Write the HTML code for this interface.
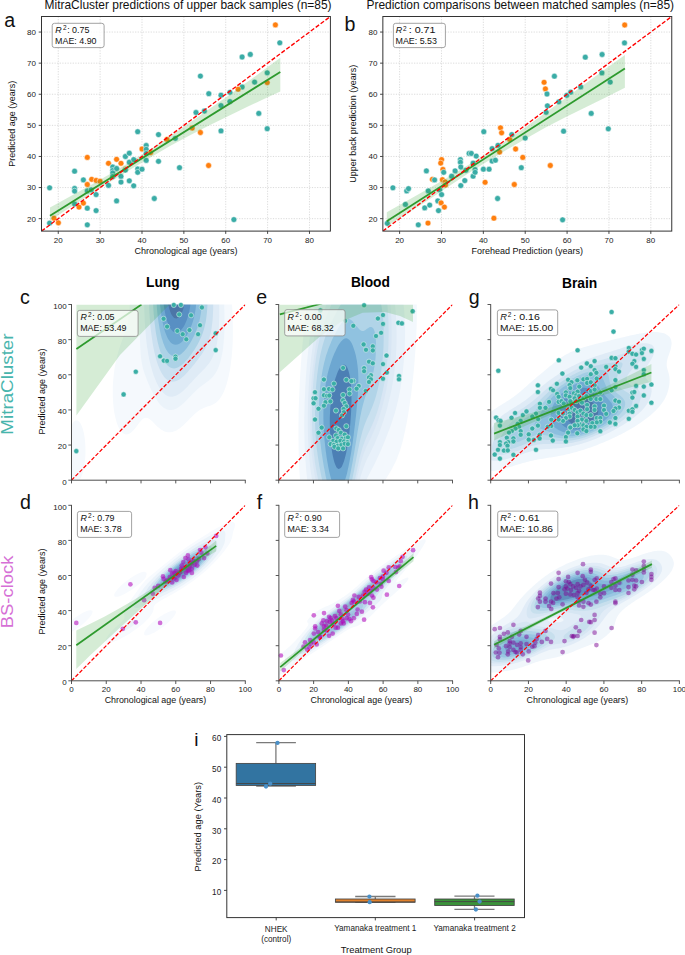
<!DOCTYPE html>
<html><head><meta charset="utf-8"><style>
html,body{margin:0;padding:0;background:#fff;}
body{width:685px;height:955px;overflow:hidden;}
svg{display:block;font-family:"Liberation Sans", sans-serif;}
.pt circle{r:2.55px;fill:#3aaea6;stroke:#fff;stroke-width:0.45px;}
.pp circle{r:2.35px;fill:#b000b8;fill-opacity:0.55;}
.ph circle{r:2.35px;fill:#7d0a95;fill-opacity:0.5;}
.pa circle{r:2.9px;stroke:#fff;stroke-width:0.5px;}
.pa .t{fill:#3aaca6;}.pa .o{fill:#ff7f0e;}
</style></head><body>
<svg width="685" height="955" viewBox="0 0 685 955">
<rect width="685" height="955" fill="#fff"/>
<clipPath id="clipa"><rect x="41.5" y="16.5" width="288.9" height="214.6"/></clipPath>
<line x1="58.25" y1="16.5" x2="58.25" y2="231.1" stroke="#cbcbcb" stroke-width="0.7" stroke-dasharray="1.2,1.4"/>
<line x1="41.5" y1="218.66" x2="330.4" y2="218.66" stroke="#cbcbcb" stroke-width="0.7" stroke-dasharray="1.2,1.4"/>
<line x1="100.12" y1="16.5" x2="100.12" y2="231.1" stroke="#cbcbcb" stroke-width="0.7" stroke-dasharray="1.2,1.4"/>
<line x1="41.5" y1="187.56" x2="330.4" y2="187.56" stroke="#cbcbcb" stroke-width="0.7" stroke-dasharray="1.2,1.4"/>
<line x1="141.99" y1="16.5" x2="141.99" y2="231.1" stroke="#cbcbcb" stroke-width="0.7" stroke-dasharray="1.2,1.4"/>
<line x1="41.5" y1="156.46" x2="330.4" y2="156.46" stroke="#cbcbcb" stroke-width="0.7" stroke-dasharray="1.2,1.4"/>
<line x1="183.86" y1="16.5" x2="183.86" y2="231.1" stroke="#cbcbcb" stroke-width="0.7" stroke-dasharray="1.2,1.4"/>
<line x1="41.5" y1="125.36" x2="330.4" y2="125.36" stroke="#cbcbcb" stroke-width="0.7" stroke-dasharray="1.2,1.4"/>
<line x1="225.73" y1="16.5" x2="225.73" y2="231.1" stroke="#cbcbcb" stroke-width="0.7" stroke-dasharray="1.2,1.4"/>
<line x1="41.5" y1="94.25" x2="330.4" y2="94.25" stroke="#cbcbcb" stroke-width="0.7" stroke-dasharray="1.2,1.4"/>
<line x1="267.6" y1="16.5" x2="267.6" y2="231.1" stroke="#cbcbcb" stroke-width="0.7" stroke-dasharray="1.2,1.4"/>
<line x1="41.5" y1="63.15" x2="330.4" y2="63.15" stroke="#cbcbcb" stroke-width="0.7" stroke-dasharray="1.2,1.4"/>
<line x1="309.47" y1="16.5" x2="309.47" y2="231.1" stroke="#cbcbcb" stroke-width="0.7" stroke-dasharray="1.2,1.4"/>
<line x1="41.5" y1="32.05" x2="330.4" y2="32.05" stroke="#cbcbcb" stroke-width="0.7" stroke-dasharray="1.2,1.4"/>
<g class="pa"><circle class="t" cx="49.6" cy="187.8" r="2.9"/><circle class="t" cx="49.6" cy="223.1" r="2.9"/><circle class="o" cx="54.0" cy="218.2" r="2.9"/><circle class="o" cx="58.4" cy="222.8" r="2.9"/><circle class="t" cx="74.6" cy="171.2" r="2.9"/><circle class="t" cx="74.6" cy="188.5" r="2.9"/><circle class="t" cx="74.6" cy="191.1" r="2.9"/><circle class="t" cx="74.6" cy="204.0" r="2.9"/><circle class="o" cx="79.0" cy="207.1" r="2.9"/><circle class="o" cx="83.4" cy="203.1" r="2.9"/><circle class="t" cx="83.4" cy="179.9" r="2.9"/><circle class="t" cx="87.3" cy="208.2" r="2.9"/><circle class="t" cx="87.3" cy="224.8" r="2.9"/><circle class="o" cx="87.3" cy="157.4" r="2.9"/><circle class="o" cx="87.3" cy="184.5" r="2.9"/><circle class="t" cx="87.3" cy="190.9" r="2.9"/><circle class="t" cx="91.2" cy="189.8" r="2.9"/><circle class="o" cx="91.7" cy="179.3" r="2.9"/><circle class="o" cx="96.1" cy="180.4" r="2.9"/><circle class="o" cx="100.0" cy="181.2" r="2.9"/><circle class="t" cx="96.1" cy="194.6" r="2.9"/><circle class="t" cx="96.1" cy="210.6" r="2.9"/><circle class="t" cx="108.5" cy="185.4" r="2.9"/><circle class="o" cx="108.5" cy="163.3" r="2.9"/><circle class="t" cx="112.7" cy="167.0" r="2.9"/><circle class="t" cx="112.7" cy="170.5" r="2.9"/><circle class="t" cx="112.7" cy="172.9" r="2.9"/><circle class="t" cx="112.7" cy="176.4" r="2.9"/><circle class="t" cx="116.6" cy="168.5" r="2.9"/><circle class="t" cx="116.6" cy="200.9" r="2.9"/><circle class="o" cx="116.6" cy="159.3" r="2.9"/><circle class="o" cx="121.0" cy="163.3" r="2.9"/><circle class="t" cx="121.0" cy="176.4" r="2.9"/><circle class="t" cx="121.0" cy="182.1" r="2.9"/><circle class="o" cx="125.4" cy="169.2" r="2.9"/><circle class="t" cx="125.4" cy="156.5" r="2.9"/><circle class="t" cx="125.4" cy="170.1" r="2.9"/><circle class="t" cx="129.3" cy="153.2" r="2.9"/><circle class="t" cx="129.3" cy="162.2" r="2.9"/><circle class="t" cx="129.3" cy="180.8" r="2.9"/><circle class="t" cx="133.7" cy="159.6" r="2.9"/><circle class="t" cx="133.7" cy="185.8" r="2.9"/><circle class="t" cx="137.7" cy="131.7" r="2.9"/><circle class="t" cx="137.7" cy="169.0" r="2.9"/><circle class="t" cx="137.7" cy="172.3" r="2.9"/><circle class="t" cx="142.0" cy="169.2" r="2.9"/><circle class="o" cx="142.0" cy="149.0" r="2.9"/><circle class="t" cx="146.2" cy="145.5" r="2.9"/><circle class="t" cx="146.2" cy="149.3" r="2.9"/><circle class="t" cx="146.2" cy="153.4" r="2.9"/><circle class="t" cx="146.2" cy="160.4" r="2.9"/><circle class="o" cx="150.6" cy="152.6" r="2.9"/><circle class="t" cx="154.3" cy="198.5" r="2.9"/><circle class="t" cx="158.5" cy="134.6" r="2.9"/><circle class="t" cx="158.5" cy="161.3" r="2.9"/><circle class="o" cx="167.0" cy="139.4" r="2.9"/><circle class="t" cx="175.3" cy="138.3" r="2.9"/><circle class="t" cx="179.5" cy="167.7" r="2.9"/><circle class="o" cx="275.4" cy="24.9" r="2.9"/><circle class="t" cx="279.8" cy="42.8" r="2.9"/><circle class="t" cx="242.1" cy="57.0" r="2.9"/><circle class="t" cx="250.3" cy="54.4" r="2.9"/><circle class="t" cx="200.4" cy="76.1" r="2.9"/><circle class="t" cx="267.2" cy="72.8" r="2.9"/><circle class="t" cx="254.6" cy="82.1" r="2.9"/><circle class="o" cx="267.2" cy="82.6" r="2.9"/><circle class="t" cx="242.1" cy="87.0" r="2.9"/><circle class="o" cx="238.1" cy="89.2" r="2.9"/><circle class="t" cx="208.8" cy="93.7" r="2.9"/><circle class="t" cx="221.0" cy="95.2" r="2.9"/><circle class="t" cx="229.9" cy="92.3" r="2.9"/><circle class="t" cx="221.0" cy="105.6" r="2.9"/><circle class="t" cx="229.9" cy="101.6" r="2.9"/><circle class="t" cx="196.0" cy="112.5" r="2.9"/><circle class="t" cx="204.4" cy="111.0" r="2.9"/><circle class="t" cx="258.8" cy="113.4" r="2.9"/><circle class="o" cx="192.2" cy="128.0" r="2.9"/><circle class="o" cx="200.4" cy="132.5" r="2.9"/><circle class="t" cx="221.0" cy="130.9" r="2.9"/><circle class="t" cx="267.2" cy="128.7" r="2.9"/><circle class="o" cx="208.6" cy="165.5" r="2.9"/><circle class="t" cx="233.9" cy="219.6" r="2.9"/></g>
<path d="M50 207.4 L70 196.61 L90 185.52 L110 174.04 L130 162.05 L150 149.46 L170 136.17 L190 122.58 L210 108.6 L230 94.51 L250 80.12 L265 69.05 L280.3 57.7 L280.3 91.4 L265 98.55 L250 105.62 L230 115.21 L210 125 L190 135.18 L170 146.07 L150 157.66 L130 169.65 L110 182.04 L90 194.72 L70 207.61 L50 220.4Z" fill="#2ca02c" fill-opacity="0.2" clip-path="url(#clipa)"/>
<line x1="50" y1="215.7" x2="280.3" y2="71.9" stroke="#2e9a2e" stroke-width="1.8"/>
<line x1="41.5" y1="231.1" x2="330.4" y2="16.5" stroke="#ff0000" stroke-width="1.35" stroke-dasharray="4.2,1.9" clip-path="url(#clipa)"/>
<rect x="41.5" y="16.5" width="288.9" height="214.6" fill="none" stroke="#333" stroke-width="1"/>
<line x1="58.25" y1="231.1" x2="58.25" y2="233.9" stroke="#333" stroke-width="0.9"/>
<text x="58.25" y="242.7" font-size="8" text-anchor="middle" font-weight="normal" fill="#222">20</text>
<line x1="38.7" y1="218.66" x2="41.5" y2="218.66" stroke="#333" stroke-width="0.9"/>
<text x="36" y="221.51" font-size="8" text-anchor="end" font-weight="normal" fill="#222">20</text>
<line x1="100.12" y1="231.1" x2="100.12" y2="233.9" stroke="#333" stroke-width="0.9"/>
<text x="100.12" y="242.7" font-size="8" text-anchor="middle" font-weight="normal" fill="#222">30</text>
<line x1="38.7" y1="187.56" x2="41.5" y2="187.56" stroke="#333" stroke-width="0.9"/>
<text x="36" y="190.41" font-size="8" text-anchor="end" font-weight="normal" fill="#222">30</text>
<line x1="141.99" y1="231.1" x2="141.99" y2="233.9" stroke="#333" stroke-width="0.9"/>
<text x="141.99" y="242.7" font-size="8" text-anchor="middle" font-weight="normal" fill="#222">40</text>
<line x1="38.7" y1="156.46" x2="41.5" y2="156.46" stroke="#333" stroke-width="0.9"/>
<text x="36" y="159.31" font-size="8" text-anchor="end" font-weight="normal" fill="#222">40</text>
<line x1="183.86" y1="231.1" x2="183.86" y2="233.9" stroke="#333" stroke-width="0.9"/>
<text x="183.86" y="242.7" font-size="8" text-anchor="middle" font-weight="normal" fill="#222">50</text>
<line x1="38.7" y1="125.36" x2="41.5" y2="125.36" stroke="#333" stroke-width="0.9"/>
<text x="36" y="128.21" font-size="8" text-anchor="end" font-weight="normal" fill="#222">50</text>
<line x1="225.73" y1="231.1" x2="225.73" y2="233.9" stroke="#333" stroke-width="0.9"/>
<text x="225.73" y="242.7" font-size="8" text-anchor="middle" font-weight="normal" fill="#222">60</text>
<line x1="38.7" y1="94.25" x2="41.5" y2="94.25" stroke="#333" stroke-width="0.9"/>
<text x="36" y="97.1" font-size="8" text-anchor="end" font-weight="normal" fill="#222">60</text>
<line x1="267.6" y1="231.1" x2="267.6" y2="233.9" stroke="#333" stroke-width="0.9"/>
<text x="267.6" y="242.7" font-size="8" text-anchor="middle" font-weight="normal" fill="#222">70</text>
<line x1="38.7" y1="63.15" x2="41.5" y2="63.15" stroke="#333" stroke-width="0.9"/>
<text x="36" y="66" font-size="8" text-anchor="end" font-weight="normal" fill="#222">70</text>
<line x1="309.47" y1="231.1" x2="309.47" y2="233.9" stroke="#333" stroke-width="0.9"/>
<text x="309.47" y="242.7" font-size="8" text-anchor="middle" font-weight="normal" fill="#222">80</text>
<line x1="38.7" y1="32.05" x2="41.5" y2="32.05" stroke="#333" stroke-width="0.9"/>
<text x="36" y="34.9" font-size="8" text-anchor="end" font-weight="normal" fill="#222">80</text>
<rect x="52.2" y="23.3" width="51.9" height="24.3" rx="2.3" fill="#fff" fill-opacity="0.8" stroke="#8c8c8c" stroke-width="0.8"/>
<text y="32.7" font-size="8.9" fill="#111"><tspan x="55.3" font-style="italic">R</tspan><tspan x="62.9" dy="-2.6" font-size="6.5">2</tspan><tspan x="67.2" dy="2.6">: 0.75</tspan></text>
<text x="55.1" y="43.6" font-size="8.9" text-anchor="start" font-weight="normal" fill="#111">MAE: 4.90</text>
<text x="44.6" y="8.9" font-size="11.95" text-anchor="start" font-weight="normal" fill="#111">MitraCluster predictions of upper back samples (n=85)</text>
<text x="185.95" y="254.1" font-size="9" text-anchor="middle" font-weight="normal" fill="#111">Chronological age (years)</text>
<text x="15.3" y="123.8" font-size="9" text-anchor="middle" font-weight="normal" fill="#111" transform="rotate(-90 15.3 123.8)">Predicted age (years)</text>
<text x="4.2" y="27.2" font-size="19.6" text-anchor="start" font-weight="normal" fill="#111">a</text>
<clipPath id="clipb"><rect x="382.85" y="16.5" width="288.9" height="214.6"/></clipPath>
<line x1="399.6" y1="16.5" x2="399.6" y2="231.1" stroke="#cbcbcb" stroke-width="0.7" stroke-dasharray="1.2,1.4"/>
<line x1="382.85" y1="218.66" x2="671.75" y2="218.66" stroke="#cbcbcb" stroke-width="0.7" stroke-dasharray="1.2,1.4"/>
<line x1="441.47" y1="16.5" x2="441.47" y2="231.1" stroke="#cbcbcb" stroke-width="0.7" stroke-dasharray="1.2,1.4"/>
<line x1="382.85" y1="187.56" x2="671.75" y2="187.56" stroke="#cbcbcb" stroke-width="0.7" stroke-dasharray="1.2,1.4"/>
<line x1="483.34" y1="16.5" x2="483.34" y2="231.1" stroke="#cbcbcb" stroke-width="0.7" stroke-dasharray="1.2,1.4"/>
<line x1="382.85" y1="156.46" x2="671.75" y2="156.46" stroke="#cbcbcb" stroke-width="0.7" stroke-dasharray="1.2,1.4"/>
<line x1="525.21" y1="16.5" x2="525.21" y2="231.1" stroke="#cbcbcb" stroke-width="0.7" stroke-dasharray="1.2,1.4"/>
<line x1="382.85" y1="125.36" x2="671.75" y2="125.36" stroke="#cbcbcb" stroke-width="0.7" stroke-dasharray="1.2,1.4"/>
<line x1="567.08" y1="16.5" x2="567.08" y2="231.1" stroke="#cbcbcb" stroke-width="0.7" stroke-dasharray="1.2,1.4"/>
<line x1="382.85" y1="94.25" x2="671.75" y2="94.25" stroke="#cbcbcb" stroke-width="0.7" stroke-dasharray="1.2,1.4"/>
<line x1="608.95" y1="16.5" x2="608.95" y2="231.1" stroke="#cbcbcb" stroke-width="0.7" stroke-dasharray="1.2,1.4"/>
<line x1="382.85" y1="63.15" x2="671.75" y2="63.15" stroke="#cbcbcb" stroke-width="0.7" stroke-dasharray="1.2,1.4"/>
<line x1="650.82" y1="16.5" x2="650.82" y2="231.1" stroke="#cbcbcb" stroke-width="0.7" stroke-dasharray="1.2,1.4"/>
<line x1="382.85" y1="32.05" x2="671.75" y2="32.05" stroke="#cbcbcb" stroke-width="0.7" stroke-dasharray="1.2,1.4"/>
<g class="pa"><circle class="t" cx="387.3" cy="223.3" r="2.9"/><circle class="t" cx="392.9" cy="187.8" r="2.9"/><circle class="t" cx="405.4" cy="204.4" r="2.9"/><circle class="t" cx="406.7" cy="190.9" r="2.9"/><circle class="t" cx="408.5" cy="188.7" r="2.9"/><circle class="t" cx="418.3" cy="224.8" r="2.9"/><circle class="t" cx="424.7" cy="207.9" r="2.9"/><circle class="t" cx="426.4" cy="170.9" r="2.9"/><circle class="t" cx="428.2" cy="190.9" r="2.9"/><circle class="t" cx="429.7" cy="205.1" r="2.9"/><circle class="o" cx="428.0" cy="223.1" r="2.9"/><circle class="o" cx="432.4" cy="179.3" r="2.9"/><circle class="t" cx="434.6" cy="179.9" r="2.9"/><circle class="t" cx="437.8" cy="200.9" r="2.9"/><circle class="t" cx="438.5" cy="210.6" r="2.9"/><circle class="t" cx="439.8" cy="189.8" r="2.9"/><circle class="t" cx="441.6" cy="194.6" r="2.9"/><circle class="o" cx="441.6" cy="159.6" r="2.9"/><circle class="o" cx="440.7" cy="163.1" r="2.9"/><circle class="o" cx="442.9" cy="169.4" r="2.9"/><circle class="t" cx="443.7" cy="172.3" r="2.9"/><circle class="o" cx="442.4" cy="179.7" r="2.9"/><circle class="o" cx="445.1" cy="181.9" r="2.9"/><circle class="o" cx="445.5" cy="185.0" r="2.9"/><circle class="o" cx="441.1" cy="202.9" r="2.9"/><circle class="o" cx="444.4" cy="207.1" r="2.9"/><circle class="t" cx="451.6" cy="176.2" r="2.9"/><circle class="t" cx="455.1" cy="170.9" r="2.9"/><circle class="t" cx="460.4" cy="159.6" r="2.9"/><circle class="t" cx="460.4" cy="162.2" r="2.9"/><circle class="t" cx="460.8" cy="167.0" r="2.9"/><circle class="t" cx="460.8" cy="185.6" r="2.9"/><circle class="t" cx="464.8" cy="180.6" r="2.9"/><circle class="t" cx="465.9" cy="170.3" r="2.9"/><circle class="t" cx="469.1" cy="153.4" r="2.9"/><circle class="t" cx="471.3" cy="153.4" r="2.9"/><circle class="t" cx="473.1" cy="163.1" r="2.9"/><circle class="t" cx="473.1" cy="176.2" r="2.9"/><circle class="t" cx="475.1" cy="169.6" r="2.9"/><circle class="t" cx="475.1" cy="172.3" r="2.9"/><circle class="t" cx="476.2" cy="156.1" r="2.9"/><circle class="o" cx="485.1" cy="182.3" r="2.9"/><circle class="t" cx="483.4" cy="169.2" r="2.9"/><circle class="t" cx="483.8" cy="131.7" r="2.9"/><circle class="t" cx="489.1" cy="169.2" r="2.9"/><circle class="t" cx="492.1" cy="148.6" r="2.9"/><circle class="t" cx="492.1" cy="161.1" r="2.9"/><circle class="t" cx="495.4" cy="160.2" r="2.9"/><circle class="t" cx="498.0" cy="145.3" r="2.9"/><circle class="o" cx="499.6" cy="152.1" r="2.9"/><circle class="t" cx="497.6" cy="198.5" r="2.9"/><circle class="o" cx="493.9" cy="218.2" r="2.9"/><circle class="o" cx="500.5" cy="127.8" r="2.9"/><circle class="o" cx="501.6" cy="132.8" r="2.9"/><circle class="t" cx="511.8" cy="134.6" r="2.9"/><circle class="o" cx="509.7" cy="139.4" r="2.9"/><circle class="o" cx="515.6" cy="149.0" r="2.9"/><circle class="t" cx="521.3" cy="167.7" r="2.9"/><circle class="o" cx="514.3" cy="184.5" r="2.9"/><circle class="o" cx="522.8" cy="157.4" r="2.9"/><circle class="t" cx="525.2" cy="138.1" r="2.9"/><circle class="o" cx="624.7" cy="25.0" r="2.9"/><circle class="t" cx="624.5" cy="42.9" r="2.9"/><circle class="t" cx="585.3" cy="57.2" r="2.9"/><circle class="t" cx="602.1" cy="54.5" r="2.9"/><circle class="t" cx="554.4" cy="76.2" r="2.9"/><circle class="o" cx="544.1" cy="82.3" r="2.9"/><circle class="o" cx="545.4" cy="88.9" r="2.9"/><circle class="t" cx="547.0" cy="94.0" r="2.9"/><circle class="t" cx="601.9" cy="72.9" r="2.9"/><circle class="t" cx="610.2" cy="82.1" r="2.9"/><circle class="t" cx="580.7" cy="86.9" r="2.9"/><circle class="t" cx="570.6" cy="92.2" r="2.9"/><circle class="t" cx="566.7" cy="95.3" r="2.9"/><circle class="t" cx="558.8" cy="101.8" r="2.9"/><circle class="t" cx="547.4" cy="105.8" r="2.9"/><circle class="t" cx="546.1" cy="112.3" r="2.9"/><circle class="t" cx="591.2" cy="113.4" r="2.9"/><circle class="t" cx="563.6" cy="131.2" r="2.9"/><circle class="t" cx="608.3" cy="128.8" r="2.9"/><circle class="o" cx="550.3" cy="165.5" r="2.9"/><circle class="t" cx="562.6" cy="219.8" r="2.9"/></g>
<path d="M386.8 212.2 L406.64 200.98 L426.48 189.77 L446.32 178.25 L466.17 166.33 L486.01 153.82 L505.85 140.7 L525.69 126.88 L545.53 112.67 L565.38 98.25 L585.22 83.73 L605.06 69.32 L624.9 55 L624.9 87.8 L605.06 97.82 L585.22 107.53 L565.38 117.25 L545.53 127.47 L525.69 138.68 L505.85 150.3 L486.01 162.22 L466.17 174.83 L446.32 188.05 L426.48 201.27 L406.64 213.98 L386.8 226.2Z" fill="#2ca02c" fill-opacity="0.2" clip-path="url(#clipb)"/>
<line x1="386.8" y1="221.2" x2="624.9" y2="68.6" stroke="#2e9a2e" stroke-width="1.8"/>
<line x1="382.85" y1="231.1" x2="671.75" y2="16.5" stroke="#ff0000" stroke-width="1.35" stroke-dasharray="4.2,1.9" clip-path="url(#clipb)"/>
<rect x="382.85" y="16.5" width="288.9" height="214.6" fill="none" stroke="#333" stroke-width="1"/>
<line x1="399.6" y1="231.1" x2="399.6" y2="233.9" stroke="#333" stroke-width="0.9"/>
<text x="399.6" y="242.7" font-size="8" text-anchor="middle" font-weight="normal" fill="#222">20</text>
<line x1="380.05" y1="218.66" x2="382.85" y2="218.66" stroke="#333" stroke-width="0.9"/>
<text x="377.35" y="221.51" font-size="8" text-anchor="end" font-weight="normal" fill="#222">20</text>
<line x1="441.47" y1="231.1" x2="441.47" y2="233.9" stroke="#333" stroke-width="0.9"/>
<text x="441.47" y="242.7" font-size="8" text-anchor="middle" font-weight="normal" fill="#222">30</text>
<line x1="380.05" y1="187.56" x2="382.85" y2="187.56" stroke="#333" stroke-width="0.9"/>
<text x="377.35" y="190.41" font-size="8" text-anchor="end" font-weight="normal" fill="#222">30</text>
<line x1="483.34" y1="231.1" x2="483.34" y2="233.9" stroke="#333" stroke-width="0.9"/>
<text x="483.34" y="242.7" font-size="8" text-anchor="middle" font-weight="normal" fill="#222">40</text>
<line x1="380.05" y1="156.46" x2="382.85" y2="156.46" stroke="#333" stroke-width="0.9"/>
<text x="377.35" y="159.31" font-size="8" text-anchor="end" font-weight="normal" fill="#222">40</text>
<line x1="525.21" y1="231.1" x2="525.21" y2="233.9" stroke="#333" stroke-width="0.9"/>
<text x="525.21" y="242.7" font-size="8" text-anchor="middle" font-weight="normal" fill="#222">50</text>
<line x1="380.05" y1="125.36" x2="382.85" y2="125.36" stroke="#333" stroke-width="0.9"/>
<text x="377.35" y="128.21" font-size="8" text-anchor="end" font-weight="normal" fill="#222">50</text>
<line x1="567.08" y1="231.1" x2="567.08" y2="233.9" stroke="#333" stroke-width="0.9"/>
<text x="567.08" y="242.7" font-size="8" text-anchor="middle" font-weight="normal" fill="#222">60</text>
<line x1="380.05" y1="94.25" x2="382.85" y2="94.25" stroke="#333" stroke-width="0.9"/>
<text x="377.35" y="97.1" font-size="8" text-anchor="end" font-weight="normal" fill="#222">60</text>
<line x1="608.95" y1="231.1" x2="608.95" y2="233.9" stroke="#333" stroke-width="0.9"/>
<text x="608.95" y="242.7" font-size="8" text-anchor="middle" font-weight="normal" fill="#222">70</text>
<line x1="380.05" y1="63.15" x2="382.85" y2="63.15" stroke="#333" stroke-width="0.9"/>
<text x="377.35" y="66" font-size="8" text-anchor="end" font-weight="normal" fill="#222">70</text>
<line x1="650.82" y1="231.1" x2="650.82" y2="233.9" stroke="#333" stroke-width="0.9"/>
<text x="650.82" y="242.7" font-size="8" text-anchor="middle" font-weight="normal" fill="#222">80</text>
<line x1="380.05" y1="32.05" x2="382.85" y2="32.05" stroke="#333" stroke-width="0.9"/>
<text x="377.35" y="34.9" font-size="8" text-anchor="end" font-weight="normal" fill="#222">80</text>
<rect x="393.4" y="23.3" width="52" height="24.3" rx="2.3" fill="#fff" fill-opacity="0.8" stroke="#8c8c8c" stroke-width="0.8"/>
<text y="32.7" font-size="8.9" fill="#111"><tspan x="395.7" font-style="italic">R</tspan><tspan x="403.1" dy="-2.1" font-size="6.5">2</tspan><tspan x="408.7" dy="2.1" textLength="26.8" lengthAdjust="spacingAndGlyphs">: 0.71</tspan></text>
<text x="395.5" y="43.6" font-size="8.9" text-anchor="start" font-weight="normal" fill="#111">MAE: 5.53</text>
<text x="366.5" y="8.9" font-size="11.95" text-anchor="start" font-weight="normal" fill="#111">Prediction comparisons between matched samples (n=85)</text>
<text x="527.3" y="254.1" font-size="9" text-anchor="middle" font-weight="normal" fill="#111">Forehead Prediction (years)</text>
<text x="356.3" y="123.8" font-size="9" text-anchor="middle" font-weight="normal" fill="#111" transform="rotate(-90 356.3 123.8)">Upper back prediction (years)</text>
<text x="344.6" y="30.6" font-size="19.6" text-anchor="start" font-weight="normal" fill="#111">b</text>
<clipPath id="clipc"><rect x="71.5" y="304.5" width="173.8" height="175.7"/></clipPath>
<clipPath id="clipe"><rect x="278.7" y="304.5" width="173.8" height="175.7"/></clipPath>
<clipPath id="clipg"><rect x="490.7" y="304.5" width="188.7" height="175.7"/></clipPath>
<clipPath id="clipd"><rect x="71.5" y="505.3" width="173.8" height="175.5"/></clipPath>
<clipPath id="clipf"><rect x="278.9" y="505.3" width="173.7" height="175.5"/></clipPath>
<clipPath id="cliph"><rect x="490.7" y="505.3" width="188.7" height="175.5"/></clipPath>
<g opacity="0.72" clip-path="url(#clipc)">
<path d="M73.5 480.4L74.5 481.3L76.6 481.9L78.6 480.8L79.4 479.9L80.7 477.9L81.3 476.7L82.5 473.6L83.3 470.4L83.8 468.5L84.0 467.2L84.5 464.1L84.8 462.0L85.2 457.8L85.4 454.6L85.4 451.4L85.4 448.3L85.3 445.1L85.1 442.0L84.8 439.3L84.3 435.6L83.8 432.9L82.9 429.3L81.8 426.2L80.7 423.8L79.6 422.2L78.6 421.2L77.6 420.5L75.5 420.5L73.5 422.0L72.8 423.0L71.4 425.5L70.4 428.1L70.0 429.3L69.4 431.8L68.6 435.6L68.5 437.1L68.5 438.8L68.5 442.0L68.5 445.1L68.5 448.3L68.5 451.4L68.5 454.0L68.5 457.8L68.5 460.9L68.5 464.1L68.5 465.9L68.5 467.2L69.2 470.4L70.1 473.6L71.2 476.7L72.4 479.1ZM122.9 433.1L123.9 433.8L125.9 434.4L128.0 434.2L130.1 433.2L131.1 432.5L132.1 431.6L133.2 430.6L134.2 429.4L135.2 428.2L136.2 426.9L137.3 425.5L138.3 424.1L139.1 423.0L140.4 421.4L141.4 420.3L142.4 419.3L143.4 418.5L145.5 417.8L147.6 418.0L149.6 419.1L150.6 419.9L151.7 420.8L152.7 421.8L153.7 422.8L154.8 423.9L155.8 425.0L156.8 425.9L157.8 426.9L158.9 427.8L159.9 428.6L160.9 429.4L162.0 430.1L164.0 431.2L166.1 431.9L168.1 432.2L170.2 432.3L172.3 432.0L174.3 431.3L176.4 430.4L178.1 429.3L179.5 428.4L180.5 427.7L181.5 426.8L182.5 425.9L183.6 425.0L184.6 424.1L185.6 423.0L186.7 422.0L187.7 421.0L188.7 419.9L189.7 418.8L190.8 417.8L191.8 416.7L192.8 415.7L193.9 414.7L194.9 413.7L195.9 412.9L197.0 412.0L198.0 411.2L199.0 410.5L200.0 409.8L202.1 408.7L204.2 407.7L205.5 407.2L207.2 406.6L209.3 406.0L211.4 405.2L213.4 404.3L215.5 403.0L216.5 402.2L217.5 401.3L218.6 400.2L219.6 398.9L220.4 397.7L221.6 395.9L222.4 394.6L223.7 391.9L224.7 389.4L225.2 388.2L225.8 386.6L226.3 385.1L226.8 383.4L227.2 381.9L227.8 379.7L228.8 375.6L229.4 372.4L229.9 370.0L230.5 366.1L230.9 363.3L231.3 359.8L231.7 356.6L231.9 353.7L232.2 350.3L232.4 347.2L232.6 344.0L232.7 340.8L232.8 337.7L232.8 334.5L232.8 331.4L232.8 328.2L232.8 325.0L232.7 321.9L232.6 318.7L232.5 315.6L232.4 312.4L232.3 309.2L232.1 306.1L231.9 303.1L231.8 301.5L230.5 301.5L229.1 301.5L227.8 301.5L226.5 301.5L224.9 301.5L223.7 301.5L222.4 301.5L220.8 301.5L219.0 301.5L217.5 301.5L216.0 301.5L214.4 301.5L212.4 301.5L211.1 301.5L209.7 301.5L208.3 301.5L206.8 301.5L205.3 301.5L204.0 301.5L202.1 301.5L200.6 301.5L199.3 301.5L198.0 301.5L196.4 301.5L194.9 301.5L193.0 301.5L191.1 301.5L189.7 301.5L187.7 301.5L185.6 301.5L184.4 301.5L182.5 301.5L180.5 301.5L178.4 301.5L176.4 301.5L174.3 301.5L172.3 301.5L170.2 301.5L168.8 301.5L167.1 301.5L165.6 301.5L164.0 301.5L162.1 301.5L160.9 301.5L158.9 301.5L156.8 301.5L154.8 301.5L152.7 301.5L150.6 301.5L149.2 301.5L147.6 301.5L146.3 301.5L144.8 301.5L143.4 301.5L142.2 301.5L140.8 301.5L139.6 301.5L138.3 301.5L136.9 301.5L135.5 301.5L134.2 301.5L132.7 301.5L131.4 301.5L130.1 301.5L129.9 302.9L129.8 306.1L129.6 309.2L129.3 312.4L129.0 314.9L128.5 318.7L128.0 321.5L127.2 325.0L126.4 328.2L125.9 329.7L125.4 331.4L124.9 332.9L124.3 334.5L123.9 335.8L123.2 337.7L122.0 340.8L120.9 344.0L119.8 347.2L118.8 350.3L117.9 353.5L117.0 356.6L116.7 358.0L116.3 359.8L115.7 362.7L115.0 366.1L114.6 368.4L114.0 372.4L113.7 375.6L113.4 378.8L113.1 381.9L112.9 385.1L112.8 388.2L112.8 391.4L112.8 394.6L112.9 397.7L113.1 400.9L113.3 404.0L113.6 406.9L114.0 410.4L114.5 413.5L115.2 416.7L115.7 418.7L116.7 422.4L117.7 425.2L118.7 427.6L119.7 429.3L120.8 431.0L121.8 432.2ZM112.6 301.5L114.6 301.5L116.7 301.5L118.3 301.5L119.8 301.5L121.4 301.5L122.9 301.5L124.3 301.5L122.9 301.5L120.8 301.5L119.0 301.5L117.7 301.5L115.7 301.5L113.6 301.5L111.5 301.5L109.7 301.5L108.5 301.5L107.2 301.5L105.9 301.5L107.2 301.5L108.5 301.5L109.9 301.5L111.5 301.5Z" fill="#f1f7fd" fill-rule="evenodd"/>
<path d="M164.0 407.9L165.1 408.6L167.1 409.5L169.2 409.9L171.2 410.0L173.3 409.7L175.3 409.0L177.4 407.9L178.4 407.3L179.5 406.6L180.5 405.8L181.5 405.0L182.5 404.1L183.6 403.2L184.6 402.2L185.6 401.2L186.7 400.2L187.7 399.1L188.7 398.0L189.7 397.0L190.8 395.9L191.8 394.8L192.8 393.8L193.9 392.7L194.9 391.7L195.9 390.7L197.0 389.8L198.0 388.8L199.0 387.9L200.0 387.1L201.1 386.2L202.1 385.4L203.1 384.7L204.2 383.9L205.2 383.2L206.2 382.4L207.2 381.7L208.3 380.9L209.3 380.1L210.3 379.3L211.4 378.3L212.4 377.3L213.4 376.1L214.4 374.8L215.5 373.3L216.5 371.6L217.5 369.5L218.6 367.1L219.6 364.3L220.0 363.0L220.6 360.8L221.6 356.6L222.2 353.5L222.7 350.9L223.2 347.2L223.5 344.0L223.7 342.3L223.8 340.8L224.1 337.7L224.2 334.5L224.4 331.4L224.5 328.2L224.5 325.0L224.5 321.9L224.5 318.7L224.5 315.6L224.4 312.4L224.3 309.2L224.2 306.1L224.1 302.9L224.0 301.5L222.7 301.5L221.4 301.5L220.0 301.5L218.6 301.5L217.4 301.5L215.9 301.5L214.4 301.5L212.4 301.5L211.1 301.5L209.8 301.5L208.5 301.5L207.2 301.5L205.3 301.5L203.5 301.5L202.1 301.5L200.0 301.5L198.0 301.5L195.9 301.5L193.9 301.5L191.8 301.5L190.2 301.5L188.7 301.5L187.4 301.5L185.8 301.5L184.6 301.5L183.3 301.5L181.9 301.5L180.5 301.5L178.9 301.5L177.4 301.5L175.3 301.5L173.3 301.5L171.2 301.5L169.2 301.5L167.1 301.5L165.1 301.5L163.0 301.5L160.9 301.5L158.9 301.5L156.8 301.5L154.8 301.5L153.5 301.5L152.3 301.5L151.0 301.5L149.6 301.5L148.2 301.5L146.7 301.5L145.5 301.5L144.1 301.5L142.8 301.5L141.4 301.5L140.1 301.5L139.3 302.9L139.3 306.1L139.4 309.2L139.4 312.4L139.5 315.6L139.5 318.7L139.6 321.9L139.6 325.0L139.7 328.2L139.7 331.4L139.8 334.5L139.9 337.7L140.0 340.8L140.1 344.0L140.2 347.2L140.4 349.7L140.6 353.5L140.9 356.6L141.3 359.8L141.8 363.0L142.4 365.9L143.2 369.3L144.2 372.4L145.3 375.6L146.5 378.8L147.6 381.4L148.6 383.9L149.1 385.1L149.6 386.2L150.5 388.2L151.7 390.7L152.7 392.8L153.7 394.6L154.8 396.6L155.4 397.7L156.8 400.0L157.8 401.5L158.9 402.9L159.8 404.0L160.9 405.3L162.0 406.3L163.0 407.2Z" fill="#e4eff9" fill-rule="evenodd"/>
<path d="M166.1 395.2L168.1 396.2L170.2 396.7L172.3 396.7L174.3 396.3L176.4 395.6L178.2 394.6L179.5 393.8L180.5 393.0L181.5 392.2L182.5 391.4L183.6 390.4L184.6 389.5L185.6 388.4L186.7 387.4L187.7 386.4L188.7 385.2L189.7 384.1L190.8 383.0L191.8 381.9L192.8 380.8L193.9 379.7L194.7 378.8L195.9 377.5L197.0 376.4L198.0 375.3L199.0 374.3L200.0 373.2L201.1 372.2L202.1 371.1L203.1 370.1L204.2 369.0L205.2 367.9L206.2 366.8L207.2 365.6L208.3 364.3L209.3 363.0L210.3 361.4L211.3 359.8L212.4 357.8L212.9 356.6L214.2 353.5L215.3 350.3L216.2 347.2L216.5 345.6L216.9 344.0L217.4 340.8L217.9 337.7L218.3 334.5L218.6 331.6L218.8 328.2L219.0 325.0L219.1 321.9L219.2 318.7L219.3 315.6L219.3 312.4L219.3 309.2L219.2 306.1L219.2 302.9L219.1 301.5L217.8 301.5L216.5 301.5L215.0 301.5L213.4 301.5L211.7 301.5L210.3 301.5L208.8 301.5L207.2 301.5L205.2 301.5L203.3 301.5L201.5 301.5L200.0 301.5L198.0 301.5L195.9 301.5L193.9 301.5L191.8 301.5L190.4 301.5L188.7 301.5L186.7 301.5L184.6 301.5L182.5 301.5L180.5 301.5L178.8 301.5L177.4 301.5L175.3 301.5L173.4 301.5L171.3 301.5L169.2 301.5L167.6 301.5L166.1 301.5L164.0 301.5L162.8 301.5L161.4 301.5L159.9 301.5L158.4 301.5L156.8 301.5L155.3 301.5L153.9 301.5L152.6 301.5L151.3 301.5L149.7 301.5L148.2 301.5L147.0 301.5L145.6 301.5L144.3 301.5L144.1 302.9L144.2 306.1L144.3 309.2L144.4 312.4L144.5 314.6L144.7 318.7L144.8 321.9L145.0 325.0L145.2 328.2L145.5 331.4L145.7 334.5L146.0 337.7L146.3 340.8L146.5 342.4L146.7 344.0L147.1 347.2L147.6 350.0L148.1 353.5L148.6 356.0L149.3 359.8L149.6 361.0L150.1 363.0L150.6 365.3L151.7 369.1L152.7 372.4L153.7 375.5L154.8 378.3L155.8 380.8L156.3 381.9L156.8 383.1L157.8 385.1L158.9 387.0L159.7 388.2L160.9 390.2L161.9 391.4L163.0 392.6L164.0 393.6L165.1 394.5Z" fill="#d3e4f3" fill-rule="evenodd"/>
<path d="M166.1 379.0L167.1 379.8L168.1 380.5L170.2 381.4L172.3 381.7L174.3 381.6L176.4 381.0L178.4 380.0L179.5 379.4L180.5 378.7L181.5 377.9L182.5 377.1L183.6 376.2L184.6 375.2L185.6 374.2L186.7 373.1L187.7 372.0L188.7 370.8L189.7 369.6L190.8 368.4L191.8 367.2L192.7 366.1L193.9 364.7L194.9 363.4L195.9 362.1L197.0 360.8L197.7 359.8L199.0 358.1L200.0 356.6L201.1 355.2L202.1 353.7L203.1 352.1L204.2 350.3L205.2 348.5L205.9 347.2L207.2 344.1L208.3 341.5L209.3 338.4L210.3 334.5L211.0 331.4L211.4 329.4L211.6 328.2L212.0 325.0L212.4 321.9L212.7 318.7L212.9 315.6L213.0 312.4L213.2 309.2L213.2 306.1L213.2 302.9L213.2 301.5L211.9 301.5L210.4 301.5L208.7 301.5L207.2 301.5L205.3 301.5L203.1 301.5L201.7 301.5L200.2 301.5L199.0 301.5L197.0 301.5L194.9 301.5L192.9 301.5L190.8 301.5L188.7 301.5L186.7 301.5L184.6 301.5L183.1 301.5L181.5 301.5L179.8 301.5L178.4 301.5L176.4 301.5L174.3 301.5L172.3 301.5L170.2 301.5L168.1 301.5L166.5 301.5L165.1 301.5L163.0 301.5L160.9 301.5L159.3 301.5L157.8 301.5L156.3 301.5L154.8 301.5L153.4 301.5L151.8 301.5L150.3 301.5L149.0 301.5L149.0 302.9L149.1 306.1L149.2 309.2L149.4 312.4L149.6 315.6L149.8 318.7L150.1 321.9L150.3 325.0L150.6 328.2L151.0 331.4L151.4 334.5L151.7 336.8L152.3 340.8L152.7 343.5L153.4 347.2L153.7 349.1L154.0 350.3L154.7 353.5L155.5 356.6L155.8 357.8L156.3 359.8L156.8 361.4L157.3 363.0L157.8 364.5L158.4 366.1L159.7 369.3L160.9 371.8L162.0 373.7L163.0 375.3L164.0 376.7L165.1 377.9Z" fill="#b8d5ea" fill-rule="evenodd"/>
<path d="M169.2 366.8L170.2 367.4L172.3 368.2L174.3 368.4L176.4 368.0L178.4 367.2L180.2 366.1L181.5 365.2L182.5 364.3L183.6 363.4L184.6 362.4L185.6 361.3L186.7 360.1L187.7 358.9L188.7 357.7L189.5 356.6L190.8 355.0L191.8 353.5L192.8 352.1L193.9 350.5L194.9 348.9L195.9 347.3L197.0 345.5L197.8 344.0L199.0 341.7L200.0 339.6L200.9 337.7L202.1 334.8L203.1 331.9L204.2 328.5L205.0 325.0L205.7 321.9L206.2 318.7L206.6 315.6L206.9 312.4L207.2 309.2L207.4 306.1L207.5 302.9L207.6 301.5L206.2 301.5L204.6 301.5L203.3 301.5L201.6 301.5L200.0 301.5L198.4 301.5L197.1 301.5L195.7 301.5L194.2 301.5L192.8 301.5L190.8 301.5L188.8 301.5L186.7 301.5L184.6 301.5L182.5 301.5L181.0 301.5L179.5 301.5L177.4 301.5L175.3 301.5L173.3 301.5L171.2 301.5L169.2 301.5L167.1 301.5L165.6 301.5L164.0 301.5L162.2 301.5L160.9 301.5L158.9 301.5L157.3 301.5L156.1 301.5L154.8 301.5L153.4 301.5L153.1 302.9L153.2 306.1L153.4 309.2L153.6 312.4L153.7 313.8L153.9 315.6L154.2 318.7L154.5 321.9L154.8 324.2L155.3 328.2L155.7 331.4L156.2 334.5L156.8 337.7L157.4 340.8L157.8 342.7L158.2 344.0L158.9 346.9L159.9 350.3L160.9 353.5L162.0 356.2L163.0 358.6L163.6 359.8L165.1 362.3L166.1 363.7L167.1 365.0L168.1 366.0Z" fill="#8dc1dd" fill-rule="evenodd"/>
<path d="M169.2 353.7L170.2 354.6L171.2 355.3L173.3 356.2L175.3 356.4L177.4 356.0L179.5 355.1L180.5 354.4L181.5 353.7L182.5 352.8L183.6 351.8L184.6 350.7L185.6 349.5L186.7 348.2L187.4 347.2L188.7 345.3L189.6 344.0L190.8 342.0L191.5 340.8L192.8 338.3L193.9 336.3L194.7 334.5L195.9 331.7L197.0 329.0L198.0 326.0L199.0 322.5L199.9 318.7L200.5 315.6L201.0 312.4L201.4 309.2L201.7 306.1L201.9 302.9L202.1 301.5L200.8 301.5L199.2 301.5L198.0 301.5L196.0 301.5L193.9 301.5L192.6 301.5L191.3 301.5L189.8 301.5L188.2 301.5L186.7 301.5L184.6 301.5L182.5 301.5L180.5 301.5L178.4 301.5L176.4 301.5L174.3 301.5L172.3 301.5L170.2 301.5L168.2 301.5L166.1 301.5L164.4 301.5L163.1 301.5L161.1 301.5L159.5 301.5L157.9 301.5L156.7 301.5L156.6 302.9L156.8 306.1L157.0 309.2L157.3 312.4L157.6 315.6L157.8 317.3L158.0 318.7L158.5 321.9L158.9 324.6L159.5 328.2L159.9 330.3L160.8 334.5L161.6 337.7L162.0 338.9L162.6 340.8L163.0 342.2L163.7 344.0L165.0 347.2L166.1 349.4L167.1 351.1L168.1 352.5L169.0 353.5Z" fill="#5fa6d1" fill-rule="evenodd"/>
<path d="M173.3 344.3L175.3 344.8L177.4 344.6L178.9 344.0L180.5 343.0L181.5 342.2L182.5 341.2L183.6 340.1L184.6 338.8L185.4 337.7L186.7 335.7L187.3 334.5L188.7 331.9L189.7 329.8L190.4 328.2L191.7 325.0L192.7 321.9L193.7 318.7L194.4 315.6L194.9 313.3L195.6 309.2L195.9 306.5L196.3 302.9L196.5 301.5L195.2 301.5L193.9 301.5L191.9 301.5L190.0 301.5L188.7 301.5L186.7 301.5L184.6 301.5L182.5 301.5L180.5 301.5L178.4 301.5L176.4 301.5L174.3 301.5L172.3 301.5L170.2 301.5L168.1 301.5L166.1 301.5L164.7 301.5L163.0 301.5L161.5 301.5L160.2 301.5L159.9 302.9L160.2 306.1L160.6 309.2L160.9 312.4L161.4 315.6L161.9 318.7L162.5 321.9L163.0 324.1L164.0 328.2L164.9 331.4L166.1 334.5L167.1 336.9L168.1 338.9L169.2 340.5L170.2 341.9L171.2 342.9L172.3 343.7Z" fill="#3787c0" fill-rule="evenodd"/>
<path d="M173.3 331.7L175.3 332.6L177.4 332.5L179.5 331.5L180.5 330.7L181.5 329.6L182.5 328.3L183.6 326.8L184.6 325.0L185.6 322.8L186.7 320.3L187.2 318.7L187.7 317.3L188.2 315.6L188.7 313.7L189.0 312.4L189.7 309.2L190.2 306.1L190.6 302.9L190.8 301.5L189.3 301.5L188.0 301.5L186.7 301.5L185.2 301.5L183.9 301.5L182.5 301.5L180.5 301.5L178.4 301.5L176.4 301.5L174.3 301.5L172.3 301.5L170.2 301.5L168.1 301.5L166.5 301.5L165.1 301.5L163.7 301.5L163.5 302.9L163.9 306.1L164.4 309.2L165.0 312.4L165.6 315.6L166.1 317.4L166.4 318.7L167.1 321.0L168.1 323.9L168.6 325.0L169.2 326.2L170.2 328.1L171.2 329.6L172.3 330.8Z" fill="#1865ac" fill-rule="evenodd"/>
<path d="M172.3 315.8L173.3 317.0L174.3 317.9L176.4 318.5L178.4 317.7L179.5 316.7L180.3 315.6L181.5 313.5L182.0 312.4L182.5 311.1L183.2 309.2L183.6 307.8L184.0 306.1L184.6 302.9L185.0 301.5L183.7 301.5L182.1 301.5L180.5 301.5L178.4 301.5L176.7 301.5L175.3 301.5L173.3 301.5L171.2 301.5L169.2 301.5L167.6 301.5L167.9 302.9L168.1 304.2L168.6 306.1L169.2 308.5L170.2 311.6L171.2 314.0L172.1 315.6Z" fill="#084285" fill-rule="evenodd"/>
</g>
<g class="pt"><circle cx="76.3" cy="451.1" r="2.55"/><circle cx="123.6" cy="394.4" r="2.55"/><circle cx="135.8" cy="371.7" r="2.55"/><circle cx="160.1" cy="356.3" r="2.55"/><circle cx="163.8" cy="360.6" r="2.55"/><circle cx="167.1" cy="360.9" r="2.55"/><circle cx="175.5" cy="356.6" r="2.55"/><circle cx="175.5" cy="358.7" r="2.55"/><circle cx="163.6" cy="318.8" r="2.55"/><circle cx="167.1" cy="326.6" r="2.55"/><circle cx="179.2" cy="314.4" r="2.55"/><circle cx="191.1" cy="315.3" r="2.55"/><circle cx="201.9" cy="307.4" r="2.55"/><circle cx="173.8" cy="305.0" r="2.55"/><circle cx="180.9" cy="305.0" r="2.55"/><circle cx="177.3" cy="330.9" r="2.55"/><circle cx="182.7" cy="334.2" r="2.55"/><circle cx="189.5" cy="330.1" r="2.55"/><circle cx="186.3" cy="339.3" r="2.55"/><circle cx="198.1" cy="334.2" r="2.55"/><circle cx="200.0" cy="325.2" r="2.55"/><circle cx="215.7" cy="333.3" r="2.55"/><circle cx="215.7" cy="350.1" r="2.55"/></g>
<path d="M76.4 304.5 L76.4 415.6 L120 355 L169.6 304.5Z" fill="#2ca02c" fill-opacity="0.2" clip-path="url(#clipc)"/>
<line x1="76.4" y1="349" x2="141.5" y2="304.5" stroke="#2e9a2e" stroke-width="1.75" clip-path="url(#clipc)"/>
<line x1="71.5" y1="480.2" x2="245.3" y2="304.5" stroke="#ff0000" stroke-width="1.25" stroke-dasharray="3.9,1.8" clip-path="url(#clipc)"/>
<line x1="71.5" y1="480.2" x2="71.5" y2="483.4" stroke="#444" stroke-width="0.9"/>
<line x1="68.3" y1="480.2" x2="71.5" y2="480.2" stroke="#444" stroke-width="0.9"/>
<text x="66.6" y="484.5" font-size="8" text-anchor="end" font-weight="normal" fill="#222">0</text>
<line x1="106.26" y1="480.2" x2="106.26" y2="483.4" stroke="#444" stroke-width="0.9"/>
<line x1="68.3" y1="445.06" x2="71.5" y2="445.06" stroke="#444" stroke-width="0.9"/>
<text x="66.6" y="449.36" font-size="8" text-anchor="end" font-weight="normal" fill="#222">20</text>
<line x1="141.02" y1="480.2" x2="141.02" y2="483.4" stroke="#444" stroke-width="0.9"/>
<line x1="68.3" y1="409.92" x2="71.5" y2="409.92" stroke="#444" stroke-width="0.9"/>
<text x="66.6" y="414.22" font-size="8" text-anchor="end" font-weight="normal" fill="#222">40</text>
<line x1="175.78" y1="480.2" x2="175.78" y2="483.4" stroke="#444" stroke-width="0.9"/>
<line x1="68.3" y1="374.78" x2="71.5" y2="374.78" stroke="#444" stroke-width="0.9"/>
<text x="66.6" y="379.08" font-size="8" text-anchor="end" font-weight="normal" fill="#222">60</text>
<line x1="210.54" y1="480.2" x2="210.54" y2="483.4" stroke="#444" stroke-width="0.9"/>
<line x1="68.3" y1="339.64" x2="71.5" y2="339.64" stroke="#444" stroke-width="0.9"/>
<text x="66.6" y="343.94" font-size="8" text-anchor="end" font-weight="normal" fill="#222">80</text>
<line x1="245.3" y1="480.2" x2="245.3" y2="483.4" stroke="#444" stroke-width="0.9"/>
<line x1="68.3" y1="304.5" x2="71.5" y2="304.5" stroke="#444" stroke-width="0.9"/>
<text x="66.6" y="308.8" font-size="8" text-anchor="end" font-weight="normal" fill="#222">100</text>
<line x1="71.5" y1="304.1" x2="71.5" y2="480.65" stroke="#444" stroke-width="0.95"/>
<line x1="71.05" y1="480.2" x2="245.7" y2="480.2" stroke="#444" stroke-width="0.95"/>
<rect x="77.4" y="310.4" width="60.7" height="26" rx="2.3" fill="#fff" fill-opacity="0.7" stroke="#8c8c8c" stroke-width="0.8"/>
<text y="320" font-size="8.9" fill="#111"><tspan x="80.4" font-style="italic">R</tspan><tspan x="88" dy="-2.6" font-size="6.5">2</tspan><tspan x="92.3" dy="2.6">: 0.05</tspan></text>
<text x="80.2" y="331.1" font-size="8.9" text-anchor="start" font-weight="normal" fill="#111">MAE: 53.49</text>
<g opacity="0.72" clip-path="url(#clipe)">
<path d="M331.3 483.2L332.9 483.2L334.5 483.2L336.1 483.2L337.6 483.2L339.2 483.2L340.8 483.2L342.3 483.2L343.9 483.2L345.5 483.2L347.1 483.2L348.6 483.2L350.2 483.2L351.8 483.2L353.3 483.2L354.8 483.2L356.5 483.2L358.1 483.2L359.6 483.2L360.9 483.2L362.4 483.2L363.6 483.2L365.1 483.2L366.7 483.2L368.3 483.2L369.9 483.2L371.4 483.2L372.6 483.2L374.6 483.2L376.1 483.2L377.7 483.2L379.3 483.2L380.9 483.2L382.4 483.2L384.0 482.3L384.8 480.9L385.5 479.7L386.4 478.3L387.1 477.0L387.9 475.7L388.7 474.4L389.5 473.1L390.3 471.7L391.1 470.4L391.9 469.0L392.6 467.6L393.2 466.5L394.2 464.6L395.0 463.0L395.8 461.3L396.6 459.5L397.4 457.6L398.1 455.6L398.9 453.5L399.7 451.2L400.5 448.8L401.3 446.2L401.8 444.3L402.9 440.4L403.6 437.2L404.0 435.5L404.4 433.8L405.0 431.1L405.9 426.6L406.8 422.2L407.6 417.8L408.3 413.4L409.0 408.9L409.7 404.5L409.9 402.9L410.3 400.1L410.7 397.2L410.9 395.7L411.5 391.2L412.0 386.8L412.3 384.6L412.5 382.4L413.0 378.0L413.5 373.5L413.9 369.6L414.3 364.7L414.6 360.7L415.0 355.8L415.3 351.4L415.6 347.0L415.9 342.6L416.1 338.1L416.2 336.6L416.3 333.7L416.5 329.3L416.7 324.9L416.8 320.4L416.8 316.0L416.9 311.6L416.9 307.2L416.8 302.7L416.7 301.5L415.4 301.5L413.9 301.5L412.3 301.5L411.0 301.5L409.1 301.5L407.6 301.5L406.3 301.5L404.4 301.5L402.9 301.5L401.6 301.5L400.2 301.5L399.0 301.5L397.7 301.5L395.8 301.5L394.5 301.5L392.9 301.5L391.2 301.5L389.7 301.5L387.9 301.5L386.4 301.5L385.1 301.5L383.9 301.5L382.5 301.5L381.1 301.5L379.9 301.5L378.5 301.5L377.1 301.5L375.5 301.5L373.8 301.5L372.2 301.5L370.7 301.5L369.1 301.5L367.5 301.5L365.9 301.5L364.4 301.5L362.8 301.5L361.2 301.5L359.6 301.5L358.1 301.5L356.5 301.5L354.9 301.5L353.3 301.5L351.8 301.5L350.2 301.5L348.6 301.5L347.1 301.5L345.5 301.5L343.9 301.5L342.3 301.5L341.1 301.5L339.5 301.5L338.1 301.5L336.8 301.5L335.6 301.5L333.7 301.5L332.3 301.5L330.6 301.5L329.0 301.5L327.7 301.5L326.1 301.5L324.6 301.5L323.1 301.5L321.9 301.5L320.6 301.5L319.1 301.5L317.7 301.5L316.4 301.5L317.9 301.5L319.1 301.5L320.3 301.5L321.8 301.5L320.5 301.5L319.1 301.5L317.3 301.5L316.0 301.5L314.6 301.5L313.3 301.5L311.7 301.5L310.1 301.5L308.8 301.5L307.5 302.7L307.0 306.1L306.3 311.6L305.7 316.0L305.4 318.1L305.1 320.4L304.6 324.7L304.1 329.3L303.8 331.7L303.6 333.7L303.2 338.1L303.1 339.3L302.7 342.6L302.3 347.0L301.9 351.4L301.6 355.8L301.2 360.3L300.9 364.7L300.7 367.5L300.6 369.1L300.3 373.5L300.0 378.0L299.9 380.1L299.8 382.4L299.6 386.8L299.4 391.2L299.2 395.7L299.1 397.0L299.0 400.1L298.9 404.5L298.7 408.9L298.6 413.4L298.6 417.8L298.5 422.2L298.5 426.6L298.5 431.1L298.5 435.5L298.5 439.9L298.6 444.3L298.6 448.8L298.7 453.2L298.9 457.6L299.0 462.0L299.1 464.1L299.2 466.5L299.4 470.9L299.7 475.3L299.9 478.6L300.3 483.2L301.5 483.2L303.1 483.2L304.6 483.2L306.2 483.2L307.8 483.2L309.3 483.2L310.9 483.2L312.5 483.2L314.1 483.2L315.6 483.2L317.2 483.2L318.8 483.2L320.3 483.2L321.9 483.2L323.5 483.2L325.1 483.2L326.6 483.2L328.2 483.2L329.8 483.2L331.2 483.2Z" fill="#eff6fc" fill-rule="evenodd"/>
<path d="M331.3 483.2L332.9 483.2L334.5 483.2L336.1 483.2L337.6 483.2L339.2 483.2L340.8 483.2L342.3 483.2L343.9 483.2L345.2 483.2L347.0 483.2L348.5 483.2L349.9 483.2L351.1 483.2L352.6 483.2L354.1 483.2L355.6 483.2L357.3 483.2L358.9 483.2L360.2 483.2L361.5 483.2L362.8 483.2L364.4 483.2L365.9 481.0L366.5 479.7L367.5 477.6L368.3 476.0L369.1 474.5L369.9 473.0L370.6 471.4L371.4 470.0L372.2 468.5L373.0 466.9L373.8 465.4L374.6 463.9L375.4 462.3L376.1 460.7L376.9 459.1L377.6 457.6L378.5 455.7L379.3 454.0L380.1 452.2L380.9 450.4L381.6 448.8L382.4 446.8L383.2 444.9L384.0 443.0L384.8 441.1L385.2 439.9L386.4 437.1L387.0 435.5L387.9 433.1L388.7 431.1L389.5 428.9L390.3 426.7L391.1 424.5L391.9 422.3L392.6 419.9L393.3 417.8L394.2 415.0L394.7 413.4L395.8 409.6L396.6 406.6L397.1 404.5L398.1 400.1L398.9 396.5L399.7 392.5L399.9 391.2L400.5 388.1L400.7 386.8L401.3 383.3L402.0 378.0L402.6 373.5L402.9 371.3L403.1 369.1L403.5 364.7L403.9 360.3L404.3 355.8L404.4 353.3L404.5 351.4L404.8 347.0L404.9 342.6L405.0 338.1L405.1 333.7L405.1 329.3L405.0 324.9L404.8 320.4L404.6 316.0L404.4 313.5L404.3 311.6L403.9 307.2L403.6 304.7L403.4 302.7L402.9 301.5L401.6 301.5L400.2 301.5L398.9 301.5L397.4 301.5L395.9 301.5L394.6 301.5L393.4 301.5L392.0 301.5L390.5 301.5L388.8 301.5L387.1 301.5L385.6 301.5L384.0 301.5L382.4 301.5L380.9 301.5L379.4 301.5L378.0 301.5L376.6 301.5L375.4 301.5L374.1 301.5L372.8 301.5L371.5 301.5L370.2 301.5L368.4 301.5L366.8 301.5L365.1 301.5L363.7 301.5L362.0 301.5L360.4 301.5L358.9 301.5L357.3 301.5L355.8 301.5L354.1 301.5L352.6 301.5L351.0 301.5L349.4 301.5L347.8 301.5L346.3 301.5L344.9 301.5L343.3 301.5L342.0 301.5L340.8 301.5L339.2 301.5L337.6 301.5L336.3 301.5L334.8 301.5L333.5 301.5L334.8 301.5L333.6 301.5L332.1 301.5L330.8 301.5L329.5 301.5L328.2 301.5L326.6 301.5L325.1 301.5L323.5 301.5L321.9 301.5L320.3 301.5L318.8 301.5L317.3 301.5L315.6 301.9L314.8 305.8L314.6 307.2L314.1 310.0L313.8 311.6L313.3 314.3L313.0 316.0L312.5 318.9L312.2 320.4L311.7 323.8L310.9 329.1L310.3 333.7L309.7 338.1L309.3 340.7L309.1 342.6L308.6 347.0L308.1 351.4L307.8 354.7L307.2 360.3L307.0 363.1L306.8 364.7L306.5 369.1L306.2 372.8L305.8 378.0L305.6 382.4L305.4 384.9L305.3 386.8L305.1 391.2L304.9 395.7L304.7 400.1L304.6 403.0L304.6 404.5L304.5 408.9L304.4 413.4L304.3 417.8L304.3 422.2L304.3 426.6L304.3 431.1L304.4 435.5L304.5 439.9L304.6 444.2L304.8 448.8L305.0 453.2L305.3 457.6L305.4 460.0L305.6 462.0L305.9 466.5L306.2 470.0L306.7 475.3L307.0 477.7L307.2 479.7L307.8 483.2L309.1 483.2L310.8 483.2L312.5 483.2L314.1 483.2L315.3 483.2L316.7 483.2L318.0 483.2L319.4 483.2L320.9 483.2L322.4 483.2L324.1 483.2L325.8 483.2L327.4 483.2L329.0 483.2L330.6 483.2Z" fill="#e0ecf8" fill-rule="evenodd"/>
<path d="M331.3 483.2L332.9 483.2L334.5 483.2L336.1 483.2L337.6 483.2L339.2 483.2L340.8 483.2L342.3 483.2L343.9 483.2L345.5 483.2L347.1 483.2L348.6 483.2L350.2 483.2L351.8 483.2L353.3 483.2L354.9 483.2L356.5 483.2L358.1 483.2L359.6 480.4L360.4 477.5L361.0 475.3L362.0 472.1L362.4 470.9L362.8 469.7L363.6 467.5L364.4 465.4L365.1 463.4L365.7 462.0L366.7 459.8L367.5 458.1L368.3 456.5L369.1 455.0L369.9 453.4L370.6 451.9L371.4 450.3L372.2 448.8L373.0 447.1L373.8 445.4L374.6 443.7L375.4 442.0L376.1 440.1L376.9 438.3L377.7 436.4L378.5 434.4L379.3 432.4L379.8 431.1L380.9 428.1L381.4 426.6L382.4 423.5L382.9 422.2L384.0 418.7L384.8 416.1L385.6 413.5L386.4 410.8L386.9 408.9L387.9 404.9L388.7 401.8L389.1 400.1L389.5 398.6L390.2 395.7L391.1 391.5L391.9 387.5L392.6 383.2L393.4 378.5L394.2 373.5L394.7 369.1L395.0 366.6L395.2 364.7L395.6 360.3L395.8 358.3L396.0 355.8L396.2 351.4L396.4 347.0L396.6 342.6L396.6 338.1L396.6 333.7L396.6 330.8L396.5 329.3L396.4 324.9L396.2 320.4L396.0 316.0L395.8 313.3L395.7 311.6L395.3 307.2L395.0 303.3L394.5 301.5L393.1 301.5L391.9 301.5L390.3 301.5L388.7 301.5L387.4 301.5L385.6 301.5L384.0 301.5L382.7 301.5L380.9 301.5L379.3 301.5L377.7 301.5L376.1 301.5L374.6 301.5L373.3 301.5L371.4 301.5L369.9 301.5L368.5 301.5L367.1 301.5L365.8 301.5L364.4 301.5L362.8 301.5L361.2 301.5L359.6 301.5L358.3 301.5L357.0 301.5L355.7 301.5L354.1 301.5L352.7 301.5L351.0 301.5L349.7 301.5L347.8 301.5L346.3 301.5L344.7 301.5L343.1 301.5L341.9 301.5L340.6 301.5L339.3 301.5L337.9 301.5L336.5 301.5L335.3 301.5L333.7 301.5L332.2 301.5L330.6 301.5L329.2 301.5L327.4 301.5L325.8 301.5L324.3 301.5L322.8 301.5L321.5 302.7L321.1 304.1L320.3 307.1L319.6 310.1L319.2 311.6L318.8 313.3L318.1 316.0L317.2 320.2L316.4 324.0L315.6 328.0L315.4 329.3L314.8 332.3L314.6 333.7L314.1 337.0L313.3 342.0L312.6 347.0L312.0 351.4L311.7 353.6L311.4 355.8L310.9 360.3L310.5 364.7L310.1 368.4L309.7 373.5L309.3 377.8L309.0 382.4L308.7 386.8L308.6 390.2L308.3 395.7L308.1 400.1L308.0 404.5L307.9 408.9L307.8 413.4L307.8 417.1L307.8 422.2L307.8 426.6L307.9 431.1L308.0 435.5L308.2 439.9L308.4 444.3L308.6 447.9L308.9 453.2L309.3 457.6L309.7 462.0L310.1 466.3L310.7 470.9L310.9 472.5L311.3 475.3L311.7 477.8L312.0 479.7L312.5 482.4L313.7 483.2L315.6 483.2L317.2 483.2L318.8 483.2L320.3 483.2L321.8 483.2L323.2 483.2L324.7 483.2L326.3 483.2L328.2 483.2L329.8 483.2Z" fill="#d3e3f3" fill-rule="evenodd"/>
<path d="M332.9 483.2L334.5 483.2L336.1 483.2L337.6 483.2L339.2 483.2L340.7 483.2L342.3 483.2L343.9 483.2L345.4 483.2L347.0 483.2L348.3 483.2L349.6 483.2L351.0 483.2L352.6 483.2L353.8 483.2L355.7 483.2L356.5 480.8L357.3 477.3L357.7 475.3L358.1 473.8L358.8 470.9L359.6 467.3L360.4 464.3L361.0 462.0L362.0 458.7L362.8 456.3L363.6 454.0L364.4 451.8L365.1 449.9L365.9 448.0L366.7 446.2L367.5 444.5L368.3 442.9L369.1 441.3L369.7 439.9L370.6 438.1L371.4 436.5L372.2 434.8L373.0 433.1L373.8 431.3L374.6 429.4L375.4 427.5L376.1 425.5L376.9 423.5L377.4 422.2L378.5 419.0L378.9 417.8L380.1 414.2L380.9 411.6L381.6 408.9L382.4 406.1L382.9 404.5L383.2 403.1L384.0 400.1L384.8 396.6L385.6 393.1L386.0 391.2L386.4 389.2L386.8 386.8L387.1 385.1L387.6 382.4L387.9 380.5L388.3 378.0L388.7 375.4L389.0 373.5L389.5 369.6L390.1 364.7L390.3 362.3L390.5 360.3L390.8 355.8L391.1 352.3L391.3 347.0L391.5 342.6L391.6 338.1L391.6 333.7L391.6 329.3L391.5 324.9L391.4 320.4L391.2 316.0L391.1 313.9L390.9 311.6L390.6 307.2L390.3 302.7L389.9 301.5L388.4 301.5L387.1 301.5L385.6 301.5L384.0 301.5L382.4 301.5L380.9 301.5L379.3 301.5L377.7 301.5L376.1 301.5L374.6 301.5L373.0 301.5L371.4 301.5L369.9 301.5L368.3 301.5L366.8 301.5L365.1 301.5L363.6 301.5L362.0 301.5L360.4 301.5L358.9 301.5L360.1 301.5L361.7 301.5L363.0 301.5L364.3 301.5L362.8 301.5L361.2 301.5L359.6 301.5L358.2 301.5L356.6 301.5L354.9 301.5L353.3 301.5L351.8 301.5L350.2 301.5L348.6 301.5L347.1 301.5L345.7 301.5L344.4 301.5L343.1 301.5L341.6 301.5L340.0 301.5L338.7 301.5L336.8 301.5L335.3 301.5L333.7 301.5L332.2 301.5L330.6 301.5L329.0 301.5L327.4 302.1L326.6 304.2L325.8 306.4L325.1 308.6L324.3 310.9L323.5 313.3L322.7 315.8L321.9 318.3L321.3 320.4L320.3 324.0L319.6 327.1L319.0 329.3L318.1 333.7L317.2 337.8L316.4 342.0L315.6 346.6L314.9 351.4L314.2 355.8L314.1 357.2L313.7 360.3L313.3 363.5L312.7 369.1L312.5 370.9L312.2 373.5L311.8 378.0L311.7 379.8L311.5 382.4L311.2 386.8L310.9 391.2L310.7 395.7L310.5 400.1L310.4 404.5L310.3 408.9L310.2 413.4L310.2 417.8L310.2 422.2L310.3 426.6L310.4 431.1L310.6 435.5L310.8 439.9L310.9 441.9L311.1 444.3L311.4 448.8L311.7 452.4L312.2 457.6L312.5 460.0L312.7 462.0L313.3 466.1L314.0 470.9L314.8 475.3L315.6 479.7L316.4 483.2L318.0 483.2L319.6 483.2L320.8 483.2L322.0 483.2L323.3 483.2L324.6 483.2L325.8 483.2L327.4 483.2L329.0 483.2L330.6 483.2L332.1 483.2Z" fill="#c9ddf0" fill-rule="evenodd"/>
<path d="M332.1 483.2L333.7 483.2L335.3 483.2L336.8 483.2L338.4 483.2L340.0 483.2L341.6 483.2L343.1 483.2L344.4 483.2L346.1 483.2L347.5 483.2L348.8 483.2L350.2 483.2L351.8 483.2L353.0 483.2L354.9 479.7L355.7 476.0L356.5 472.2L356.8 470.9L357.3 468.5L357.7 466.5L358.1 464.9L358.7 462.0L359.6 458.1L360.4 455.0L360.9 453.2L362.0 449.3L362.8 446.8L363.6 444.4L364.4 442.3L365.1 440.2L365.9 438.4L366.7 436.6L367.2 435.5L368.3 433.2L369.1 431.6L369.9 429.9L370.6 428.3L371.4 426.6L372.2 424.8L373.0 423.0L373.8 421.1L374.6 419.1L375.1 417.8L376.1 414.9L376.7 413.4L377.7 410.2L378.1 408.9L378.5 407.7L379.3 405.0L380.1 402.2L380.6 400.1L381.6 396.0L382.4 392.5L382.7 391.2L383.2 388.8L383.6 386.8L384.0 384.8L384.4 382.4L384.8 380.4L385.2 378.0L385.6 375.4L385.8 373.5L386.4 369.7L386.9 364.7L387.1 362.7L387.4 360.3L387.8 355.8L387.9 353.3L388.1 351.4L388.3 347.0L388.5 342.6L388.6 338.1L388.6 333.7L388.6 329.3L388.5 324.9L388.4 320.4L388.2 316.0L387.9 311.9L387.6 307.2L387.2 302.7L386.7 301.5L385.4 301.5L384.0 301.5L382.4 301.5L380.9 301.5L379.3 301.5L377.7 301.5L376.1 301.5L374.6 301.5L373.0 301.5L371.4 301.5L369.9 301.5L368.3 301.5L366.7 301.5L365.1 301.5L363.6 301.5L362.0 301.5L360.4 301.5L358.9 301.5L357.3 301.5L355.7 301.5L354.5 301.5L352.6 301.5L351.0 301.5L349.4 301.5L347.8 301.5L346.3 301.5L344.7 301.5L343.2 301.5L341.6 301.5L340.0 301.5L338.4 301.5L336.8 301.5L335.3 301.5L334.1 301.5L332.2 302.7L331.3 304.5L330.6 306.4L329.8 308.2L329.0 310.0L328.3 311.6L327.4 313.8L326.6 315.8L325.8 317.8L325.1 319.9L324.3 322.1L323.5 324.5L322.7 327.0L322.0 329.3L321.1 332.5L320.8 333.7L320.3 335.5L319.7 338.1L318.8 342.4L318.0 346.3L317.2 350.5L316.4 355.3L315.7 360.3L315.1 364.7L314.8 366.7L314.6 369.1L314.1 373.5L313.7 378.0L313.3 382.4L313.0 386.8L312.7 391.2L312.5 395.0L312.3 400.1L312.1 404.5L312.0 408.9L312.0 413.4L312.0 417.8L312.0 422.2L312.1 426.6L312.2 431.1L312.4 435.5L312.7 439.9L313.0 444.3L313.3 447.4L313.4 448.8L313.8 453.2L314.1 455.1L314.4 457.6L314.8 461.3L315.6 466.5L316.4 470.9L317.2 475.3L318.0 479.2L318.8 482.8L320.1 483.2L321.9 483.2L323.4 483.2L324.7 483.2L326.0 483.2L327.4 483.2L329.0 483.2L330.6 483.2ZM351.8 301.5L353.3 301.5L354.9 301.5L356.4 301.5L358.0 301.5L359.5 301.5L360.7 301.5L359.4 301.5L358.1 301.5L356.5 301.5L354.9 301.5L353.3 301.5L352.1 301.5L350.9 301.5L349.5 301.5L351.0 301.5Z" fill="#b5d4e9" fill-rule="evenodd"/>
<path d="M333.7 483.2L335.3 483.2L336.8 483.2L338.4 483.2L340.0 483.2L341.6 483.2L343.1 483.2L344.7 483.2L346.3 483.2L347.8 483.2L349.2 483.2L351.0 483.2L351.8 481.8L352.2 479.7L352.6 478.0L353.1 475.3L353.3 474.1L354.0 470.9L354.8 466.5L355.7 462.0L356.5 457.8L357.3 453.7L358.1 449.8L358.9 446.0L359.2 444.3L359.6 442.4L360.2 439.9L361.2 435.9L362.0 432.9L362.5 431.1L363.6 427.8L364.0 426.6L365.1 423.4L365.6 422.2L366.7 419.6L367.5 417.8L368.3 416.1L369.1 414.4L369.9 412.6L370.6 410.8L371.4 409.0L372.2 407.0L373.0 405.0L373.8 402.8L374.6 400.5L375.4 398.0L376.1 395.7L376.9 392.5L377.3 391.2L377.7 389.4L378.3 386.8L379.3 382.4L380.1 378.1L380.8 373.5L381.5 369.1L382.0 364.7L382.4 361.2L382.9 355.8L383.2 351.8L383.5 347.0L383.6 342.6L383.7 338.1L383.7 333.7L383.7 329.3L383.5 324.9L383.2 320.4L382.9 316.0L382.4 311.9L381.7 307.2L380.9 302.9L380.1 301.5L378.5 301.5L377.0 301.5L375.4 301.5L373.8 301.5L372.2 301.5L370.8 301.5L369.1 301.5L367.5 301.5L365.9 301.5L364.4 301.5L362.8 301.5L361.2 301.5L359.6 301.5L358.1 301.5L356.5 301.5L354.9 301.5L353.3 301.5L351.8 301.5L350.2 301.5L348.6 301.5L347.1 301.5L345.5 301.5L343.9 301.5L342.3 302.0L341.6 303.2L340.8 304.5L340.0 305.8L339.2 307.2L338.4 308.6L337.6 310.0L336.8 311.5L336.1 313.0L335.3 314.5L334.5 316.0L333.7 317.6L332.9 319.2L332.3 320.4L331.3 322.4L330.6 324.1L329.8 325.8L329.0 327.5L328.2 329.3L327.4 331.2L326.6 333.2L325.8 335.3L325.1 337.5L324.3 339.9L323.5 342.4L322.7 345.2L322.2 347.0L321.9 348.2L321.1 351.4L320.3 355.1L319.6 359.1L319.3 360.3L318.8 363.6L318.0 368.8L317.4 373.5L317.2 374.8L316.9 378.0L316.4 382.3L316.0 386.8L315.7 391.2L315.6 392.5L315.4 395.7L315.2 400.1L315.1 404.5L315.0 408.9L315.0 413.4L315.0 417.8L315.0 422.2L315.2 426.6L315.4 431.1L315.6 435.4L316.0 439.9L316.4 444.3L316.8 448.8L317.2 451.8L317.4 453.2L318.0 457.6L318.7 462.0L319.4 466.5L320.3 470.9L321.1 475.3L321.9 479.1L322.7 482.7L324.1 483.2L325.8 483.2L327.4 483.2L329.0 483.2L330.6 483.2L332.1 483.2L333.5 483.2Z" fill="#94c4df" fill-rule="evenodd"/>
<path d="M334.5 483.2L336.1 483.2L337.6 483.2L339.2 483.2L340.8 483.2L342.3 483.2L343.7 483.2L345.4 483.2L346.7 483.2L348.6 481.3L349.0 479.7L349.4 477.9L350.0 475.3L350.9 470.9L351.7 466.5L352.6 462.0L353.3 457.6L354.1 453.2L354.8 448.8L355.6 444.3L356.3 439.9L356.5 438.6L357.0 435.5L357.3 433.8L357.7 431.1L358.1 429.1L358.5 426.6L358.9 424.5L359.3 422.2L359.6 420.1L360.1 417.8L360.4 416.0L361.0 413.4L361.2 412.2L361.9 408.9L362.8 405.4L363.6 402.4L364.3 400.1L365.1 397.3L365.7 395.7L366.7 392.9L367.4 391.2L368.3 388.8L369.1 386.8L369.9 384.6L370.6 382.4L371.4 379.7L371.9 378.0L373.0 373.8L373.8 370.0L374.6 365.4L375.3 360.3L375.7 355.8L375.9 351.4L376.1 347.0L376.0 342.6L375.7 338.1L375.4 335.2L375.1 333.7L374.6 331.5L373.8 329.3L373.0 328.0L371.4 326.9L369.9 327.1L368.3 328.0L366.7 329.1L365.1 330.3L363.6 331.0L362.0 331.0L360.4 330.3L359.3 329.3L358.1 328.0L357.3 327.0L356.5 326.0L355.7 324.9L354.9 323.9L354.1 322.9L353.3 322.0L351.8 320.5L350.2 319.4L348.6 318.8L347.1 318.9L345.5 319.5L344.2 320.4L343.1 321.3L341.6 323.1L340.8 324.2L340.0 325.3L339.2 326.5L338.4 327.8L337.6 329.1L336.8 330.5L336.1 331.9L335.3 333.4L334.5 334.9L333.7 336.5L332.9 338.1L332.1 339.8L331.3 341.5L330.6 343.4L329.8 345.2L329.1 347.0L328.2 349.3L327.5 351.4L326.6 353.9L326.0 355.8L325.1 359.2L324.3 362.3L323.7 364.7L322.8 369.1L322.0 373.5L321.3 378.0L320.7 382.4L320.3 385.4L320.2 386.8L319.8 391.2L319.6 394.2L319.5 395.7L319.2 400.1L319.0 404.5L318.9 408.9L318.9 413.4L318.9 417.8L319.0 422.2L319.2 426.6L319.4 431.1L319.6 432.8L319.8 435.5L320.1 439.9L320.3 441.9L320.6 444.3L321.1 448.8L321.7 453.2L321.9 454.6L322.4 457.6L322.7 459.7L323.1 462.0L323.5 464.5L323.8 466.5L324.3 468.8L324.7 470.9L325.1 472.9L325.5 475.3L325.8 476.8L326.5 479.7L327.4 483.2L328.7 483.2L330.0 483.2L331.3 483.2L332.9 483.2Z" fill="#66abd4" fill-rule="evenodd"/>
<path d="M335.3 483.2L336.8 483.2L338.4 483.2L340.0 483.2L341.6 483.2L343.1 483.2L344.7 481.1L345.1 479.7L346.3 475.9L347.1 472.9L347.5 470.9L347.8 469.6L348.5 466.5L349.4 462.0L350.2 457.8L351.0 453.2L351.7 448.8L352.4 444.3L352.6 443.0L353.0 439.9L353.3 437.3L353.6 435.5L354.1 431.3L354.7 426.6L354.9 424.9L355.2 422.2L355.7 418.0L356.2 413.4L356.5 410.4L356.6 408.9L357.1 404.5L357.3 401.7L357.4 400.1L357.8 395.7L358.0 391.2L358.1 390.0L358.2 386.8L358.3 382.4L358.3 378.0L358.2 373.5L358.1 371.7L357.9 369.1L357.4 364.7L356.8 360.3L356.5 358.9L355.9 355.8L354.9 352.1L354.1 349.5L353.3 347.2L352.6 345.3L351.8 343.6L351.0 342.1L350.2 340.9L349.4 340.0L347.8 338.7L346.3 338.2L344.7 338.5L343.1 339.4L341.6 340.9L340.8 341.8L340.0 342.9L339.2 344.1L338.4 345.3L337.6 346.7L336.8 348.2L336.1 349.7L335.3 351.4L334.5 353.1L333.7 355.0L332.9 356.9L332.1 359.0L331.7 360.3L330.6 363.5L330.2 364.7L329.8 366.0L329.0 368.7L328.2 371.7L327.7 373.5L327.4 375.0L326.8 378.0L326.0 382.4L325.3 386.8L325.1 388.3L324.7 391.2L324.3 395.2L323.9 400.1L323.6 404.5L323.5 407.8L323.4 413.4L323.4 417.8L323.5 422.2L323.6 426.6L323.8 431.1L324.2 435.5L324.3 436.9L324.5 439.9L325.0 444.3L325.5 448.8L325.8 451.6L326.1 453.2L326.6 457.2L327.4 462.0L328.2 466.5L329.0 470.4L329.8 474.0L330.1 475.3L330.6 477.1L331.3 479.7L332.1 482.3L333.7 483.2L335.1 483.2Z" fill="#3585bf" fill-rule="evenodd"/>
<path d="M336.8 467.7L338.4 468.9L340.0 468.6L341.6 466.9L342.3 465.4L343.1 463.6L343.7 462.0L344.7 458.8L345.0 457.6L345.5 455.8L346.1 453.2L347.0 448.8L347.7 444.3L348.4 439.9L348.6 438.3L349.0 435.5L349.4 432.1L350.0 426.6L350.2 424.4L350.4 422.2L350.7 417.8L351.0 413.9L351.2 408.9L351.4 404.5L351.5 400.1L351.4 395.7L351.3 391.2L351.1 386.8L350.7 382.4L350.2 378.6L349.4 374.2L348.6 371.2L347.9 369.1L347.1 367.2L346.3 366.1L344.7 364.8L343.1 364.8L341.6 365.9L340.0 367.8L339.2 369.1L338.4 370.6L337.6 372.3L337.1 373.5L336.1 376.4L335.5 378.0L334.5 381.5L333.7 384.6L333.2 386.8L332.9 388.1L332.3 391.2L331.6 395.7L331.3 397.3L331.0 400.1L330.6 404.2L330.2 408.9L330.0 413.4L329.8 417.8L329.8 422.2L329.9 426.6L330.0 431.1L330.3 435.5L330.6 438.9L331.1 444.3L331.3 446.4L331.6 448.8L332.1 451.9L332.3 453.2L332.9 456.2L333.2 457.6L333.7 459.7L334.3 462.0L335.3 464.7L336.1 466.5Z" fill="#084e98" fill-rule="evenodd"/>
</g>
<g class="pt"><circle cx="320.4" cy="310.4" r="2.55"/><circle cx="345.2" cy="320.9" r="2.55"/><circle cx="353.3" cy="325.8" r="2.55"/><circle cx="364.1" cy="305.3" r="2.55"/><circle cx="383.0" cy="315.0" r="2.55"/><circle cx="377.9" cy="318.5" r="2.55"/><circle cx="383.0" cy="323.9" r="2.55"/><circle cx="381.1" cy="332.8" r="2.55"/><circle cx="376.0" cy="336.0" r="2.55"/><circle cx="398.4" cy="322.8" r="2.55"/><circle cx="401.9" cy="323.4" r="2.55"/><circle cx="412.7" cy="311.2" r="2.55"/><circle cx="363.6" cy="344.4" r="2.55"/><circle cx="366.0" cy="349.8" r="2.55"/><circle cx="372.8" cy="346.3" r="2.55"/><circle cx="372.8" cy="350.4" r="2.55"/><circle cx="386.5" cy="355.5" r="2.55"/><circle cx="383.0" cy="364.1" r="2.55"/><circle cx="369.0" cy="361.7" r="2.55"/><circle cx="372.8" cy="363.3" r="2.55"/><circle cx="364.1" cy="368.2" r="2.55"/><circle cx="364.1" cy="371.2" r="2.55"/><circle cx="386.8" cy="372.5" r="2.55"/><circle cx="383.0" cy="378.7" r="2.55"/><circle cx="370.9" cy="375.2" r="2.55"/><circle cx="369.0" cy="377.4" r="2.55"/><circle cx="370.9" cy="379.3" r="2.55"/><circle cx="369.0" cy="382.0" r="2.55"/><circle cx="399.0" cy="376.0" r="2.55"/><circle cx="399.0" cy="379.3" r="2.55"/><circle cx="358.7" cy="386.0" r="2.55"/><circle cx="356.6" cy="388.7" r="2.55"/><circle cx="365.7" cy="390.9" r="2.55"/><circle cx="343.1" cy="367.9" r="2.55"/><circle cx="323.9" cy="379.5" r="2.55"/><circle cx="333.9" cy="383.6" r="2.55"/><circle cx="346.3" cy="379.8" r="2.55"/><circle cx="353.3" cy="380.9" r="2.55"/><circle cx="351.4" cy="381.1" r="2.55"/><circle cx="315.0" cy="392.2" r="2.55"/><circle cx="323.9" cy="389.2" r="2.55"/><circle cx="329.0" cy="389.0" r="2.55"/><circle cx="332.5" cy="389.5" r="2.55"/><circle cx="313.6" cy="398.2" r="2.55"/><circle cx="315.5" cy="398.2" r="2.55"/><circle cx="313.6" cy="403.3" r="2.55"/><circle cx="323.9" cy="395.2" r="2.55"/><circle cx="327.1" cy="395.7" r="2.55"/><circle cx="329.3" cy="395.5" r="2.55"/><circle cx="325.5" cy="402.2" r="2.55"/><circle cx="330.4" cy="401.4" r="2.55"/><circle cx="323.9" cy="405.7" r="2.55"/><circle cx="318.5" cy="408.7" r="2.55"/><circle cx="315.0" cy="419.5" r="2.55"/><circle cx="343.1" cy="394.9" r="2.55"/><circle cx="349.5" cy="389.5" r="2.55"/><circle cx="349.5" cy="393.6" r="2.55"/><circle cx="343.1" cy="400.3" r="2.55"/><circle cx="344.7" cy="403.0" r="2.55"/><circle cx="346.3" cy="406.3" r="2.55"/><circle cx="343.6" cy="409.0" r="2.55"/><circle cx="336.0" cy="410.6" r="2.55"/><circle cx="343.9" cy="412.2" r="2.55"/><circle cx="342.0" cy="415.4" r="2.55"/><circle cx="346.3" cy="426.2" r="2.55"/><circle cx="336.3" cy="428.4" r="2.55"/><circle cx="338.7" cy="430.0" r="2.55"/><circle cx="321.7" cy="427.6" r="2.55"/><circle cx="318.5" cy="432.7" r="2.55"/><circle cx="329.3" cy="437.3" r="2.55"/><circle cx="336.0" cy="435.4" r="2.55"/><circle cx="340.9" cy="432.7" r="2.55"/><circle cx="344.7" cy="434.6" r="2.55"/><circle cx="337.7" cy="438.1" r="2.55"/><circle cx="342.0" cy="438.7" r="2.55"/><circle cx="345.8" cy="438.1" r="2.55"/><circle cx="347.9" cy="437.3" r="2.55"/><circle cx="333.3" cy="440.8" r="2.55"/><circle cx="336.6" cy="441.6" r="2.55"/><circle cx="340.4" cy="440.8" r="2.55"/><circle cx="344.1" cy="441.4" r="2.55"/><circle cx="347.4" cy="442.2" r="2.55"/><circle cx="330.6" cy="444.1" r="2.55"/><circle cx="333.9" cy="444.9" r="2.55"/><circle cx="337.7" cy="445.7" r="2.55"/><circle cx="341.4" cy="444.9" r="2.55"/><circle cx="344.7" cy="443.8" r="2.55"/><circle cx="347.9" cy="444.1" r="2.55"/><circle cx="334.4" cy="446.8" r="2.55"/><circle cx="338.2" cy="448.4" r="2.55"/><circle cx="343.1" cy="448.4" r="2.55"/></g>
<path d="M279.5 304.5 L279.5 372.4 L296.9 357.1 L318.8 337.4 L340.7 322.1 L362.6 312.8 L385 312 L400 316 L413 322 L413 304.5Z" fill="#2ca02c" fill-opacity="0.2" clip-path="url(#clipe)"/>
<line x1="279.8" y1="314.4" x2="322.1" y2="303.5" stroke="#2e9a2e" stroke-width="1.75" clip-path="url(#clipe)"/>
<line x1="278.7" y1="480.2" x2="452.5" y2="304.5" stroke="#ff0000" stroke-width="1.25" stroke-dasharray="3.9,1.8" clip-path="url(#clipe)"/>
<line x1="278.7" y1="480.2" x2="278.7" y2="483.4" stroke="#444" stroke-width="0.9"/>
<line x1="275.5" y1="480.2" x2="278.7" y2="480.2" stroke="#444" stroke-width="0.9"/>
<line x1="313.46" y1="480.2" x2="313.46" y2="483.4" stroke="#444" stroke-width="0.9"/>
<line x1="275.5" y1="445.06" x2="278.7" y2="445.06" stroke="#444" stroke-width="0.9"/>
<line x1="348.22" y1="480.2" x2="348.22" y2="483.4" stroke="#444" stroke-width="0.9"/>
<line x1="275.5" y1="409.92" x2="278.7" y2="409.92" stroke="#444" stroke-width="0.9"/>
<line x1="382.98" y1="480.2" x2="382.98" y2="483.4" stroke="#444" stroke-width="0.9"/>
<line x1="275.5" y1="374.78" x2="278.7" y2="374.78" stroke="#444" stroke-width="0.9"/>
<line x1="417.74" y1="480.2" x2="417.74" y2="483.4" stroke="#444" stroke-width="0.9"/>
<line x1="275.5" y1="339.64" x2="278.7" y2="339.64" stroke="#444" stroke-width="0.9"/>
<line x1="452.5" y1="480.2" x2="452.5" y2="483.4" stroke="#444" stroke-width="0.9"/>
<line x1="275.5" y1="304.5" x2="278.7" y2="304.5" stroke="#444" stroke-width="0.9"/>
<line x1="278.7" y1="304.1" x2="278.7" y2="480.65" stroke="#444" stroke-width="0.95"/>
<line x1="278.25" y1="480.2" x2="452.9" y2="480.2" stroke="#444" stroke-width="0.95"/>
<rect x="284.7" y="309.7" width="60.4" height="26.2" rx="2.3" fill="#fff" fill-opacity="0.7" stroke="#8c8c8c" stroke-width="0.8"/>
<text y="320" font-size="8.9" fill="#111"><tspan x="287.6" font-style="italic">R</tspan><tspan x="295.2" dy="-2.6" font-size="6.5">2</tspan><tspan x="299.5" dy="2.6">: 0.00</tspan></text>
<text x="287.4" y="330.6" font-size="8.9" text-anchor="start" font-weight="normal" fill="#111">MAE: 68.32</text>
<g opacity="0.72" clip-path="url(#clipg)">
<path d="M487.7 471.2L489.1 471.4L490.4 471.3L491.8 471.1L493.1 471.0L494.5 470.8L495.8 470.5L497.2 470.3L498.5 470.0L499.8 469.7L501.2 469.4L502.5 469.1L503.9 468.7L505.2 468.4L506.6 468.0L507.9 467.6L509.2 467.2L510.6 466.8L511.9 466.4L513.3 466.0L514.6 465.6L516.0 465.1L517.3 464.7L518.6 464.3L520.0 463.9L521.3 463.5L522.7 463.1L524.0 462.7L525.4 462.4L526.7 462.0L528.1 461.7L529.4 461.3L530.7 461.0L532.1 460.7L533.4 460.4L534.7 460.1L536.1 459.9L537.5 459.6L538.8 459.3L540.1 459.1L541.5 458.9L542.8 458.7L544.2 458.4L545.5 458.2L546.9 458.0L548.2 457.8L549.5 457.6L550.9 457.4L552.2 457.2L553.6 456.9L554.9 456.7L556.3 456.5L557.6 456.2L558.9 456.0L560.3 455.7L561.6 455.5L563.0 455.2L564.3 454.9L565.6 454.6L567.0 454.3L568.3 454.0L569.7 453.7L571.0 453.3L572.4 453.0L573.7 452.6L575.1 452.3L576.4 451.9L577.7 451.5L579.1 451.1L580.4 450.7L581.8 450.3L583.1 449.9L584.5 449.5L585.7 449.1L587.2 448.6L588.5 448.1L589.8 447.7L591.2 447.2L592.5 446.7L593.9 446.2L595.1 445.7L596.6 445.2L597.9 444.7L599.2 444.1L600.6 443.6L601.9 443.1L603.3 442.5L604.6 441.9L606.0 441.3L607.3 440.8L608.6 440.2L610.0 439.6L611.3 438.9L612.7 438.3L614.0 437.7L615.4 437.1L616.7 436.4L618.0 435.7L619.4 435.1L620.7 434.4L622.1 433.7L623.4 433.0L624.5 432.4L626.1 431.6L627.4 430.8L628.5 430.2L630.1 429.3L631.5 428.5L632.8 427.7L634.2 426.9L635.5 426.1L636.8 425.2L638.2 424.3L639.4 423.6L640.9 422.5L642.2 421.6L643.6 420.6L644.9 419.6L646.3 418.6L647.6 417.6L648.9 416.5L650.3 415.4L651.6 414.2L653.0 413.0L654.3 411.8L655.7 410.5L657.0 409.1L658.0 408.0L659.0 406.9L659.9 405.8L660.8 404.7L661.7 403.6L662.4 402.6L663.2 401.4L663.9 400.3L664.6 399.2L665.2 398.1L665.7 397.0L666.2 395.8L666.7 394.7L667.5 392.5L668.2 390.3L668.7 388.1L669.1 386.2L669.3 384.8L669.5 382.5L669.6 380.3L669.5 378.1L669.2 375.9L668.8 373.7L668.1 371.5L667.7 370.3L667.1 368.1L666.7 365.9L666.7 363.7L666.9 361.5L667.4 359.3L667.7 357.9L668.4 355.9L669.1 353.9L669.6 352.6L670.3 350.4L670.9 348.2L671.3 346.0L671.6 343.7L671.4 341.5L670.9 339.3L670.3 338.2L669.6 337.1L668.5 336.0L667.1 334.9L665.1 333.8L663.7 333.3L662.4 332.9L661.2 332.7L659.7 332.4L658.3 332.2L657.0 332.1L655.7 332.1L654.3 332.0L653.0 332.0L651.6 332.1L650.3 332.2L648.9 332.3L647.6 332.4L646.3 332.6L644.9 332.8L643.6 332.9L642.2 333.2L640.9 333.4L639.5 333.6L638.2 333.9L636.8 334.1L635.5 334.4L634.2 334.7L632.8 335.0L631.5 335.3L630.1 335.6L628.8 335.9L627.4 336.2L626.1 336.5L624.8 336.9L623.4 337.2L622.1 337.5L620.7 337.8L619.4 338.2L618.0 338.5L616.7 338.8L615.4 339.1L614.0 339.4L612.7 339.7L611.3 340.1L610.0 340.4L608.6 340.7L607.3 341.0L606.0 341.4L604.6 341.7L603.3 342.0L601.9 342.4L600.6 342.7L599.2 343.0L597.9 343.4L596.6 343.7L595.2 344.1L593.9 344.4L592.5 344.8L591.2 345.2L589.8 345.5L588.5 345.9L587.2 346.3L585.8 346.7L584.5 347.1L583.1 347.5L581.8 347.9L580.4 348.3L579.1 348.8L577.8 349.3L576.4 349.8L575.1 350.3L573.7 350.9L572.4 351.5L571.0 352.1L569.9 352.6L568.3 353.4L567.0 354.1L565.7 354.8L564.3 355.6L563.0 356.5L561.6 357.3L560.4 358.2L558.9 359.2L557.6 360.2L556.3 361.2L554.9 362.2L553.6 363.3L552.2 364.4L550.9 365.5L549.5 366.6L548.2 367.7L546.9 368.8L545.5 369.9L544.2 371.0L542.8 372.2L541.5 373.3L540.1 374.4L538.8 375.5L537.5 376.6L536.1 377.8L534.8 378.9L533.4 380.0L532.1 381.2L530.7 382.4L529.4 383.6L528.1 384.8L526.8 385.9L525.6 387.0L524.3 388.1L523.1 389.2L521.8 390.3L520.5 391.4L519.2 392.5L517.9 393.6L516.5 394.7L515.0 395.8L513.5 397.0L512.0 398.1L510.6 399.0L509.2 399.9L507.9 400.8L506.6 401.6L505.2 402.5L503.9 403.3L502.5 404.1L501.2 405.0L499.8 405.8L498.5 406.6L497.2 407.5L495.8 408.4L494.7 409.1L493.1 410.2L491.8 411.2L490.4 412.1L489.1 413.2L487.8 414.3L487.7 415.8L487.7 417.9L487.7 419.3L487.7 420.9L487.7 422.4L487.7 424.7L487.7 426.9L487.7 429.1L487.7 430.9L487.7 432.4L487.7 434.6L487.7 436.9L487.7 439.1L487.7 441.3L487.7 443.5L487.7 445.5L487.7 446.8L487.7 449.1L487.7 451.3L487.7 453.5L487.7 455.7L487.7 457.9L487.7 460.1L487.7 462.2L487.7 463.5L487.7 465.6L487.7 466.8L487.7 468.4L487.7 469.9L487.7 471.2Z" fill="#eaf3fb" fill-rule="evenodd"/>
<path d="M490.4 460.2L491.8 460.5L493.1 460.7L494.5 460.8L495.8 460.8L497.2 460.7L498.5 460.6L499.8 460.5L501.2 460.3L502.5 460.0L503.9 459.7L505.2 459.4L506.6 459.1L507.9 458.7L509.2 458.3L510.6 457.9L511.9 457.5L513.3 457.1L514.6 456.6L516.0 456.2L517.3 455.7L518.6 455.3L520.0 454.8L521.3 454.4L522.7 453.9L524.0 453.5L525.4 453.0L526.7 452.6L528.1 452.2L529.4 451.8L530.7 451.5L532.1 451.1L533.4 450.8L534.8 450.5L536.1 450.3L537.5 450.0L538.8 449.8L540.1 449.6L541.5 449.5L542.8 449.3L544.2 449.2L545.5 449.1L546.9 449.0L548.2 448.9L549.5 448.9L550.9 448.8L552.2 448.7L553.6 448.6L554.9 448.5L556.3 448.4L557.6 448.3L558.9 448.2L560.3 448.0L561.6 447.9L563.0 447.7L564.3 447.5L565.7 447.3L567.0 447.1L568.3 446.9L569.7 446.6L571.0 446.4L572.4 446.1L573.7 445.8L575.1 445.5L576.4 445.1L577.7 444.8L579.1 444.4L580.4 444.1L581.8 443.7L583.1 443.2L584.5 442.8L585.7 442.4L587.2 441.9L588.5 441.5L589.8 441.0L591.2 440.5L592.5 440.0L593.9 439.5L595.2 438.9L596.6 438.4L597.9 437.8L599.2 437.2L600.6 436.6L601.9 436.0L603.3 435.4L604.6 434.8L606.0 434.2L607.3 433.5L608.6 432.9L610.0 432.2L611.3 431.5L612.7 430.8L613.8 430.2L615.4 429.3L616.7 428.6L617.8 428.0L619.4 427.1L620.7 426.3L622.1 425.5L623.4 424.7L624.8 423.8L626.1 423.0L627.4 422.1L628.6 421.3L630.1 420.3L631.5 419.3L632.8 418.3L634.2 417.3L635.5 416.2L636.8 415.1L638.2 414.0L639.5 412.8L640.9 411.5L642.1 410.3L643.1 409.1L644.1 408.0L644.9 407.0L645.8 405.8L646.6 404.7L647.3 403.6L648.0 402.5L648.6 401.4L649.1 400.3L649.6 399.2L650.3 397.4L650.8 395.8L651.3 393.6L651.6 391.4L651.6 389.2L651.4 387.0L650.7 384.8L650.2 383.6L649.5 382.5L648.7 381.4L647.8 380.3L646.8 379.2L645.8 378.1L645.0 377.0L644.4 375.9L643.9 373.7L644.3 371.5L644.9 369.9L645.8 368.1L646.4 367.0L647.1 365.9L647.8 364.8L648.5 363.7L649.3 362.6L650.0 361.5L650.7 360.4L651.3 359.3L651.9 358.2L652.5 357.0L653.0 355.9L653.5 354.8L654.2 352.6L654.6 350.4L654.3 348.2L653.1 346.0L651.7 344.8L650.3 344.2L649.0 343.7L647.6 343.5L646.3 343.3L644.9 343.2L643.6 343.2L642.2 343.3L640.9 343.4L639.5 343.6L638.2 343.7L636.8 344.0L635.5 344.2L634.2 344.5L632.8 344.8L631.5 345.2L630.1 345.5L628.8 345.9L627.4 346.3L626.1 346.7L624.8 347.1L623.4 347.6L622.1 348.0L620.7 348.4L619.4 348.9L618.1 349.3L616.7 349.7L615.4 350.2L614.0 350.6L612.7 351.0L611.3 351.5L610.0 351.9L608.6 352.3L607.3 352.7L606.0 353.1L604.6 353.6L603.3 354.0L601.9 354.4L600.6 354.8L599.2 355.2L597.9 355.7L596.6 356.1L595.2 356.5L593.9 357.0L592.5 357.4L591.2 357.9L589.8 358.4L588.5 358.9L587.2 359.4L585.8 359.9L584.5 360.5L583.1 361.0L581.8 361.6L580.4 362.2L579.1 362.8L577.7 363.5L576.4 364.1L575.1 364.8L573.7 365.4L572.4 366.1L571.0 366.8L569.7 367.6L568.3 368.3L567.0 369.1L565.7 369.8L564.3 370.6L563.0 371.4L561.6 372.2L560.3 373.1L558.9 373.9L557.6 374.8L556.3 375.7L554.9 376.5L553.6 377.5L552.2 378.4L551.1 379.2L549.6 380.3L548.2 381.3L546.9 382.3L545.5 383.4L544.2 384.5L542.8 385.6L541.5 386.7L540.1 387.8L538.8 389.0L537.5 390.2L536.1 391.4L534.8 392.5L533.5 393.6L532.2 394.7L530.9 395.8L529.6 397.0L528.2 398.1L526.7 399.2L525.4 400.2L524.0 401.2L522.7 402.1L521.3 403.0L520.0 403.9L518.7 404.7L517.3 405.6L516.0 406.5L514.6 407.3L513.4 408.0L511.9 408.9L510.6 409.8L509.2 410.6L508.1 411.4L506.6 412.4L505.2 413.3L503.9 414.3L502.5 415.3L501.2 416.4L499.8 417.5L498.5 418.8L497.2 420.2L496.1 421.3L495.3 422.4L494.5 423.6L493.8 424.7L493.1 425.8L492.5 426.9L492.0 428.0L491.5 429.1L490.6 431.3L489.8 433.5L489.1 435.5L488.6 436.9L487.8 439.1L487.7 441.3L487.7 442.7L487.7 444.6L487.7 446.7L487.7 447.9L487.7 450.2L487.7 452.4L487.7 454.6L487.7 456.4L487.7 457.9L487.8 459.1L489.1 459.8Z" fill="#d3e4f3" fill-rule="evenodd"/>
<path d="M498.5 454.7L499.8 454.8L501.2 454.8L502.5 454.7L503.9 454.5L505.2 454.3L506.6 454.1L507.9 453.8L509.2 453.4L510.6 453.1L511.9 452.7L513.3 452.2L514.6 451.8L516.0 451.3L517.3 450.9L518.6 450.4L520.0 449.9L521.3 449.4L522.7 448.9L524.0 448.4L525.4 447.9L526.7 447.5L528.1 447.0L529.4 446.6L530.7 446.2L532.1 445.8L533.4 445.5L534.8 445.2L536.1 444.9L537.5 444.6L538.8 444.4L540.1 444.3L541.5 444.2L542.8 444.1L544.2 444.0L545.5 444.0L546.9 444.0L548.2 444.0L549.5 444.0L550.9 444.0L552.2 444.1L553.6 444.1L554.9 444.1L556.3 444.1L557.6 444.1L558.9 444.1L560.3 444.0L561.6 444.0L563.0 443.9L564.3 443.8L565.7 443.7L567.0 443.5L568.3 443.3L569.7 443.1L571.0 442.9L572.4 442.7L573.7 442.4L575.1 442.1L576.4 441.8L577.7 441.5L579.1 441.2L580.4 440.8L581.8 440.4L583.1 440.0L584.5 439.6L585.8 439.2L587.2 438.7L588.5 438.3L589.8 437.8L591.2 437.3L592.5 436.7L593.9 436.2L595.2 435.6L596.6 435.1L597.9 434.5L599.2 433.9L600.6 433.2L601.9 432.6L603.3 431.9L604.5 431.3L606.0 430.6L607.3 429.8L608.6 429.1L610.0 428.4L611.3 427.6L612.6 426.9L614.0 426.0L615.4 425.2L616.7 424.4L618.0 423.6L619.4 422.7L620.7 421.8L622.1 420.8L623.4 419.9L624.4 419.1L625.9 418.0L627.3 416.9L628.6 415.8L629.9 414.7L631.1 413.6L632.3 412.5L633.3 411.4L634.2 410.4L635.3 409.1L636.1 408.0L636.8 407.1L637.7 405.8L638.3 404.7L638.9 403.6L639.4 402.5L640.2 400.3L640.7 398.1L640.9 396.0L640.8 394.7L640.2 392.5L639.7 391.4L638.9 390.3L637.8 389.2L636.8 388.4L635.5 387.6L634.4 387.0L632.8 386.1L631.5 385.4L630.4 384.8L628.9 383.6L627.9 382.5L627.2 381.4L626.6 379.2L626.9 377.0L627.4 375.7L628.6 373.7L629.4 372.6L630.3 371.5L631.3 370.3L632.3 369.2L633.4 368.1L634.4 367.0L635.5 365.9L636.6 364.8L637.6 363.7L638.5 362.6L639.4 361.5L640.2 360.4L640.9 359.3L641.5 358.2L642.0 357.0L642.4 354.8L641.5 352.6L639.7 351.5L638.2 351.2L636.8 351.1L635.5 351.1L634.2 351.2L632.8 351.3L631.5 351.5L630.1 351.8L628.8 352.1L627.4 352.4L626.1 352.8L624.8 353.2L623.4 353.6L622.1 354.0L620.7 354.4L619.4 354.8L618.0 355.2L616.7 355.6L615.5 355.9L614.0 356.4L612.7 356.8L611.3 357.2L610.0 357.6L608.6 357.9L607.3 358.3L606.0 358.7L604.6 359.1L603.3 359.4L601.9 359.8L600.6 360.2L599.2 360.6L597.9 361.0L596.6 361.4L595.2 361.8L593.9 362.3L592.5 362.7L591.2 363.2L589.8 363.7L588.5 364.2L587.2 364.7L585.8 365.2L584.5 365.7L583.1 366.3L581.8 366.9L580.4 367.5L579.1 368.1L577.7 368.8L576.4 369.4L575.1 370.1L573.7 370.8L572.4 371.5L571.0 372.2L569.7 372.9L568.4 373.7L567.0 374.5L565.7 375.3L564.3 376.1L563.0 376.9L561.6 377.8L560.3 378.6L558.9 379.5L557.8 380.3L556.3 381.4L554.9 382.3L553.6 383.3L552.2 384.4L550.9 385.4L549.5 386.5L548.2 387.6L546.9 388.7L545.5 389.9L544.2 391.1L542.8 392.3L541.5 393.5L540.1 394.7L538.9 395.8L537.6 397.0L536.3 398.1L535.0 399.2L533.7 400.3L532.3 401.4L530.9 402.5L529.5 403.6L528.1 404.6L526.7 405.6L525.4 406.5L524.0 407.4L522.7 408.3L521.3 409.1L520.0 410.0L518.6 410.9L517.3 411.7L516.2 412.5L514.6 413.5L513.3 414.4L511.9 415.4L510.6 416.4L509.2 417.5L507.9 418.6L506.6 419.8L505.2 421.2L504.1 422.4L503.1 423.6L502.3 424.7L501.5 425.8L500.8 426.9L500.1 428.0L499.4 429.1L498.8 430.2L498.2 431.3L497.7 432.4L497.1 433.5L496.5 434.6L496.0 435.7L495.5 436.9L495.0 438.0L494.5 439.1L494.0 440.2L493.1 442.4L492.5 444.6L492.0 446.8L492.0 449.1L492.6 451.3L493.3 452.4L494.5 453.4L495.8 454.0L497.2 454.5Z" fill="#bdd7ec" fill-rule="evenodd"/>
<path d="M501.2 449.1L502.5 449.5L503.9 449.7L505.2 449.8L506.6 449.7L507.9 449.5L509.2 449.3L510.6 449.0L511.9 448.7L513.3 448.3L514.6 447.9L516.0 447.4L517.3 446.9L518.6 446.4L520.0 445.9L521.3 445.4L522.7 444.9L524.0 444.4L525.4 443.9L526.7 443.3L528.1 442.9L529.4 442.4L530.7 441.9L532.1 441.5L533.4 441.2L534.8 440.8L536.1 440.5L537.5 440.3L538.8 440.1L540.1 439.9L541.5 439.8L542.8 439.8L544.2 439.8L545.5 439.8L546.9 439.9L548.2 440.0L549.5 440.1L550.9 440.3L552.2 440.4L553.6 440.6L554.9 440.7L556.3 440.8L557.6 440.9L558.9 441.0L560.3 441.0L561.6 441.1L563.0 441.1L564.3 441.0L565.7 441.0L567.0 440.9L568.3 440.8L569.7 440.6L571.0 440.5L572.4 440.3L573.7 440.0L575.1 439.8L576.4 439.5L577.7 439.2L579.1 438.9L580.4 438.6L581.8 438.2L583.1 437.8L584.5 437.4L585.8 436.9L587.2 436.5L588.5 436.0L589.8 435.5L591.2 435.0L592.5 434.5L593.9 433.9L595.2 433.3L596.6 432.7L597.9 432.1L599.2 431.4L600.6 430.8L601.7 430.2L603.3 429.4L604.6 428.7L605.8 428.0L607.3 427.2L608.6 426.4L610.0 425.5L611.3 424.7L612.7 423.8L614.0 422.9L615.4 422.0L616.7 421.1L617.9 420.2L619.3 419.1L620.7 418.0L622.0 416.9L623.3 415.8L624.5 414.7L625.6 413.6L626.6 412.5L627.4 411.5L628.5 410.3L629.3 409.1L630.0 408.0L630.7 406.9L631.3 405.8L631.7 404.7L632.4 402.5L632.6 400.3L632.3 398.1L631.5 396.3L630.2 394.7L629.0 393.6L627.4 392.6L626.1 391.8L624.8 391.0L623.7 390.3L622.1 389.2L620.7 388.1L619.6 387.0L618.7 385.9L618.1 384.8L617.6 383.6L617.0 381.4L616.9 379.2L617.2 377.0L617.8 374.8L618.7 372.6L619.3 371.5L619.9 370.3L620.5 369.2L621.1 368.1L621.7 367.0L622.2 365.9L622.6 363.7L621.6 362.6L619.4 362.2L618.0 362.2L616.7 362.3L615.4 362.3L614.0 362.5L612.7 362.6L611.3 362.8L610.0 363.0L608.6 363.2L607.3 363.4L606.0 363.6L604.6 363.8L603.3 364.1L601.9 364.4L600.6 364.6L599.2 364.9L597.9 365.2L596.6 365.6L595.2 365.9L593.9 366.3L592.5 366.7L591.2 367.1L589.8 367.5L588.5 368.0L587.2 368.5L585.8 369.0L584.5 369.5L583.1 370.0L581.8 370.6L580.4 371.2L579.1 371.8L577.7 372.4L576.4 373.1L575.2 373.7L573.7 374.4L572.4 375.1L571.0 375.9L569.7 376.6L568.3 377.4L567.2 378.1L565.7 379.0L564.3 379.9L563.0 380.7L561.9 381.4L560.3 382.5L558.9 383.5L557.6 384.5L556.3 385.5L554.9 386.6L553.6 387.6L552.2 388.7L550.9 389.9L549.5 391.1L548.2 392.3L546.9 393.5L545.6 394.7L544.4 395.8L543.2 397.0L542.1 398.1L540.9 399.2L539.7 400.3L538.8 401.1L537.5 402.3L536.1 403.5L534.8 404.6L533.4 405.7L532.1 406.8L530.7 407.8L529.4 408.8L528.1 409.8L526.7 410.7L525.4 411.6L524.1 412.5L522.7 413.5L521.3 414.4L520.0 415.3L518.6 416.2L517.3 417.2L516.2 418.0L514.8 419.1L513.5 420.2L512.2 421.3L511.1 422.4L510.0 423.6L509.0 424.7L508.0 425.8L507.2 426.9L506.3 428.0L505.5 429.1L504.8 430.2L504.0 431.3L503.3 432.4L502.7 433.5L502.0 434.6L501.4 435.7L500.9 436.9L500.3 438.0L499.8 439.1L499.0 441.3L498.5 443.5L498.5 445.7L499.5 447.9L501.0 449.1Z" fill="#a1cbe2" fill-rule="evenodd"/>
<path d="M507.9 442.8L509.2 443.4L510.6 443.5L511.9 443.4L513.3 443.2L514.6 442.9L516.0 442.6L517.3 442.1L518.6 441.7L520.0 441.2L521.3 440.6L522.7 440.1L524.0 439.5L525.4 439.0L526.7 438.4L528.1 437.8L529.4 437.3L530.6 436.9L532.1 436.4L533.4 436.0L534.8 435.6L536.1 435.3L537.5 435.1L538.8 435.0L540.1 434.9L541.5 434.9L542.8 435.0L544.2 435.1L545.5 435.3L546.9 435.5L548.2 435.7L549.5 436.0L550.9 436.3L552.2 436.6L553.5 436.9L554.9 437.2L556.3 437.4L557.6 437.7L558.9 437.9L560.3 438.0L561.6 438.2L563.0 438.3L564.3 438.3L565.7 438.4L567.0 438.4L568.3 438.3L569.7 438.2L571.0 438.1L572.4 438.0L573.7 437.8L575.1 437.6L576.4 437.3L577.7 437.1L579.1 436.8L580.4 436.4L581.8 436.1L583.0 435.7L584.5 435.3L585.8 434.9L587.2 434.4L588.5 433.9L589.8 433.4L591.2 432.9L592.3 432.4L593.9 431.8L595.2 431.1L596.6 430.5L597.9 429.9L599.2 429.2L600.6 428.5L601.9 427.7L603.3 427.0L604.6 426.2L606.0 425.4L607.1 424.7L608.6 423.6L610.0 422.7L611.3 421.7L612.7 420.7L614.0 419.7L615.4 418.6L616.7 417.4L618.0 416.1L619.4 414.8L620.5 413.6L621.4 412.5L622.2 411.4L623.0 410.3L623.6 409.1L624.2 408.0L624.8 406.3L625.1 404.7L625.1 402.5L624.8 401.2L623.7 399.2L622.8 398.1L621.7 397.0L620.7 396.1L619.4 395.1L618.0 394.0L616.7 393.0L615.4 391.8L614.0 390.4L613.0 389.2L612.3 388.1L611.6 387.0L611.1 385.9L610.2 383.6L609.6 381.4L609.2 379.2L608.9 377.0L608.4 374.8L607.3 372.6L606.2 371.5L604.6 370.7L603.3 370.3L601.9 370.1L600.6 370.0L599.2 370.0L597.9 370.0L596.6 370.1L595.2 370.3L593.9 370.5L592.5 370.8L591.2 371.1L589.8 371.4L588.5 371.8L587.2 372.2L585.8 372.6L584.5 373.1L583.1 373.6L581.8 374.1L580.4 374.7L579.1 375.3L577.7 375.9L576.4 376.5L575.1 377.2L573.7 377.9L572.4 378.6L571.2 379.2L569.7 380.1L568.3 380.9L567.0 381.7L565.7 382.5L564.3 383.5L563.0 384.4L561.6 385.3L560.3 386.3L558.9 387.4L557.6 388.4L556.3 389.6L554.9 390.7L553.6 391.9L552.2 393.2L550.9 394.5L549.5 395.8L548.4 397.0L547.3 398.1L546.3 399.2L545.3 400.3L544.2 401.4L543.2 402.5L542.2 403.6L541.1 404.7L540.1 405.8L539.0 406.9L537.9 408.0L536.8 409.1L535.6 410.3L534.8 411.1L533.4 412.3L532.1 413.4L530.7 414.4L529.4 415.5L528.1 416.4L526.7 417.4L525.4 418.3L524.2 419.1L522.7 420.2L521.3 421.2L520.0 422.2L518.6 423.3L517.3 424.4L516.0 425.6L514.7 426.9L513.6 428.0L512.6 429.1L511.6 430.2L510.8 431.3L510.0 432.4L509.2 433.5L508.5 434.6L507.9 435.7L507.4 436.9L506.7 439.1L506.6 440.5L507.3 442.4Z" fill="#82bbdb" fill-rule="evenodd"/>
<path d="M561.6 435.8L563.0 436.0L564.3 436.1L565.7 436.2L567.0 436.3L568.3 436.3L569.7 436.3L571.0 436.3L572.4 436.2L573.7 436.0L575.1 435.8L576.4 435.6L577.7 435.4L579.1 435.1L580.4 434.8L581.8 434.5L583.1 434.1L584.5 433.7L585.8 433.3L587.2 432.8L588.5 432.3L589.8 431.8L591.0 431.3L592.5 430.7L593.9 430.1L595.2 429.4L596.6 428.8L597.9 428.1L599.2 427.4L600.6 426.6L601.9 425.8L603.3 425.0L604.6 424.1L606.0 423.2L607.1 422.4L608.6 421.3L610.0 420.2L611.3 419.1L612.5 418.0L613.7 416.9L614.8 415.8L615.8 414.7L616.7 413.6L617.5 412.5L618.2 411.4L618.8 410.3L619.3 409.1L619.9 406.9L619.9 404.7L619.4 402.6L618.8 401.4L618.0 400.4L617.0 399.2L615.9 398.1L614.7 397.0L613.5 395.8L612.3 394.7L611.3 393.7L610.2 392.5L609.3 391.4L608.5 390.3L607.7 389.2L607.1 388.1L606.5 387.0L606.0 385.9L605.5 384.8L605.0 383.6L604.1 381.4L603.6 380.3L603.1 379.2L602.4 378.1L601.5 377.0L600.6 376.2L599.2 375.4L597.9 374.9L596.6 374.6L595.2 374.4L593.9 374.4L592.5 374.4L591.2 374.6L589.8 374.8L588.5 375.0L587.2 375.3L585.8 375.7L584.5 376.1L583.1 376.5L581.8 377.0L580.4 377.5L579.1 378.1L577.7 378.6L576.5 379.2L575.1 379.9L573.7 380.6L572.4 381.3L571.0 382.1L569.7 382.8L568.4 383.6L567.0 384.5L565.7 385.4L564.3 386.4L563.0 387.3L562.0 388.1L560.6 389.2L559.3 390.3L558.0 391.4L556.8 392.5L555.6 393.6L554.5 394.7L553.6 395.7L552.4 397.0L551.4 398.1L550.4 399.2L549.5 400.2L548.6 401.4L547.7 402.5L546.9 403.6L546.1 404.7L545.3 405.8L544.6 406.9L543.8 408.0L543.1 409.1L542.4 410.3L541.7 411.4L541.1 412.5L540.4 413.6L539.8 414.7L539.1 415.8L538.5 416.9L537.8 418.0L537.2 419.1L536.5 420.2L535.9 421.3L535.2 422.4L534.7 423.6L534.5 425.8L535.9 426.9L537.5 427.5L538.8 428.0L540.1 428.4L541.5 429.0L542.8 429.5L544.2 430.0L545.5 430.5L546.9 431.0L548.2 431.5L549.5 432.1L550.9 432.6L552.2 433.1L553.5 433.5L554.9 434.0L556.3 434.4L557.6 434.8L558.9 435.2L560.3 435.5L561.6 435.7Z" fill="#60a7d2" fill-rule="evenodd"/>
<path d="M565.7 432.6L567.0 432.8L568.3 433.0L569.7 433.1L571.0 433.2L572.4 433.2L573.7 433.1L575.1 433.0L576.4 432.9L577.7 432.7L579.1 432.5L580.4 432.2L581.8 431.9L583.1 431.5L584.5 431.1L585.8 430.7L587.2 430.2L588.5 429.7L589.8 429.2L591.2 428.6L592.5 428.0L593.9 427.3L595.2 426.7L596.6 425.9L597.9 425.2L599.2 424.3L600.5 423.6L601.9 422.6L603.3 421.6L604.6 420.5L606.0 419.3L607.3 418.1L608.4 416.9L609.4 415.8L610.3 414.7L611.0 413.6L611.6 412.5L612.1 411.4L612.7 409.6L612.9 408.0L612.7 406.0L612.3 404.7L611.8 403.6L611.1 402.5L610.2 401.4L609.3 400.3L608.3 399.2L607.3 398.1L606.2 397.0L605.2 395.8L604.2 394.7L603.3 393.6L602.4 392.5L601.6 391.4L600.9 390.3L600.2 389.2L599.4 388.1L598.7 387.0L597.9 385.9L597.0 384.8L596.0 383.6L594.6 382.5L592.5 381.4L591.2 381.0L589.8 380.8L588.5 380.7L587.2 380.8L585.8 380.9L584.5 381.1L583.1 381.4L581.8 381.7L580.4 382.2L579.1 382.6L577.7 383.2L576.6 383.6L575.1 384.4L573.7 385.0L572.4 385.8L571.0 386.6L569.7 387.4L568.6 388.1L567.0 389.2L565.7 390.2L564.3 391.3L563.0 392.5L561.7 393.6L560.6 394.7L559.5 395.8L558.5 397.0L557.6 398.1L556.8 399.2L556.0 400.3L555.3 401.4L554.6 402.5L554.0 403.6L553.4 404.7L552.9 405.8L552.2 407.8L551.8 409.1L551.3 411.4L550.9 413.6L550.7 415.8L550.6 418.0L550.8 420.2L551.3 422.4L551.8 423.6L552.4 424.7L553.2 425.8L554.3 426.9L555.6 428.0L557.1 429.1L558.9 430.2L560.3 430.8L561.4 431.3L563.0 431.9L564.3 432.3Z" fill="#3a8ac2" fill-rule="evenodd"/>
<path d="M571.0 429.2L572.4 429.4L573.7 429.5L575.1 429.5L576.4 429.5L577.7 429.4L579.1 429.2L580.4 429.0L581.8 428.7L583.1 428.4L584.5 428.0L585.8 427.6L587.2 427.1L588.5 426.6L589.8 426.0L591.2 425.3L592.5 424.7L593.9 423.9L595.2 423.1L596.3 422.4L597.8 421.3L599.2 420.2L600.5 419.1L601.6 418.0L602.6 416.9L603.5 415.8L604.2 414.7L604.8 413.6L605.6 411.4L605.8 409.1L605.3 406.9L604.8 405.8L604.2 404.7L603.5 403.6L602.6 402.5L601.6 401.4L600.6 400.3L599.5 399.2L598.5 398.1L597.4 397.0L596.6 396.0L595.4 394.7L594.4 393.6L593.4 392.5L592.5 391.6L591.2 390.4L589.8 389.5L588.5 388.8L587.2 388.3L585.8 388.0L584.5 387.8L583.1 387.8L581.8 388.0L580.4 388.2L579.1 388.6L577.7 389.0L576.4 389.5L575.1 390.2L573.7 390.9L572.4 391.7L571.1 392.5L569.7 393.5L568.3 394.7L567.1 395.8L566.0 397.0L565.1 398.1L564.3 399.0L563.4 400.3L562.8 401.4L562.2 402.5L561.7 403.6L560.8 405.8L560.3 407.6L559.9 409.1L559.5 411.4L559.2 413.6L559.1 415.8L559.2 418.0L559.7 420.2L560.3 421.7L561.3 423.6L562.2 424.7L563.4 425.8L564.9 426.9L567.0 428.0L568.3 428.5L569.7 428.9Z" fill="#1967ad" fill-rule="evenodd"/>
<path d="M575.1 424.7L576.4 424.9L577.7 425.0L579.1 425.0L580.4 424.9L581.8 424.7L583.1 424.4L584.5 424.0L585.8 423.6L587.2 423.1L588.5 422.5L589.8 421.8L591.2 421.0L592.4 420.2L593.8 419.1L595.0 418.0L596.0 416.9L596.8 415.8L597.5 414.7L597.9 413.6L598.3 411.4L598.0 409.1L597.5 408.0L596.9 406.9L596.1 405.8L595.2 404.8L594.0 403.6L592.7 402.5L591.3 401.4L589.8 400.3L588.5 399.4L587.2 398.6L585.8 397.9L584.5 397.4L583.1 397.0L581.8 396.9L580.4 396.9L579.1 397.2L577.7 397.6L576.6 398.1L575.1 399.0L573.7 400.0L572.4 401.3L571.4 402.5L570.7 403.6L570.0 404.7L569.4 405.8L569.0 406.9L568.3 408.5L567.8 410.3L567.4 412.5L567.2 414.7L567.3 416.9L567.9 419.1L568.4 420.2L569.2 421.3L570.3 422.4L571.9 423.6L573.7 424.3Z" fill="#084387" fill-rule="evenodd"/>
</g>
<g class="pt"><circle cx="498.3" cy="370.7" r="2.55"/><circle cx="577.6" cy="350.3" r="2.55"/><circle cx="558.8" cy="360.3" r="2.55"/><circle cx="562.4" cy="373.6" r="2.55"/><circle cx="586.9" cy="363.4" r="2.55"/><circle cx="581.2" cy="367.6" r="2.55"/><circle cx="537.9" cy="385.3" r="2.55"/><circle cx="537.9" cy="392.0" r="2.55"/><circle cx="551.0" cy="388.8" r="2.55"/><circle cx="553.1" cy="390.3" r="2.55"/><circle cx="556.9" cy="383.8" r="2.55"/><circle cx="568.1" cy="379.7" r="2.55"/><circle cx="577.3" cy="380.3" r="2.55"/><circle cx="571.5" cy="382.2" r="2.55"/><circle cx="569.6" cy="385.1" r="2.55"/><circle cx="570.3" cy="388.1" r="2.55"/><circle cx="579.3" cy="386.6" r="2.55"/><circle cx="583.4" cy="379.3" r="2.55"/><circle cx="587.1" cy="378.9" r="2.55"/><circle cx="587.1" cy="383.0" r="2.55"/><circle cx="557.2" cy="393.9" r="2.55"/><circle cx="558.6" cy="396.8" r="2.55"/><circle cx="565.9" cy="392.4" r="2.55"/><circle cx="565.9" cy="395.4" r="2.55"/><circle cx="569.6" cy="396.8" r="2.55"/><circle cx="573.9" cy="393.2" r="2.55"/><circle cx="577.6" cy="391.7" r="2.55"/><circle cx="576.1" cy="395.4" r="2.55"/><circle cx="574.7" cy="398.3" r="2.55"/><circle cx="579.1" cy="396.1" r="2.55"/><circle cx="583.4" cy="398.3" r="2.55"/><circle cx="586.4" cy="396.1" r="2.55"/><circle cx="549.1" cy="401.9" r="2.55"/><circle cx="545.5" cy="407.8" r="2.55"/><circle cx="539.9" cy="403.7" r="2.55"/><circle cx="539.9" cy="407.8" r="2.55"/><circle cx="558.6" cy="401.9" r="2.55"/><circle cx="561.5" cy="401.2" r="2.55"/><circle cx="563.7" cy="403.4" r="2.55"/><circle cx="570.3" cy="401.2" r="2.55"/><circle cx="576.1" cy="401.2" r="2.55"/><circle cx="582.0" cy="402.7" r="2.55"/><circle cx="587.1" cy="404.9" r="2.55"/><circle cx="587.1" cy="409.2" r="2.55"/><circle cx="568.8" cy="409.2" r="2.55"/><circle cx="571.8" cy="407.8" r="2.55"/><circle cx="574.7" cy="410.0" r="2.55"/><circle cx="577.6" cy="412.2" r="2.55"/><circle cx="580.5" cy="410.7" r="2.55"/><circle cx="583.4" cy="413.6" r="2.55"/><circle cx="586.4" cy="415.1" r="2.55"/><circle cx="569.6" cy="413.6" r="2.55"/><circle cx="569.6" cy="416.5" r="2.55"/><circle cx="558.6" cy="412.9" r="2.55"/><circle cx="563.0" cy="413.6" r="2.55"/><circle cx="565.9" cy="418.0" r="2.55"/><circle cx="563.0" cy="420.9" r="2.55"/><circle cx="558.6" cy="419.5" r="2.55"/><circle cx="577.6" cy="416.5" r="2.55"/><circle cx="582.0" cy="419.5" r="2.55"/><circle cx="586.4" cy="420.9" r="2.55"/><circle cx="577.6" cy="420.9" r="2.55"/><circle cx="580.5" cy="424.6" r="2.55"/><circle cx="577.6" cy="425.3" r="2.55"/><circle cx="583.4" cy="425.3" r="2.55"/><circle cx="586.4" cy="426.8" r="2.55"/><circle cx="570.3" cy="426.8" r="2.55"/><circle cx="574.7" cy="425.3" r="2.55"/><circle cx="583.4" cy="429.4" r="2.55"/><circle cx="496.1" cy="417.6" r="2.55"/><circle cx="498.5" cy="420.2" r="2.55"/><circle cx="500.5" cy="420.9" r="2.55"/><circle cx="499.9" cy="425.6" r="2.55"/><circle cx="511.5" cy="417.7" r="2.55"/><circle cx="515.1" cy="413.0" r="2.55"/><circle cx="522.8" cy="415.1" r="2.55"/><circle cx="526.5" cy="411.4" r="2.55"/><circle cx="536.0" cy="413.6" r="2.55"/><circle cx="538.2" cy="419.2" r="2.55"/><circle cx="532.3" cy="416.5" r="2.55"/><circle cx="520.7" cy="420.9" r="2.55"/><circle cx="517.7" cy="423.8" r="2.55"/><circle cx="519.2" cy="426.8" r="2.55"/><circle cx="515.5" cy="428.5" r="2.55"/><circle cx="511.9" cy="431.1" r="2.55"/><circle cx="509.0" cy="432.6" r="2.55"/><circle cx="506.8" cy="437.7" r="2.55"/><circle cx="520.7" cy="431.1" r="2.55"/><circle cx="520.7" cy="434.8" r="2.55"/><circle cx="513.4" cy="438.4" r="2.55"/><circle cx="513.4" cy="441.4" r="2.55"/><circle cx="508.2" cy="442.1" r="2.55"/><circle cx="506.1" cy="443.5" r="2.55"/><circle cx="507.5" cy="445.7" r="2.55"/><circle cx="499.9" cy="442.1" r="2.55"/><circle cx="499.9" cy="445.0" r="2.55"/><circle cx="498.0" cy="449.8" r="2.55"/><circle cx="503.9" cy="450.5" r="2.55"/><circle cx="507.8" cy="450.4" r="2.55"/><circle cx="494.7" cy="454.5" r="2.55"/><circle cx="499.9" cy="458.6" r="2.55"/><circle cx="513.4" cy="454.8" r="2.55"/><circle cx="528.7" cy="434.3" r="2.55"/><circle cx="528.7" cy="439.6" r="2.55"/><circle cx="532.3" cy="428.5" r="2.55"/><circle cx="537.9" cy="425.6" r="2.55"/><circle cx="551.3" cy="419.7" r="2.55"/><circle cx="551.3" cy="426.0" r="2.55"/><circle cx="547.7" cy="426.8" r="2.55"/><circle cx="539.6" cy="434.8" r="2.55"/><circle cx="539.6" cy="438.4" r="2.55"/><circle cx="533.8" cy="439.9" r="2.55"/><circle cx="551.0" cy="435.5" r="2.55"/><circle cx="552.8" cy="440.6" r="2.55"/><circle cx="536.0" cy="449.8" r="2.55"/><circle cx="565.9" cy="437.0" r="2.55"/><circle cx="565.9" cy="441.4" r="2.55"/><circle cx="568.1" cy="432.6" r="2.55"/><circle cx="577.3" cy="433.3" r="2.55"/><circle cx="570.3" cy="427.5" r="2.55"/><circle cx="586.4" cy="431.1" r="2.55"/><circle cx="611.6" cy="312.0" r="2.55"/><circle cx="613.5" cy="331.6" r="2.55"/><circle cx="628.8" cy="348.0" r="2.55"/><circle cx="628.8" cy="351.6" r="2.55"/><circle cx="632.4" cy="353.8" r="2.55"/><circle cx="636.1" cy="354.5" r="2.55"/><circle cx="641.9" cy="350.1" r="2.55"/><circle cx="643.8" cy="348.7" r="2.55"/><circle cx="641.9" cy="353.1" r="2.55"/><circle cx="651.4" cy="350.9" r="2.55"/><circle cx="643.8" cy="358.9" r="2.55"/><circle cx="611.6" cy="357.9" r="2.55"/><circle cx="615.4" cy="358.2" r="2.55"/><circle cx="594.6" cy="361.1" r="2.55"/><circle cx="590.8" cy="366.2" r="2.55"/><circle cx="606.2" cy="366.9" r="2.55"/><circle cx="615.4" cy="366.2" r="2.55"/><circle cx="615.4" cy="369.1" r="2.55"/><circle cx="619.0" cy="371.6" r="2.55"/><circle cx="634.3" cy="361.1" r="2.55"/><circle cx="632.4" cy="363.7" r="2.55"/><circle cx="636.1" cy="366.9" r="2.55"/><circle cx="643.8" cy="370.1" r="2.55"/><circle cx="643.8" cy="374.2" r="2.55"/><circle cx="594.6" cy="370.1" r="2.55"/><circle cx="596.4" cy="372.8" r="2.55"/><circle cx="590.8" cy="374.2" r="2.55"/><circle cx="596.7" cy="378.6" r="2.55"/><circle cx="590.8" cy="382.3" r="2.55"/><circle cx="594.6" cy="385.2" r="2.55"/><circle cx="615.4" cy="380.1" r="2.55"/><circle cx="611.6" cy="390.3" r="2.55"/><circle cx="615.4" cy="387.1" r="2.55"/><circle cx="636.1" cy="385.9" r="2.55"/><circle cx="643.8" cy="386.6" r="2.55"/><circle cx="651.4" cy="384.5" r="2.55"/><circle cx="632.4" cy="392.5" r="2.55"/><circle cx="634.3" cy="392.0" r="2.55"/><circle cx="632.4" cy="397.6" r="2.55"/><circle cx="643.8" cy="395.4" r="2.55"/><circle cx="651.4" cy="402.7" r="2.55"/><circle cx="615.4" cy="400.5" r="2.55"/><circle cx="619.0" cy="401.7" r="2.55"/><circle cx="619.0" cy="407.5" r="2.55"/><circle cx="615.4" cy="408.5" r="2.55"/><circle cx="613.5" cy="411.0" r="2.55"/><circle cx="604.0" cy="405.6" r="2.55"/><circle cx="604.0" cy="410.0" r="2.55"/><circle cx="606.2" cy="413.9" r="2.55"/><circle cx="594.6" cy="406.4" r="2.55"/><circle cx="594.6" cy="410.0" r="2.55"/><circle cx="590.8" cy="415.1" r="2.55"/><circle cx="596.7" cy="418.0" r="2.55"/><circle cx="600.3" cy="418.0" r="2.55"/><circle cx="600.3" cy="421.7" r="2.55"/><circle cx="596.7" cy="422.4" r="2.55"/><circle cx="592.3" cy="423.1" r="2.55"/><circle cx="594.6" cy="426.8" r="2.55"/><circle cx="590.8" cy="426.8" r="2.55"/><circle cx="628.8" cy="410.7" r="2.55"/><circle cx="632.4" cy="409.3" r="2.55"/><circle cx="632.4" cy="411.8" r="2.55"/><circle cx="636.1" cy="405.9" r="2.55"/><circle cx="628.8" cy="418.8" r="2.55"/><circle cx="615.4" cy="418.0" r="2.55"/><circle cx="609.8" cy="422.4" r="2.55"/><circle cx="615.4" cy="423.9" r="2.55"/><circle cx="600.3" cy="431.2" r="2.55"/><circle cx="590.8" cy="399.1" r="2.55"/><circle cx="596.4" cy="399.1" r="2.55"/><circle cx="600.3" cy="399.1" r="2.55"/><circle cx="590.8" cy="391.0" r="2.55"/><circle cx="594.6" cy="389.6" r="2.55"/><circle cx="600.3" cy="392.5" r="2.55"/></g>
<path d="M494.1 423.1 L509.83 418.99 L525.56 414.78 L541.29 410.27 L557.02 405.46 L572.75 400.15 L588.48 394.14 L604.21 387.43 L619.94 380.12 L635.67 372.21 L651.4 364.1 L651.4 381.7 L635.67 385.91 L619.94 390.22 L604.21 394.83 L588.48 399.94 L572.75 405.65 L557.02 411.96 L541.29 418.67 L525.56 425.78 L509.83 433.09 L494.1 440.6Z" fill="#2ca02c" fill-opacity="0.2"/>
<line x1="494.1" y1="433.6" x2="651.4" y2="372.5" stroke="#2e9a2e" stroke-width="1.75"/>
<line x1="490.7" y1="480.2" x2="679.4" y2="304.5" stroke="#ff0000" stroke-width="1.25" stroke-dasharray="3.9,1.8" clip-path="url(#clipg)"/>
<line x1="490.7" y1="480.2" x2="490.7" y2="483.4" stroke="#444" stroke-width="0.9"/>
<line x1="487.5" y1="480.2" x2="490.7" y2="480.2" stroke="#444" stroke-width="0.9"/>
<line x1="528.44" y1="480.2" x2="528.44" y2="483.4" stroke="#444" stroke-width="0.9"/>
<line x1="487.5" y1="445.06" x2="490.7" y2="445.06" stroke="#444" stroke-width="0.9"/>
<line x1="566.18" y1="480.2" x2="566.18" y2="483.4" stroke="#444" stroke-width="0.9"/>
<line x1="487.5" y1="409.92" x2="490.7" y2="409.92" stroke="#444" stroke-width="0.9"/>
<line x1="603.92" y1="480.2" x2="603.92" y2="483.4" stroke="#444" stroke-width="0.9"/>
<line x1="487.5" y1="374.78" x2="490.7" y2="374.78" stroke="#444" stroke-width="0.9"/>
<line x1="641.66" y1="480.2" x2="641.66" y2="483.4" stroke="#444" stroke-width="0.9"/>
<line x1="487.5" y1="339.64" x2="490.7" y2="339.64" stroke="#444" stroke-width="0.9"/>
<line x1="679.4" y1="480.2" x2="679.4" y2="483.4" stroke="#444" stroke-width="0.9"/>
<line x1="487.5" y1="304.5" x2="490.7" y2="304.5" stroke="#444" stroke-width="0.9"/>
<line x1="490.7" y1="304.1" x2="490.7" y2="480.65" stroke="#444" stroke-width="0.95"/>
<line x1="490.25" y1="480.2" x2="679.8" y2="480.2" stroke="#444" stroke-width="0.95"/>
<rect x="497.4" y="309.9" width="60.3" height="25.7" rx="2.3" fill="#fff" fill-opacity="0.8" stroke="#8c8c8c" stroke-width="0.8"/>
<text y="319.9" font-size="9.3" fill="#111"><tspan x="500.3" font-style="italic">R</tspan><tspan x="507.7" dy="-3.0" font-size="6.5">2</tspan><tspan x="513.3" dy="3.0" textLength="26.5" lengthAdjust="spacingAndGlyphs">: 0.16</tspan></text>
<text x="500.1" y="330.6" font-size="9.3" text-anchor="start" font-weight="normal" fill="#111" textLength="53.0" lengthAdjust="spacingAndGlyphs">MAE: 15.00</text>
<g opacity="0.62" clip-path="url(#clipd)">
<path d="M107.5 642.9L109.2 642.9L110.8 642.6L112.5 642.1L114.1 641.6L116.3 640.7L118.3 639.8L119.5 639.2L120.6 638.7L121.7 638.1L122.8 637.5L123.9 636.9L125.0 636.3L126.1 635.7L127.2 635.0L128.2 634.4L129.4 633.7L130.5 633.0L131.6 632.3L132.6 631.6L133.7 630.8L134.8 630.1L135.9 629.3L137.0 628.5L138.1 627.7L139.2 626.8L140.3 626.0L141.3 625.1L142.2 624.4L143.6 623.2L144.6 622.2L145.6 621.3L146.8 620.1L147.9 619.0L149.0 617.7L149.8 616.7L151.0 615.1L152.0 613.6L152.8 612.0L153.3 610.5L153.6 609.0L153.6 607.4L154.1 605.9L155.5 604.3L156.4 603.6L157.4 602.8L158.5 602.0L159.7 601.2L161.0 600.5L162.1 599.8L163.2 599.2L164.3 598.6L165.4 598.0L166.5 597.4L167.6 596.8L168.7 596.2L169.8 595.6L170.8 595.0L171.9 594.4L173.0 593.8L174.1 593.2L175.2 592.5L176.3 591.9L177.4 591.3L178.5 590.6L179.6 590.0L180.7 589.3L181.8 588.6L182.8 587.9L183.9 587.2L185.0 586.5L186.1 585.8L187.2 585.1L188.3 584.3L189.4 583.6L190.5 582.8L191.6 582.0L192.7 581.2L193.8 580.4L194.8 579.7L195.8 578.9L196.8 578.1L197.8 577.4L198.8 576.6L199.8 575.8L200.7 575.0L202.5 573.5L203.4 572.7L204.7 571.7L205.8 570.7L206.9 569.7L207.8 568.9L209.0 567.7L210.1 566.7L211.0 565.8L212.3 564.5L213.4 563.5L214.5 562.3L215.6 561.2L216.7 560.0L217.7 558.9L218.9 557.6L219.8 556.5L221.1 555.1L222.1 553.8L223.0 552.7L224.2 551.2L225.4 549.6L226.5 548.1L227.6 546.5L228.6 545.0L229.5 543.4L230.3 541.9L230.9 540.6L231.6 538.8L232.0 537.5L232.4 535.7L232.7 534.2L233.0 532.7L233.4 531.1L233.9 529.6L234.4 528.0L234.8 526.5L235.0 524.9L234.8 523.4L233.1 522.1L230.9 522.1L228.7 522.6L226.5 523.3L224.4 524.2L223.2 524.7L222.1 525.2L221.1 525.8L220.0 526.4L218.9 527.0L217.8 527.6L216.7 528.2L215.6 528.8L214.5 529.5L213.4 530.1L212.3 530.8L211.2 531.4L210.1 532.1L209.0 532.8L208.0 533.5L206.9 534.2L205.8 534.8L204.7 535.5L203.6 536.2L202.5 536.9L201.4 537.6L200.3 538.3L199.2 538.9L198.1 539.6L197.0 540.3L195.9 541.0L194.9 541.7L193.8 542.4L192.7 543.1L191.6 543.9L190.5 544.6L189.4 545.3L188.3 546.1L187.2 546.8L186.1 547.6L185.0 548.3L183.9 549.1L182.8 549.9L181.8 550.7L180.7 551.5L179.6 552.3L178.5 553.1L177.4 554.0L176.3 554.8L175.2 555.7L174.1 556.5L173.1 557.3L172.2 558.1L171.2 558.9L170.2 559.6L169.3 560.4L168.3 561.2L167.4 561.9L166.5 562.7L165.5 563.5L164.6 564.3L163.6 565.0L162.7 565.8L161.8 566.6L159.9 568.1L159.0 568.9L158.0 569.6L157.1 570.4L156.1 571.2L155.2 572.0L153.4 573.5L152.4 574.3L151.5 575.0L150.5 575.8L149.6 576.6L147.9 578.1L147.0 578.9L145.7 580.1L144.7 581.2L143.6 582.4L142.7 583.5L141.5 585.1L140.4 586.6L139.3 588.1L138.1 589.7L137.0 591.2L135.9 592.8L134.8 594.3L133.7 595.8L132.6 597.3L131.6 598.8L130.5 600.4L129.4 602.0L128.3 603.6L127.4 605.1L126.5 606.6L125.6 608.2L125.0 609.6L124.4 611.3L124.0 612.8L124.1 614.4L124.5 615.9L124.7 617.4L124.1 619.0L122.9 620.5L121.7 621.7L120.6 622.8L119.8 623.6L118.5 624.8L117.4 625.8L116.4 626.7L115.2 627.8L114.1 628.9L113.2 629.8L111.9 631.1L111.0 632.1L109.7 633.5L108.6 634.8L107.8 635.9L106.7 637.5L105.9 639.0L105.5 640.6L105.8 642.1L107.3 642.9ZM68.5 635.3L68.5 634.1L69.3 633.1L70.4 632.6L71.5 632.0L72.6 631.3L73.7 630.7L74.8 630.0L75.9 629.2L77.0 628.5L78.1 627.7L79.2 626.9L80.3 626.1L81.3 625.2L82.4 624.4L83.5 623.4L84.6 622.4L85.7 621.4L86.6 620.5L87.9 619.2L88.8 618.2L90.1 616.7L91.2 615.2L92.1 613.6L92.6 612.0L92.3 610.7L90.1 610.2L88.8 610.5L86.8 611.1L84.6 612.0L83.5 612.5L82.4 613.1L81.3 613.7L80.3 614.3L79.2 615.0L78.1 615.7L77.0 616.4L75.9 617.1L74.8 617.9L73.7 618.7L72.6 619.5L71.5 620.4L70.4 621.3L69.3 622.2L68.5 623.2L68.5 625.1L68.5 626.4L68.5 627.6L68.5 628.9L68.5 630.5L68.5 632.1L68.5 633.6L68.5 635.2ZM145.7 635.4L147.8 635.2L149.0 634.8L150.2 634.4L152.0 633.6L153.4 633.0L154.5 632.4L155.6 631.8L156.7 631.1L157.7 630.5L158.8 629.8L159.9 629.0L161.0 628.3L162.1 627.5L163.2 626.7L164.2 625.9L165.1 625.1L166.1 624.4L167.6 623.1L168.7 622.1L169.8 621.1L170.8 620.0L171.8 619.0L173.0 617.5L174.1 616.1L174.8 615.1L175.6 613.6L176.1 612.0L175.2 610.5L173.0 610.4L170.8 611.0L168.7 611.9L167.6 612.4L166.5 612.9L165.4 613.5L164.3 614.1L163.2 614.7L162.1 615.4L161.0 616.1L159.9 616.8L158.8 617.5L157.7 618.3L156.7 619.1L155.6 619.9L154.5 620.8L153.4 621.7L152.3 622.6L151.2 623.6L150.1 624.7L149.0 625.8L148.2 626.7L146.9 628.2L145.7 629.8L144.8 631.3L144.2 632.8L144.1 634.4ZM115.2 596.8L117.4 596.8L119.5 596.2L121.7 595.3L122.8 594.8L123.9 594.3L125.0 593.7L126.1 593.1L127.2 592.5L128.3 591.8L129.4 591.1L130.4 590.5L131.6 589.7L132.6 589.0L133.7 588.2L134.8 587.4L135.9 586.6L137.0 585.8L138.0 585.1L139.0 584.3L140.0 583.5L141.0 582.8L142.5 581.3L143.6 580.1L144.5 578.9L145.5 577.4L146.2 575.8L146.6 574.3L146.5 572.7L144.6 571.7L142.7 572.0L141.4 572.3L140.2 572.7L138.4 573.5L137.0 574.2L135.9 574.8L134.8 575.4L133.7 576.0L132.6 576.7L131.6 577.4L130.5 578.1L129.4 578.9L128.3 579.7L127.2 580.4L126.2 581.2L125.3 582.0L124.3 582.8L122.8 584.1L121.7 585.1L120.6 586.1L119.5 587.2L118.6 588.1L117.4 589.6L116.3 590.9L115.5 592.0L114.6 593.5L114.1 595.0L114.7 596.6Z" fill="#f2f7fd" fill-rule="evenodd"/>
<path d="M121.7 631.5L123.1 631.3L125.0 630.7L126.1 630.1L127.2 629.6L128.3 629.0L129.4 628.3L130.5 627.6L131.6 626.8L132.6 626.0L133.7 625.1L134.8 624.1L135.9 623.0L136.7 622.1L137.6 620.5L137.0 619.5L134.9 619.7L133.7 620.2L132.6 620.7L131.6 621.3L130.5 621.9L129.4 622.6L128.3 623.3L127.2 624.1L126.1 624.9L125.0 625.8L124.0 626.7L122.8 627.9L121.9 629.0L121.1 630.5ZM134.8 607.8L137.0 607.9L139.2 607.4L141.4 606.6L143.2 605.9L144.6 605.2L145.7 604.7L146.8 604.1L147.9 603.6L149.0 603.0L150.1 602.5L151.2 601.9L152.3 601.3L153.4 600.7L154.5 600.2L155.6 599.6L156.7 599.0L157.7 598.5L158.8 598.0L159.9 597.4L161.0 596.9L162.1 596.3L163.2 595.8L164.3 595.3L165.4 594.8L166.5 594.2L167.6 593.7L168.7 593.1L169.8 592.6L170.8 592.0L171.9 591.4L173.0 590.9L174.1 590.3L175.2 589.7L176.3 589.1L177.4 588.5L178.5 587.8L179.6 587.2L180.7 586.5L181.8 585.8L182.8 585.2L183.9 584.5L185.0 583.8L186.1 583.1L187.2 582.3L188.3 581.6L189.4 580.8L190.5 580.1L191.6 579.3L192.7 578.5L193.8 577.6L194.9 576.8L195.9 576.0L197.0 575.1L198.0 574.3L199.0 573.5L199.9 572.7L201.4 571.5L202.5 570.5L203.4 569.6L204.7 568.5L205.8 567.5L206.8 566.6L208.0 565.4L209.0 564.3L210.1 563.2L211.2 562.1L212.1 561.2L213.4 559.7L214.5 558.5L215.5 557.3L216.7 555.9L217.8 554.5L218.6 553.5L219.7 551.9L220.8 550.4L221.8 548.8L222.7 547.3L223.2 546.1L223.8 545.0L224.3 543.4L224.7 541.9L225.0 540.4L225.1 538.8L225.2 537.3L225.3 535.7L225.4 534.2L225.3 532.7L224.5 531.1L223.2 530.6L221.1 530.8L218.9 531.5L216.7 532.4L215.6 532.9L214.5 533.4L213.4 533.9L212.3 534.5L211.2 535.1L210.1 535.7L209.0 536.3L208.0 536.9L206.9 537.5L205.8 538.2L204.7 538.8L203.6 539.5L202.5 540.1L201.4 540.7L200.3 541.4L199.2 542.1L198.1 542.7L197.0 543.4L195.9 544.1L194.9 544.8L193.8 545.4L192.7 546.1L191.6 546.8L190.5 547.6L189.4 548.3L188.3 549.0L187.2 549.8L186.1 550.5L185.0 551.3L183.9 552.1L182.8 552.9L181.8 553.6L180.7 554.5L179.6 555.3L178.5 556.1L177.4 556.9L176.3 557.8L175.2 558.7L174.1 559.5L173.0 560.4L172.1 561.2L171.1 561.9L170.2 562.7L169.2 563.5L168.3 564.3L166.5 565.8L165.6 566.6L164.3 567.7L163.2 568.6L162.1 569.6L161.1 570.4L159.9 571.5L158.8 572.5L157.7 573.5L156.7 574.5L155.6 575.5L154.5 576.6L153.4 577.6L152.3 578.7L151.3 579.7L150.1 581.0L149.2 582.0L147.9 583.3L147.1 584.3L145.7 585.8L144.6 587.1L143.8 588.1L142.6 589.7L141.4 591.2L140.3 592.7L139.2 594.3L138.1 595.9L137.1 597.4L136.1 598.9L135.3 600.5L134.5 602.0L133.9 603.6L133.5 605.1L133.5 606.6Z" fill="#dfecf7" fill-rule="evenodd"/>
<path d="M144.6 599.4L146.8 599.3L148.1 598.9L150.1 598.3L152.3 597.4L154.1 596.6L155.6 596.0L157.6 595.1L158.8 594.5L161.0 593.6L162.8 592.8L164.3 592.1L166.2 591.2L167.6 590.6L168.7 590.1L169.8 589.6L170.8 589.1L171.9 588.5L173.0 588.0L174.1 587.4L175.2 586.8L176.3 586.3L177.4 585.7L178.4 585.1L179.6 584.4L180.7 583.8L181.8 583.1L182.8 582.5L183.9 581.8L185.0 581.1L186.1 580.3L187.2 579.6L188.2 578.9L189.3 578.1L190.4 577.4L191.5 576.6L192.5 575.8L193.5 575.0L194.5 574.3L195.5 573.5L196.4 572.7L197.3 572.0L199.1 570.4L200.3 569.4L201.4 568.4L202.5 567.3L203.6 566.3L204.7 565.2L205.6 564.3L206.9 563.0L207.8 561.9L209.0 560.6L209.9 559.6L211.2 558.1L212.3 556.6L213.4 555.1L214.5 553.5L215.4 551.9L216.2 550.4L216.9 548.8L217.3 547.3L217.5 545.8L217.4 544.2L217.1 542.7L216.3 541.1L214.5 539.8L212.3 539.8L210.1 540.3L208.0 541.1L206.2 541.9L204.7 542.6L203.6 543.2L202.5 543.7L201.4 544.3L200.3 544.9L199.2 545.5L198.1 546.1L197.0 546.7L195.9 547.3L194.9 548.0L193.8 548.6L192.7 549.3L191.6 550.0L190.5 550.7L189.4 551.4L188.3 552.1L187.2 552.8L186.1 553.6L185.0 554.3L183.9 555.1L182.8 555.9L181.8 556.7L180.7 557.5L179.6 558.3L178.5 559.1L177.4 560.0L176.3 560.8L175.2 561.7L174.1 562.6L173.0 563.5L172.0 564.3L171.1 565.0L170.2 565.8L168.7 567.1L167.6 568.0L166.6 568.9L165.4 569.9L164.3 570.9L163.2 571.9L162.2 572.7L161.0 573.9L159.9 574.9L159.0 575.8L157.7 577.0L156.7 578.1L155.6 579.2L154.5 580.4L153.4 581.6L152.3 582.8L151.2 584.1L150.4 585.1L149.1 586.6L148.0 588.1L146.9 589.7L145.9 591.2L145.0 592.8L144.2 594.3L143.6 595.7L143.2 597.4L143.6 598.9Z" fill="#c7dcef" fill-rule="evenodd"/>
<path d="M151.2 593.9L153.4 593.7L155.6 593.2L156.8 592.8L158.8 592.0L160.8 591.2L162.1 590.7L164.3 589.8L166.5 588.9L167.6 588.4L169.8 587.5L171.7 586.6L173.0 586.0L174.1 585.4L175.2 584.9L176.3 584.3L177.4 583.7L178.5 583.1L179.6 582.5L180.7 581.9L181.8 581.2L182.8 580.6L183.9 579.9L185.0 579.2L186.1 578.5L187.2 577.8L188.3 577.0L189.4 576.2L190.5 575.4L191.6 574.6L192.7 573.8L193.8 572.9L194.9 572.0L195.8 571.2L197.0 570.2L198.1 569.2L199.2 568.2L200.2 567.3L201.4 566.1L202.5 565.1L203.6 563.9L204.7 562.7L205.8 561.5L206.7 560.4L208.0 558.9L209.0 557.4L210.1 555.8L211.0 554.2L211.7 552.7L212.2 551.2L212.4 549.6L212.2 548.1L211.3 546.5L210.2 545.8L209.0 545.4L206.9 545.4L205.3 545.8L203.6 546.3L201.4 547.1L199.4 548.1L198.1 548.7L197.0 549.2L195.9 549.8L194.9 550.4L193.8 551.0L192.7 551.6L191.6 552.3L190.5 553.0L189.4 553.6L188.3 554.3L187.3 555.0L186.1 555.8L185.0 556.5L183.9 557.3L182.8 558.0L181.8 558.8L180.7 559.6L179.6 560.4L178.6 561.2L177.6 561.9L176.6 562.7L175.6 563.5L174.6 564.3L173.7 565.0L172.7 565.8L171.8 566.6L170.9 567.3L169.8 568.3L168.7 569.2L167.6 570.2L166.5 571.2L165.6 572.0L164.3 573.1L163.2 574.2L162.3 575.0L161.0 576.3L159.9 577.4L158.8 578.5L157.8 579.7L156.7 580.9L155.7 582.0L154.5 583.5L153.4 584.9L152.3 586.5L151.2 588.1L150.4 589.7L149.8 591.2L149.8 592.8Z" fill="#a0cbe2" fill-rule="evenodd"/>
<path d="M155.6 589.7L157.7 589.8L159.9 589.3L161.4 588.9L163.2 588.3L165.4 587.5L167.6 586.7L169.6 585.8L170.8 585.3L173.0 584.3L174.1 583.8L175.2 583.3L176.3 582.8L177.4 582.2L178.5 581.6L179.6 581.0L180.7 580.4L181.8 579.8L182.8 579.1L183.9 578.4L185.0 577.7L186.1 577.0L187.2 576.3L188.3 575.5L189.4 574.7L190.5 573.9L191.6 573.1L192.7 572.2L193.8 571.4L194.9 570.4L195.8 569.6L197.0 568.5L198.1 567.5L199.1 566.6L200.3 565.4L201.4 564.3L202.5 563.0L203.4 561.9L204.7 560.4L205.8 558.9L206.8 557.3L207.6 555.8L208.2 554.2L208.4 552.7L208.1 551.2L206.9 549.9L204.7 549.4L202.5 549.6L200.3 550.2L198.1 551.0L196.0 551.9L194.9 552.5L193.8 553.0L192.7 553.6L191.6 554.2L190.5 554.9L189.4 555.5L188.3 556.2L187.2 556.9L186.1 557.6L185.0 558.3L183.9 559.0L182.8 559.8L181.8 560.5L180.7 561.3L179.6 562.1L178.5 562.9L177.4 563.8L176.3 564.6L175.2 565.5L174.1 566.4L173.0 567.3L172.0 568.1L170.8 569.1L169.8 570.0L168.7 571.0L167.6 572.0L166.5 573.0L165.4 574.0L164.3 575.0L163.2 576.1L162.1 577.2L161.3 578.1L159.9 579.6L158.8 580.9L158.0 582.0L156.9 583.5L155.9 585.1L155.1 586.6L154.7 588.1L155.4 589.7Z" fill="#6fb0d7" fill-rule="evenodd"/>
<path d="M161.0 586.6L163.2 586.3L165.0 585.8L166.5 585.4L168.7 584.6L170.8 583.8L173.0 582.9L175.1 582.0L176.3 581.4L177.4 580.9L178.5 580.3L179.6 579.7L180.7 579.1L181.8 578.5L182.8 577.8L183.9 577.2L185.0 576.5L186.0 575.8L187.2 575.0L188.3 574.3L189.3 573.5L190.4 572.7L191.4 572.0L192.3 571.2L193.2 570.4L194.9 569.0L195.9 568.1L197.0 567.0L198.1 565.9L199.0 565.0L200.3 563.6L201.4 562.3L202.3 561.2L203.3 559.6L204.2 558.1L204.7 556.9L205.0 555.0L204.3 553.5L202.5 552.7L200.8 552.7L199.2 552.9L197.4 553.5L195.9 554.0L193.8 554.9L192.7 555.4L191.6 556.0L190.5 556.5L189.4 557.2L188.3 557.8L187.2 558.5L186.1 559.1L185.0 559.8L183.9 560.5L182.8 561.3L181.8 562.0L180.7 562.8L179.6 563.6L178.5 564.4L177.4 565.2L176.3 566.1L175.2 567.0L174.1 567.8L173.0 568.7L171.9 569.6L170.8 570.6L169.8 571.6L168.7 572.6L167.7 573.5L166.5 574.6L165.4 575.7L164.3 576.9L163.2 578.1L162.1 579.4L161.3 580.4L160.2 582.0L159.4 583.5L158.9 585.1L159.9 586.5Z" fill="#4896c8" fill-rule="evenodd"/>
<path d="M164.3 583.4L166.5 583.3L168.7 582.8L170.8 582.2L173.0 581.4L175.2 580.5L177.0 579.7L178.5 578.9L179.6 578.4L180.7 577.8L181.8 577.2L182.8 576.5L183.9 575.9L185.0 575.2L186.1 574.5L187.2 573.7L188.3 572.9L189.4 572.1L190.5 571.3L191.6 570.4L192.7 569.5L193.8 568.5L194.9 567.5L195.8 566.6L197.0 565.3L198.0 564.3L199.2 562.7L200.2 561.2L201.0 559.6L201.5 558.1L201.0 556.5L199.2 555.8L197.0 555.9L194.9 556.5L192.8 557.3L191.6 557.8L190.5 558.4L189.4 558.9L188.3 559.5L187.2 560.1L186.1 560.7L185.0 561.4L183.9 562.1L182.8 562.8L181.8 563.6L180.8 564.3L179.7 565.0L178.6 565.8L177.6 566.6L176.6 567.3L175.7 568.1L174.7 568.9L173.8 569.6L172.0 571.2L170.8 572.2L169.8 573.3L168.7 574.3L167.6 575.5L166.5 576.6L165.4 578.0L164.3 579.5L163.4 581.2L163.2 582.4Z" fill="#2777b8" fill-rule="evenodd"/>
<path d="M168.7 580.3L170.8 580.2L172.9 579.7L174.1 579.3L176.3 578.4L178.5 577.5L179.6 577.0L180.7 576.4L181.8 575.8L182.8 575.2L183.9 574.5L185.0 573.8L186.1 573.1L187.2 572.4L188.3 571.6L189.4 570.7L190.5 569.8L191.6 568.9L192.7 567.9L193.8 566.8L194.7 565.8L195.9 564.3L197.0 562.7L197.7 561.2L197.6 559.6L196.0 558.9L193.8 559.1L192.1 559.6L190.5 560.2L188.5 561.2L187.2 561.8L186.1 562.4L185.0 563.1L183.9 563.7L182.8 564.4L181.8 565.1L180.7 565.9L179.6 566.7L178.5 567.5L177.4 568.3L176.3 569.2L175.2 570.1L174.1 571.0L173.1 572.0L171.9 573.1L170.8 574.2L169.8 575.4L168.8 576.6L167.9 578.1L167.6 579.7Z" fill="#0f5aa3" fill-rule="evenodd"/>
<path d="M174.1 576.7L176.3 576.3L177.9 575.8L179.6 575.2L180.7 574.6L181.8 574.1L182.8 573.5L183.9 572.8L185.0 572.1L186.1 571.4L187.2 570.6L188.3 569.8L189.3 568.9L190.5 567.8L191.6 566.6L192.7 565.1L193.2 563.5L191.6 562.5L190.4 562.7L188.3 563.4L186.5 564.3L185.0 565.0L183.9 565.7L182.8 566.3L181.8 567.1L180.7 567.8L179.6 568.6L178.5 569.5L177.4 570.4L176.5 571.2L175.2 572.4L174.2 573.5L173.2 575.0L173.6 576.6Z" fill="#083d7f" fill-rule="evenodd"/>
</g>
<g class="pp"><circle cx="76.3" cy="622.9" r="2.35"/><circle cx="130.4" cy="584.3" r="2.35"/><circle cx="122.8" cy="628.8" r="2.35"/><circle cx="135.8" cy="622.3" r="2.35"/><circle cx="160.1" cy="622.9" r="2.35"/><circle cx="144.1" cy="600.2" r="2.35"/><circle cx="152.8" cy="593.7" r="2.35"/><circle cx="154.7" cy="587.8" r="2.35"/><circle cx="158.2" cy="585.9" r="2.35"/><circle cx="163.0" cy="576.4" r="2.35"/><circle cx="163.6" cy="578.9" r="2.35"/><circle cx="165.7" cy="581.6" r="2.35"/><circle cx="167.6" cy="580.2" r="2.35"/><circle cx="169.8" cy="577.0" r="2.35"/><circle cx="172.2" cy="573.7" r="2.35"/><circle cx="172.2" cy="582.4" r="2.35"/><circle cx="175.7" cy="571.0" r="2.35"/><circle cx="174.4" cy="578.3" r="2.35"/><circle cx="176.5" cy="579.9" r="2.35"/><circle cx="178.4" cy="575.6" r="2.35"/><circle cx="179.8" cy="572.4" r="2.35"/><circle cx="181.1" cy="568.9" r="2.35"/><circle cx="181.7" cy="565.6" r="2.35"/><circle cx="183.3" cy="562.1" r="2.35"/><circle cx="185.4" cy="558.1" r="2.35"/><circle cx="187.9" cy="555.4" r="2.35"/><circle cx="188.7" cy="559.4" r="2.35"/><circle cx="189.8" cy="566.2" r="2.35"/><circle cx="191.4" cy="562.9" r="2.35"/><circle cx="193.3" cy="560.8" r="2.35"/><circle cx="183.8" cy="577.0" r="2.35"/><circle cx="186.0" cy="572.9" r="2.35"/><circle cx="189.2" cy="570.2" r="2.35"/><circle cx="191.9" cy="568.9" r="2.35"/><circle cx="194.6" cy="564.8" r="2.35"/><circle cx="196.8" cy="561.6" r="2.35"/><circle cx="198.7" cy="558.9" r="2.35"/><circle cx="200.0" cy="550.0" r="2.35"/><circle cx="201.4" cy="552.7" r="2.35"/><circle cx="205.4" cy="547.3" r="2.35"/><circle cx="204.1" cy="558.1" r="2.35"/><circle cx="207.3" cy="553.5" r="2.35"/><circle cx="216.2" cy="535.9" r="2.35"/><circle cx="197.3" cy="565.6" r="2.35"/><circle cx="191.9" cy="572.9" r="2.35"/><circle cx="187.9" cy="570.8" r="2.35"/><circle cx="185.2" cy="567.5" r="2.35"/><circle cx="174.4" cy="572.9" r="2.35"/><circle cx="170.3" cy="570.2" r="2.35"/></g>
<path d="M76.3 630.4 L90.29 623.86 L104.28 616.82 L118.27 609.08 L132.26 600.94 L146.25 592.3 L160.24 583.26 L174.23 573.52 L188.22 563.18 L202.21 552.04 L216.2 540.5 L216.2 551.3 L202.21 559.64 L188.22 568.58 L174.23 579.32 L160.24 591.26 L146.25 603.8 L132.26 616.44 L118.27 629.28 L104.28 642.22 L90.29 655.36 L76.3 669Z" fill="#2ca02c" fill-opacity="0.2"/>
<line x1="76.3" y1="645.3" x2="216.2" y2="545.9" stroke="#2e9a2e" stroke-width="1.75"/>
<line x1="71.5" y1="680.8" x2="245.3" y2="505.3" stroke="#ff0000" stroke-width="1.25" stroke-dasharray="3.9,1.8" clip-path="url(#clipd)"/>
<line x1="71.5" y1="680.8" x2="71.5" y2="684" stroke="#444" stroke-width="0.9"/>
<line x1="68.3" y1="680.8" x2="71.5" y2="680.8" stroke="#444" stroke-width="0.9"/>
<text x="66.6" y="685.1" font-size="8" text-anchor="end" font-weight="normal" fill="#222">0</text>
<text x="71.5" y="692.1" font-size="8" text-anchor="middle" font-weight="normal" fill="#222">0</text>
<line x1="106.26" y1="680.8" x2="106.26" y2="684" stroke="#444" stroke-width="0.9"/>
<line x1="68.3" y1="645.7" x2="71.5" y2="645.7" stroke="#444" stroke-width="0.9"/>
<text x="66.6" y="650" font-size="8" text-anchor="end" font-weight="normal" fill="#222">20</text>
<text x="106.26" y="692.1" font-size="8" text-anchor="middle" font-weight="normal" fill="#222">20</text>
<line x1="141.02" y1="680.8" x2="141.02" y2="684" stroke="#444" stroke-width="0.9"/>
<line x1="68.3" y1="610.6" x2="71.5" y2="610.6" stroke="#444" stroke-width="0.9"/>
<text x="66.6" y="614.9" font-size="8" text-anchor="end" font-weight="normal" fill="#222">40</text>
<text x="141.02" y="692.1" font-size="8" text-anchor="middle" font-weight="normal" fill="#222">40</text>
<line x1="175.78" y1="680.8" x2="175.78" y2="684" stroke="#444" stroke-width="0.9"/>
<line x1="68.3" y1="575.5" x2="71.5" y2="575.5" stroke="#444" stroke-width="0.9"/>
<text x="66.6" y="579.8" font-size="8" text-anchor="end" font-weight="normal" fill="#222">60</text>
<text x="175.78" y="692.1" font-size="8" text-anchor="middle" font-weight="normal" fill="#222">60</text>
<line x1="210.54" y1="680.8" x2="210.54" y2="684" stroke="#444" stroke-width="0.9"/>
<line x1="68.3" y1="540.4" x2="71.5" y2="540.4" stroke="#444" stroke-width="0.9"/>
<text x="66.6" y="544.7" font-size="8" text-anchor="end" font-weight="normal" fill="#222">80</text>
<text x="210.54" y="692.1" font-size="8" text-anchor="middle" font-weight="normal" fill="#222">80</text>
<line x1="245.3" y1="680.8" x2="245.3" y2="684" stroke="#444" stroke-width="0.9"/>
<line x1="68.3" y1="505.3" x2="71.5" y2="505.3" stroke="#444" stroke-width="0.9"/>
<text x="66.6" y="509.6" font-size="8" text-anchor="end" font-weight="normal" fill="#222">100</text>
<text x="245.3" y="692.1" font-size="8" text-anchor="middle" font-weight="normal" fill="#222">100</text>
<line x1="71.5" y1="504.9" x2="71.5" y2="681.25" stroke="#444" stroke-width="0.95"/>
<line x1="71.05" y1="680.8" x2="245.7" y2="680.8" stroke="#444" stroke-width="0.95"/>
<text x="155.45" y="702.7" font-size="8.9" text-anchor="middle" font-weight="normal" fill="#111">Chronological age (years)</text>
<rect x="77.4" y="511.4" width="54.2" height="26" rx="2.3" fill="#fff" fill-opacity="0.8" stroke="#8c8c8c" stroke-width="0.8"/>
<text y="521" font-size="8.9" fill="#111"><tspan x="80.4" font-style="italic">R</tspan><tspan x="88" dy="-2.6" font-size="6.5">2</tspan><tspan x="92.3" dy="2.6">: 0.79</tspan></text>
<text x="80.2" y="531.9" font-size="8.9" text-anchor="start" font-weight="normal" fill="#111">MAE: 3.78</text>
<g opacity="0.45" clip-path="url(#clipf)">
<path d="M277.2 675.8L279.2 675.2L281.3 674.1L282.3 673.5L283.4 672.8L284.4 672.2L285.5 671.5L286.5 670.7L287.5 670.0L288.5 669.3L289.6 668.6L290.6 667.8L291.7 667.1L292.7 666.4L293.7 665.6L294.8 664.9L295.8 664.2L296.8 663.5L297.9 662.8L298.9 662.1L299.9 661.4L301.0 660.7L302.0 660.0L303.0 659.3L304.1 658.7L305.1 658.0L306.1 657.3L307.2 656.6L308.2 656.0L309.2 655.3L310.3 654.6L311.3 653.9L312.3 653.3L313.4 652.6L314.4 651.9L315.4 651.3L316.5 650.6L317.5 649.9L318.5 649.2L319.6 648.6L320.6 647.9L321.7 647.2L322.7 646.5L323.7 645.8L324.8 645.1L325.8 644.4L326.8 643.7L327.9 643.0L328.9 642.3L329.9 641.6L331.0 640.9L332.0 640.2L333.0 639.5L334.1 638.8L335.1 638.1L336.1 637.4L337.2 636.7L338.2 636.0L339.2 635.3L340.3 634.6L341.3 633.9L342.3 633.2L343.4 632.5L344.4 631.8L345.4 631.2L346.5 630.6L347.5 629.9L349.2 628.9L350.6 628.2L352.7 627.4L353.9 627.1L355.8 626.6L357.0 626.2L358.8 625.3L359.9 624.6L361.0 623.9L362.0 623.2L363.0 622.5L364.1 621.7L365.1 620.9L366.1 620.0L367.2 619.2L368.2 618.3L369.2 617.3L370.3 616.4L371.3 615.4L372.3 614.4L373.4 613.4L374.3 612.4L375.2 611.5L376.2 610.6L377.1 609.7L378.0 608.8L378.9 607.9L379.8 606.9L380.8 606.0L381.7 605.1L382.7 604.2L383.7 603.3L384.7 602.3L385.7 601.4L386.7 600.5L387.7 599.6L388.8 598.7L389.8 597.8L390.8 596.8L391.9 595.9L392.9 595.0L394.0 594.1L395.0 593.2L396.0 592.3L397.1 591.3L398.1 590.4L399.1 589.5L400.1 588.6L401.0 587.7L402.0 586.8L402.9 585.8L403.8 584.9L404.6 584.0L405.5 583.1L406.3 582.2L407.5 580.6L408.2 579.4L408.5 577.7L407.2 577.6L405.4 578.2L403.4 579.1L401.3 580.2L399.3 581.3L397.2 582.2L396.0 582.2L396.7 580.3L398.0 578.5L399.2 577.0L400.2 575.7L401.1 574.8L401.9 573.9L402.7 573.0L404.2 571.2L405.0 570.2L405.8 569.3L406.6 568.4L407.4 567.5L408.2 566.6L409.0 565.7L410.5 563.8L411.6 562.4L412.7 561.1L413.5 560.2L414.7 558.5L415.6 557.4L416.8 555.7L417.6 554.7L418.8 552.8L419.9 551.2L420.7 550.1L421.8 548.2L423.0 546.4L424.0 544.6L425.1 542.7L425.8 540.9L425.1 539.3L423.0 539.5L421.8 540.0L419.9 540.8L418.0 541.8L416.8 542.4L414.7 543.6L413.7 544.3L412.7 544.9L411.6 545.6L410.6 546.2L409.6 546.9L408.5 547.5L407.5 548.2L406.5 548.9L405.4 549.6L404.4 550.3L403.4 551.0L402.3 551.7L401.3 552.3L400.3 553.0L399.3 553.7L398.2 554.4L397.2 555.1L396.1 555.8L395.1 556.5L394.1 557.2L393.0 557.9L392.0 558.6L391.0 559.3L389.9 560.0L388.9 560.6L387.8 561.4L386.8 562.1L385.8 562.8L384.7 563.5L383.7 564.2L382.7 564.9L381.7 565.7L380.6 566.4L379.6 567.1L378.5 567.9L377.5 568.7L376.5 569.5L375.5 570.2L374.4 571.1L373.4 571.9L372.3 572.7L371.3 573.5L370.3 574.4L369.2 575.3L368.2 576.1L367.2 577.0L366.1 577.9L365.1 578.8L364.1 579.8L363.0 580.7L362.0 581.6L361.0 582.6L359.9 583.5L358.9 584.5L357.9 585.4L356.8 586.4L355.8 587.3L354.7 588.2L353.7 589.1L352.7 590.0L351.6 590.8L350.6 591.7L349.6 592.5L348.5 593.3L347.5 594.1L346.5 594.8L345.4 595.6L344.4 596.3L343.4 597.0L342.3 597.6L341.3 598.3L340.3 598.9L339.2 599.6L337.7 600.5L336.1 601.4L334.5 602.3L333.0 603.2L331.1 604.2L329.9 604.8L327.9 605.7L325.8 606.6L323.7 607.4L321.7 608.4L319.6 609.5L318.5 610.2L317.5 610.9L316.5 611.6L315.4 612.4L314.4 613.2L313.4 614.0L312.3 614.9L311.3 615.9L310.3 616.9L309.2 617.9L308.5 618.9L307.2 620.7L307.2 622.4L308.2 623.1L308.4 624.4L307.5 626.2L306.3 628.0L305.1 629.5L304.1 630.8L303.3 631.7L302.5 632.6L301.8 633.5L301.0 634.5L300.2 635.4L299.3 636.3L298.5 637.2L297.7 638.1L296.9 639.0L296.0 640.0L295.2 640.9L294.3 641.8L293.4 642.7L292.5 643.6L291.6 644.5L290.6 645.4L289.6 646.4L288.6 647.3L287.5 648.2L286.5 649.1L285.5 649.9L284.4 650.8L283.4 651.7L282.3 652.6L281.3 653.5L280.3 654.4L279.2 655.4L278.2 656.4L277.4 657.4L276.1 659.1L278.2 659.3L280.3 658.3L282.2 657.4L283.4 657.0L284.8 657.4L285.0 659.2L284.8 661.1L284.4 662.6L284.0 663.8L283.4 665.0L282.5 666.6L281.3 668.3L280.3 669.8L279.3 671.1L278.2 672.7L277.5 673.9L277.1 675.7Z" fill="#e9f2fa" fill-rule="evenodd"/>
<path d="M293.7 660.8L295.8 660.3L297.9 659.3L299.8 658.3L301.0 657.6L302.9 656.5L304.1 655.8L305.1 655.1L306.1 654.5L307.2 653.8L308.2 653.2L309.2 652.5L310.3 651.9L311.3 651.2L312.3 650.6L313.4 649.9L314.4 649.2L315.4 648.6L316.5 647.9L317.5 647.3L318.5 646.6L319.6 646.0L320.6 645.3L321.7 644.7L322.7 644.0L323.7 643.3L324.8 642.7L325.8 642.0L326.8 641.3L327.9 640.6L328.9 639.9L329.9 639.2L331.0 638.6L332.0 637.9L333.0 637.1L334.1 636.4L335.1 635.7L336.1 635.0L337.2 634.3L338.2 633.6L339.2 632.9L340.3 632.1L341.3 631.4L342.3 630.7L343.4 629.9L344.4 629.2L345.4 628.5L346.5 627.8L347.5 627.0L348.5 626.3L349.6 625.5L350.6 624.8L351.6 624.0L352.7 623.3L353.7 622.5L354.7 621.7L355.8 621.0L356.8 620.2L357.9 619.4L358.9 618.7L359.9 617.9L361.0 617.1L362.0 616.3L363.0 615.5L364.1 614.7L365.1 613.9L366.1 613.0L367.2 612.2L368.2 611.3L369.2 610.5L370.2 609.7L371.3 608.8L372.3 607.9L373.4 606.9L374.4 606.0L375.4 605.1L376.4 604.2L377.4 603.3L378.4 602.3L379.3 601.4L380.2 600.5L380.9 599.6L382.0 597.8L381.9 595.9L382.3 594.1L383.3 592.3L384.5 590.4L385.8 588.6L386.5 587.7L387.8 586.1L388.8 584.9L389.6 584.0L390.4 583.1L391.2 582.2L392.0 581.3L392.9 580.3L393.7 579.4L394.5 578.5L395.3 577.6L396.1 576.7L396.9 575.7L397.7 574.8L398.5 573.9L399.3 573.0L400.1 572.1L400.9 571.2L401.7 570.2L403.2 568.4L404.4 567.0L405.4 565.7L406.2 564.7L407.5 563.1L408.3 562.0L409.6 560.3L410.3 559.2L411.5 557.4L412.7 555.6L413.7 553.8L414.7 551.9L415.4 550.1L414.8 548.2L412.7 548.7L411.6 549.1L409.7 550.1L408.5 550.7L406.5 551.9L405.4 552.5L404.4 553.2L403.4 553.8L402.3 554.5L401.3 555.1L400.3 555.8L399.2 556.5L398.2 557.2L397.2 557.8L396.1 558.5L395.1 559.2L394.1 559.9L393.0 560.6L392.0 561.3L391.0 562.0L389.9 562.7L388.9 563.4L387.8 564.1L386.8 564.8L385.8 565.5L384.7 566.2L383.7 567.0L382.7 567.7L381.6 568.5L380.6 569.2L379.6 570.0L378.5 570.7L377.5 571.5L376.5 572.3L375.4 573.1L374.5 573.9L373.4 574.8L372.3 575.7L371.3 576.5L370.3 577.4L369.2 578.3L368.2 579.2L367.2 580.2L366.1 581.1L365.1 582.0L364.1 583.0L363.0 584.0L362.0 584.9L361.0 585.8L360.0 586.8L359.0 587.7L358.0 588.6L357.0 589.5L356.0 590.4L355.0 591.3L353.9 592.3L352.8 593.2L351.7 594.1L350.6 595.0L349.6 595.8L348.5 596.7L347.5 597.5L346.5 598.2L345.4 599.0L344.4 599.8L343.4 600.5L342.3 601.3L341.3 602.0L340.3 602.7L339.2 603.4L338.2 604.2L337.2 604.9L336.1 605.6L335.1 606.3L334.1 607.0L333.0 607.8L332.0 608.5L331.0 609.3L329.9 610.0L328.9 610.8L327.9 611.6L326.8 612.4L325.8 613.2L324.8 614.1L323.7 614.9L322.7 615.8L321.7 616.7L320.6 617.7L319.6 618.6L318.5 619.6L317.5 620.6L316.5 621.6L315.5 622.5L314.6 623.4L313.7 624.4L312.8 625.3L312.0 626.2L311.1 627.1L310.3 628.0L309.4 628.9L308.6 629.9L307.8 630.8L307.0 631.7L306.1 632.7L305.1 634.0L304.1 635.3L303.3 636.3L302.0 638.1L301.0 639.7L300.2 640.9L299.0 642.7L297.9 644.5L296.9 646.4L295.8 648.2L294.9 650.0L294.1 651.9L293.7 653.1L293.3 654.6L293.0 656.5L292.8 658.3L292.8 660.1Z" fill="#cbdef1" fill-rule="evenodd"/>
<path d="M299.9 653.8L302.0 653.9L304.1 653.1L306.1 652.1L308.1 651.0L309.2 650.3L310.3 649.7L311.3 649.0L312.3 648.4L313.4 647.7L314.4 647.1L315.4 646.4L316.5 645.8L317.5 645.1L318.5 644.5L319.6 643.8L320.6 643.2L321.7 642.6L322.7 641.9L323.7 641.3L324.8 640.7L325.8 640.0L326.8 639.4L327.9 638.7L328.9 638.1L329.9 637.4L331.0 636.8L332.0 636.1L333.0 635.4L334.1 634.7L335.1 634.0L336.1 633.3L337.2 632.6L338.2 631.9L339.2 631.1L340.3 630.4L341.3 629.7L342.3 628.9L343.4 628.2L344.4 627.5L345.4 626.7L346.5 626.0L347.5 625.2L348.5 624.4L349.6 623.7L350.6 622.9L351.6 622.1L352.7 621.3L353.7 620.5L354.7 619.6L355.7 618.9L356.8 618.0L357.9 617.1L358.9 616.2L359.9 615.3L361.0 614.4L362.0 613.5L363.0 612.6L364.1 611.6L365.1 610.6L366.0 609.7L366.9 608.8L367.8 607.9L368.6 606.9L369.4 606.0L370.3 604.9L371.3 603.6L372.2 602.3L373.4 600.6L374.1 599.6L375.3 597.8L376.5 596.2L377.4 595.0L378.5 593.5L379.6 592.3L380.4 591.3L381.2 590.4L382.0 589.5L382.8 588.6L383.6 587.7L384.5 586.8L385.3 585.8L386.1 584.9L387.0 584.0L387.8 583.1L388.6 582.2L389.5 581.3L390.3 580.3L391.1 579.4L391.9 578.5L392.7 577.6L393.5 576.7L394.3 575.7L395.1 574.8L395.9 573.9L396.6 573.0L398.2 571.2L399.2 569.9L400.3 568.6L401.1 567.5L402.3 565.9L403.2 564.7L404.4 563.0L405.4 561.4L406.1 560.2L407.0 558.3L407.5 556.7L406.6 555.6L405.4 555.8L403.7 556.5L402.3 557.1L400.3 558.3L399.2 558.9L398.2 559.5L397.2 560.1L396.1 560.8L395.1 561.4L394.1 562.1L393.0 562.8L392.0 563.5L391.0 564.1L389.9 564.8L388.9 565.5L387.8 566.2L386.8 566.9L385.8 567.7L384.7 568.4L383.7 569.1L382.7 569.9L381.6 570.6L380.6 571.4L379.6 572.2L378.5 573.0L377.5 573.8L376.5 574.6L375.4 575.4L374.4 576.3L373.4 577.1L372.3 578.0L371.3 578.9L370.3 579.8L369.2 580.7L368.2 581.6L367.2 582.6L366.1 583.5L365.1 584.5L364.1 585.4L363.0 586.4L362.0 587.3L361.0 588.3L359.9 589.2L358.9 590.1L357.9 591.0L356.8 591.9L355.8 592.8L354.7 593.7L353.7 594.6L352.7 595.5L351.6 596.3L350.6 597.2L349.6 598.0L348.5 598.9L347.6 599.6L346.5 600.5L345.4 601.3L344.4 602.0L343.4 602.8L342.3 603.6L341.3 604.3L340.3 605.1L339.2 605.8L338.2 606.5L337.2 607.3L336.1 608.0L335.1 608.8L334.1 609.5L333.0 610.3L332.0 611.0L331.0 611.8L329.9 612.6L328.9 613.4L327.9 614.2L326.8 615.0L325.8 615.8L324.8 616.7L323.7 617.5L322.7 618.4L321.7 619.3L320.6 620.2L319.6 621.2L318.5 622.1L317.5 623.1L316.5 624.2L315.4 625.2L314.5 626.2L313.6 627.1L312.8 628.0L312.0 628.9L311.2 629.9L310.3 631.0L309.2 632.3L308.3 633.5L307.2 635.3L306.5 636.3L305.4 638.1L304.3 640.0L303.2 641.8L302.1 643.6L301.2 645.5L300.4 647.3L299.9 648.7L299.6 650.0L299.4 651.9L299.8 653.7Z" fill="#9dcae1" fill-rule="evenodd"/>
<path d="M305.1 649.4L307.2 649.2L309.2 648.3L311.1 647.3L312.3 646.6L313.4 645.9L314.4 645.3L315.4 644.7L316.5 644.0L317.5 643.4L318.5 642.7L319.6 642.1L320.6 641.5L321.7 640.8L322.7 640.2L323.7 639.6L325.8 638.4L327.9 637.2L328.9 636.6L329.9 636.0L331.0 635.3L332.0 634.7L333.0 634.0L334.1 633.3L335.1 632.7L336.1 632.0L337.2 631.3L338.2 630.6L339.2 629.9L340.3 629.1L341.3 628.4L342.3 627.7L343.4 626.9L344.4 626.2L345.4 625.4L346.5 624.6L347.5 623.9L348.5 623.1L349.6 622.3L350.6 621.5L351.6 620.7L352.7 619.8L353.7 619.0L354.7 618.1L355.8 617.2L356.8 616.3L357.9 615.4L358.9 614.4L359.9 613.4L360.9 612.4L361.8 611.5L362.7 610.6L363.5 609.7L364.3 608.8L365.1 607.8L366.1 606.4L367.1 605.1L368.2 603.4L368.9 602.3L370.1 600.5L371.3 598.9L372.2 597.8L373.4 596.3L374.4 595.2L375.4 594.1L376.2 593.2L377.1 592.3L377.9 591.3L378.8 590.4L379.7 589.5L380.6 588.6L381.4 587.7L382.3 586.8L383.2 585.8L384.0 584.9L384.9 584.0L385.7 583.1L386.5 582.2L387.3 581.3L388.1 580.3L388.9 579.4L389.7 578.5L390.5 577.6L391.3 576.7L392.1 575.7L393.0 574.6L394.1 573.4L395.1 572.1L396.1 570.8L397.2 569.4L397.9 568.4L399.2 566.6L400.3 564.8L401.1 562.9L400.3 561.3L398.2 561.9L396.1 562.8L394.4 563.8L393.0 564.6L392.0 565.3L391.0 565.9L389.9 566.6L388.9 567.2L387.8 567.9L386.8 568.6L385.8 569.3L384.7 570.0L383.7 570.8L382.7 571.5L381.6 572.3L380.7 573.0L379.6 573.8L378.5 574.6L377.5 575.4L376.5 576.3L375.4 577.1L374.4 578.0L373.4 578.8L372.3 579.7L371.3 580.6L370.3 581.5L369.2 582.4L368.2 583.3L367.2 584.2L366.1 585.2L365.1 586.1L364.1 587.0L363.0 587.9L362.0 588.9L361.0 589.8L359.9 590.7L358.9 591.6L357.9 592.5L356.8 593.4L355.8 594.3L354.7 595.2L353.7 596.0L352.8 596.8L351.7 597.8L350.6 598.6L349.6 599.4L348.5 600.3L347.5 601.1L346.5 601.9L345.4 602.7L344.4 603.5L343.4 604.3L342.3 605.0L341.3 605.8L340.3 606.5L339.2 607.3L338.2 608.1L337.2 608.8L336.1 609.5L335.1 610.3L334.1 611.0L333.0 611.8L332.0 612.6L331.0 613.3L329.9 614.1L328.9 614.9L327.9 615.7L326.8 616.5L325.8 617.4L324.8 618.2L323.7 619.1L322.7 620.0L321.7 620.9L320.6 621.9L319.6 622.9L318.5 623.9L317.5 624.9L316.5 626.0L315.5 627.1L314.7 628.0L313.4 629.6L312.5 630.8L311.3 632.4L310.6 633.5L309.4 635.4L308.3 637.2L307.3 639.0L306.3 640.9L305.5 642.7L304.9 644.5L304.5 646.4L304.4 648.2Z" fill="#66abd4" fill-rule="evenodd"/>
<path d="M309.2 645.1L311.3 645.0L312.5 644.5L314.3 643.6L315.4 642.9L316.5 642.3L317.5 641.7L318.5 641.1L319.6 640.4L320.6 639.8L321.7 639.1L322.7 638.5L324.8 637.3L326.7 636.3L327.9 635.6L329.9 634.5L331.7 633.5L333.0 632.7L334.1 632.1L335.1 631.5L336.1 630.8L337.2 630.1L338.2 629.4L339.2 628.7L340.3 628.0L341.3 627.3L342.3 626.6L343.4 625.8L344.4 625.0L345.4 624.3L346.5 623.5L347.5 622.7L348.5 621.9L349.6 621.0L350.6 620.2L351.6 619.3L352.7 618.5L353.7 617.5L354.7 616.6L355.8 615.6L356.8 614.6L357.9 613.6L358.9 612.5L359.7 611.5L361.0 609.9L361.7 608.8L362.7 606.9L363.2 605.1L363.5 603.3L364.1 602.2L365.1 600.9L366.1 599.9L367.2 599.0L368.2 598.0L369.2 597.1L370.3 596.2L371.3 595.3L372.3 594.4L373.4 593.4L374.4 592.5L375.4 591.5L376.5 590.5L377.5 589.5L378.4 588.6L379.3 587.7L380.2 586.8L381.1 585.8L382.0 584.9L382.9 584.0L383.7 583.1L384.5 582.2L385.3 581.3L386.1 580.3L386.9 579.4L387.7 578.5L388.9 577.1L389.9 575.9L390.7 574.8L392.0 573.2L392.9 572.1L394.1 570.4L394.7 569.3L395.6 567.5L395.1 566.2L393.3 566.6L392.0 567.2L389.9 568.2L388.9 568.8L387.8 569.5L386.8 570.1L385.8 570.8L384.7 571.5L383.7 572.2L382.7 572.9L381.6 573.7L380.6 574.4L379.6 575.2L378.5 576.0L377.5 576.8L376.5 577.6L375.4 578.4L374.4 579.3L373.4 580.2L372.3 581.0L371.3 581.9L370.3 582.8L369.2 583.7L368.2 584.6L367.2 585.5L366.1 586.4L365.1 587.3L364.1 588.2L363.0 589.1L362.0 590.0L361.0 590.9L359.9 591.8L358.9 592.7L357.9 593.6L356.8 594.5L355.8 595.4L354.7 596.3L353.7 597.2L352.7 598.0L351.6 598.9L350.6 599.7L349.6 600.5L348.5 601.4L347.5 602.2L346.5 603.0L345.4 603.8L344.4 604.6L343.4 605.4L342.3 606.2L341.3 606.9L340.3 607.7L339.2 608.4L338.2 609.2L337.2 609.9L336.1 610.7L335.1 611.4L334.1 612.2L333.0 613.0L332.0 613.7L331.0 614.5L329.9 615.3L328.9 616.1L327.9 616.9L326.8 617.8L325.8 618.6L324.8 619.5L323.7 620.4L322.7 621.3L321.7 622.3L320.6 623.3L319.6 624.3L318.7 625.3L317.8 626.2L317.0 627.1L315.5 628.9L314.4 630.5L313.6 631.7L312.4 633.5L311.4 635.4L310.5 637.2L309.7 639.0L309.2 640.5L309.0 641.8L308.8 643.6Z" fill="#4594c7" fill-rule="evenodd"/>
<path d="M313.4 641.9L315.4 641.3L317.5 640.2L318.5 639.6L320.6 638.3L321.7 637.7L322.7 637.1L323.7 636.4L325.7 635.4L326.8 634.7L328.9 633.7L331.0 632.7L333.0 631.7L334.1 631.1L336.1 629.9L337.2 629.2L338.2 628.6L339.2 627.9L340.3 627.2L341.3 626.5L342.3 625.7L343.4 625.0L344.4 624.2L345.4 623.4L346.5 622.6L347.5 621.8L348.5 621.0L349.6 620.1L350.6 619.2L351.6 618.3L352.7 617.3L353.7 616.3L354.7 615.3L355.7 614.3L356.8 612.8L357.7 611.5L358.0 609.7L356.8 609.4L354.7 610.1L353.6 610.6L351.7 611.5L350.6 612.0L348.5 612.9L348.5 611.5L349.4 610.6L350.3 609.7L351.2 608.8L352.2 607.9L353.3 606.9L354.4 606.0L355.5 605.1L356.7 604.2L357.9 603.3L358.9 602.6L359.9 601.8L361.0 601.1L362.0 600.3L363.0 599.6L364.1 598.9L365.1 598.2L366.1 597.4L367.2 596.7L368.2 595.9L369.2 595.1L370.3 594.3L371.3 593.5L372.3 592.6L373.4 591.7L374.4 590.8L375.4 589.9L376.5 588.9L377.5 588.0L378.5 586.9L379.6 585.9L380.5 584.9L381.4 584.0L382.2 583.1L383.1 582.2L383.9 581.3L384.7 580.3L385.4 579.4L386.8 577.8L387.7 576.7L388.9 575.1L389.8 573.9L391.0 572.1L391.6 570.2L389.9 569.9L387.8 570.8L385.8 572.0L384.7 572.6L383.7 573.3L382.7 573.9L381.6 574.7L380.6 575.4L379.6 576.2L378.5 576.9L377.5 577.7L376.5 578.5L375.4 579.4L374.4 580.2L373.4 581.0L372.3 581.9L371.3 582.8L370.3 583.6L369.2 584.5L368.2 585.4L367.2 586.3L366.1 587.2L365.1 588.1L364.1 589.0L363.0 589.9L362.0 590.8L361.0 591.7L359.9 592.6L358.9 593.5L357.9 594.4L356.8 595.3L355.8 596.1L354.7 597.0L353.7 597.9L352.8 598.7L351.7 599.6L350.6 600.5L349.6 601.3L348.5 602.1L347.5 602.9L346.5 603.8L345.4 604.6L344.4 605.3L343.4 606.1L342.3 606.9L341.3 607.7L340.3 608.4L339.2 609.2L338.2 609.9L337.2 610.7L336.1 611.4L335.1 612.2L334.1 612.9L333.0 613.7L332.0 614.5L331.0 615.3L329.9 616.1L328.9 616.9L327.9 617.7L326.8 618.6L325.8 619.4L324.8 620.3L323.7 621.3L322.7 622.2L321.7 623.2L320.6 624.3L319.7 625.3L318.9 626.2L317.5 627.9L316.7 628.9L315.4 630.7L314.4 632.5L313.8 633.5L313.0 635.4L312.3 637.2L312.1 639.0L312.2 640.9Z" fill="#2f7fbc" fill-rule="evenodd"/>
<path d="M316.5 637.7L318.5 637.4L320.6 636.4L321.7 635.8L322.7 635.1L323.7 634.5L324.8 633.8L325.8 633.2L327.9 632.0L329.9 631.1L331.2 630.8L333.0 630.2L335.1 629.3L337.2 628.2L338.2 627.6L339.2 626.9L340.3 626.3L341.3 625.6L342.3 624.8L343.4 624.1L344.4 623.3L345.4 622.5L346.5 621.7L347.5 620.8L348.5 619.9L349.6 619.0L350.6 618.0L351.6 617.0L352.7 615.6L353.5 614.3L352.7 613.4L350.6 614.1L348.5 615.2L346.9 616.1L345.4 617.0L343.8 617.9L342.4 618.9L340.6 619.8L340.3 618.4L341.3 617.0L342.1 616.1L342.9 615.2L343.8 614.3L344.7 613.4L345.6 612.4L346.5 611.5L347.5 610.6L348.5 609.7L349.5 608.8L350.5 607.9L351.6 606.9L352.7 606.0L353.7 605.2L354.7 604.4L355.8 603.6L356.8 602.8L357.9 602.0L358.9 601.3L359.9 600.5L361.0 599.8L362.0 599.0L363.0 598.3L364.1 597.6L365.0 596.8L366.1 596.1L367.2 595.3L368.2 594.5L369.2 593.7L370.3 592.9L371.3 592.1L372.3 591.2L373.3 590.4L374.3 589.5L375.3 588.6L376.3 587.7L377.3 586.8L378.2 585.8L379.1 584.9L380.0 584.0L380.8 583.1L381.6 582.2L382.4 581.3L383.2 580.3L384.7 578.5L385.8 577.1L386.7 575.7L387.5 573.9L385.8 573.5L383.7 574.5L381.6 575.7L380.6 576.4L379.6 577.1L378.5 577.9L377.5 578.6L376.5 579.4L375.4 580.2L374.4 581.0L373.4 581.9L372.3 582.7L371.3 583.6L370.3 584.4L369.2 585.3L368.2 586.2L367.2 587.1L366.1 587.9L365.1 588.8L364.1 589.7L363.0 590.6L362.0 591.5L361.0 592.4L359.9 593.3L359.0 594.1L357.9 595.0L356.9 595.9L355.8 596.8L354.7 597.7L353.7 598.6L352.7 599.5L351.6 600.3L350.6 601.2L349.6 602.0L348.5 602.9L347.5 603.7L346.5 604.5L345.4 605.3L344.4 606.0L343.4 606.8L342.3 607.6L341.3 608.4L340.3 609.1L339.2 609.9L338.2 610.6L337.2 611.4L336.1 612.1L335.1 612.9L334.1 613.6L333.0 614.4L332.0 615.2L331.0 616.0L329.9 616.8L328.9 617.6L327.9 618.5L326.8 619.3L325.8 620.2L324.8 621.2L323.7 622.1L322.7 623.1L321.7 624.2L320.7 625.3L319.9 626.2L318.5 627.9L317.8 628.9L316.6 630.8L315.7 632.6L315.1 634.5L315.2 636.3Z" fill="#1e6db2" fill-rule="evenodd"/>
<path d="M318.5 634.1L320.6 633.7L322.7 632.7L323.7 632.0L324.8 631.3L325.8 630.5L326.8 629.7L327.8 628.9L328.8 628.0L329.8 627.1L330.8 626.2L331.8 625.3L332.7 624.4L333.7 623.4L334.6 622.5L335.5 621.6L336.3 620.7L337.2 619.8L338.1 618.9L339.0 617.9L339.9 617.0L340.8 616.1L341.7 615.2L342.6 614.3L343.5 613.4L344.4 612.5L345.4 611.5L346.3 610.6L347.3 609.7L348.3 608.8L349.4 607.9L350.4 606.9L351.5 606.0L352.7 605.1L353.7 604.3L354.7 603.5L355.8 602.7L356.8 601.9L357.9 601.1L358.9 600.4L359.9 599.6L361.0 598.9L362.0 598.1L363.0 597.4L364.1 596.6L365.1 595.9L366.1 595.1L367.2 594.3L368.2 593.5L369.2 592.7L370.3 591.9L371.3 591.1L372.3 590.2L373.4 589.3L374.4 588.3L375.4 587.4L376.5 586.4L377.5 585.3L378.5 584.2L379.6 583.1L380.4 582.2L381.6 580.6L382.6 579.4L383.7 577.7L383.7 576.3L382.1 576.7L380.6 577.4L379.6 578.1L378.5 578.8L377.5 579.5L376.5 580.2L375.4 581.0L374.4 581.8L373.4 582.6L372.3 583.4L371.3 584.3L370.3 585.1L369.2 586.0L368.3 586.8L367.2 587.7L366.1 588.6L365.1 589.5L364.1 590.3L363.0 591.2L362.0 592.1L361.0 593.0L359.9 593.9L358.9 594.8L357.9 595.7L356.8 596.6L355.8 597.5L354.7 598.4L353.7 599.3L352.7 600.2L351.6 601.0L350.6 601.9L349.6 602.7L348.5 603.5L347.5 604.3L346.5 605.1L345.4 605.9L344.4 606.7L343.4 607.5L342.3 608.2L341.3 609.0L340.3 609.7L339.2 610.5L338.2 611.2L337.2 612.0L336.1 612.7L335.1 613.5L334.1 614.2L333.0 615.0L332.0 615.8L331.0 616.6L329.9 617.4L328.9 618.2L327.9 619.1L326.8 620.0L325.8 620.9L324.8 621.9L323.7 622.9L322.7 624.0L321.7 625.1L320.7 626.2L319.6 627.8L318.8 628.9L317.8 630.8L317.3 632.6ZM337.2 626.5L338.4 626.2L340.1 625.3L341.3 624.5L342.3 623.8L343.4 623.0L344.4 622.2L345.4 621.4L346.5 620.5L347.5 619.5L348.5 618.2L347.5 617.5L345.4 618.6L344.4 619.2L343.4 619.9L342.3 620.6L341.3 621.4L340.3 622.2L339.2 623.1L338.2 624.0L337.2 625.1L336.5 626.2Z" fill="#105ba4" fill-rule="evenodd"/>
<path d="M321.7 630.0L323.7 629.3L325.8 628.1L326.8 627.3L327.9 626.6L328.9 625.7L329.9 624.9L331.0 624.0L332.0 623.1L333.0 622.1L334.1 621.2L335.1 620.2L336.1 619.2L337.2 618.2L338.2 617.1L339.2 616.1L340.1 615.2L341.0 614.3L341.9 613.4L342.9 612.4L343.8 611.5L344.7 610.6L345.6 609.7L346.6 608.8L347.5 607.9L348.5 607.0L349.6 606.0L350.6 605.1L351.6 604.3L352.7 603.4L353.7 602.6L354.7 601.9L355.8 601.1L356.8 600.4L357.9 599.7L358.9 598.9L359.9 598.2L361.0 597.5L362.0 596.8L363.0 596.0L364.1 595.3L365.1 594.5L366.1 593.7L367.2 592.9L368.2 592.1L369.2 591.3L370.3 590.4L371.3 589.5L372.3 588.6L373.3 587.7L374.2 586.8L375.1 585.8L375.9 584.9L376.7 584.0L377.5 582.9L377.5 581.6L376.1 582.2L374.5 583.1L373.4 583.9L372.3 584.7L371.3 585.5L370.3 586.3L369.2 587.1L368.2 587.9L367.2 588.8L366.1 589.7L365.1 590.5L364.1 591.3L363.1 592.3L362.0 593.2L361.0 594.1L360.0 595.0L358.9 595.9L357.9 596.8L356.9 597.8L355.9 598.7L354.8 599.6L353.8 600.5L352.8 601.4L351.6 602.3L350.6 603.2L349.6 604.1L348.5 604.9L347.5 605.7L346.5 606.4L345.4 607.2L344.4 607.8L343.4 608.6L342.3 609.3L341.3 610.0L340.3 610.7L339.2 611.4L338.2 612.2L337.2 612.9L336.1 613.6L335.1 614.4L334.1 615.1L333.0 615.9L332.0 616.7L331.0 617.5L329.9 618.4L328.9 619.2L327.9 620.1L326.8 621.1L325.8 622.1L324.8 623.1L323.7 624.2L322.9 625.3L321.7 627.0L320.8 628.9Z" fill="#084082" fill-rule="evenodd"/>
</g>
<g class="pp"><circle cx="280.9" cy="655.5" r="2.35"/><circle cx="283.8" cy="670.1" r="2.35"/><circle cx="303.5" cy="646.7" r="2.35"/><circle cx="305.0" cy="642.3" r="2.35"/><circle cx="307.2" cy="649.6" r="2.35"/><circle cx="309.4" cy="647.4" r="2.35"/><circle cx="310.8" cy="643.8" r="2.35"/><circle cx="313.8" cy="642.3" r="2.35"/><circle cx="316.7" cy="644.5" r="2.35"/><circle cx="310.1" cy="640.1" r="2.35"/><circle cx="313.8" cy="633.6" r="2.35"/><circle cx="315.2" cy="626.3" r="2.35"/><circle cx="315.2" cy="628.5" r="2.35"/><circle cx="318.1" cy="632.1" r="2.35"/><circle cx="320.3" cy="636.5" r="2.35"/><circle cx="321.8" cy="623.4" r="2.35"/><circle cx="323.3" cy="620.4" r="2.35"/><circle cx="324.0" cy="626.3" r="2.35"/><circle cx="326.2" cy="625.5" r="2.35"/><circle cx="326.9" cy="621.2" r="2.35"/><circle cx="329.1" cy="616.8" r="2.35"/><circle cx="330.6" cy="618.2" r="2.35"/><circle cx="329.8" cy="621.9" r="2.35"/><circle cx="332.0" cy="620.4" r="2.35"/><circle cx="324.0" cy="613.1" r="2.35"/><circle cx="313.8" cy="615.3" r="2.35"/><circle cx="329.1" cy="635.8" r="2.35"/><circle cx="332.7" cy="633.6" r="2.35"/><circle cx="335.7" cy="627.7" r="2.35"/><circle cx="336.4" cy="618.2" r="2.35"/><circle cx="337.9" cy="627.7" r="2.35"/><circle cx="337.9" cy="605.8" r="2.35"/><circle cx="339.3" cy="610.9" r="2.35"/><circle cx="340.8" cy="614.6" r="2.35"/><circle cx="342.2" cy="619.0" r="2.35"/><circle cx="343.7" cy="623.4" r="2.35"/><circle cx="345.2" cy="606.6" r="2.35"/><circle cx="346.6" cy="610.2" r="2.35"/><circle cx="348.1" cy="614.6" r="2.35"/><circle cx="349.5" cy="619.0" r="2.35"/><circle cx="351.0" cy="621.2" r="2.35"/><circle cx="351.7" cy="602.9" r="2.35"/><circle cx="353.9" cy="601.5" r="2.35"/><circle cx="353.9" cy="618.2" r="2.35"/><circle cx="356.8" cy="613.9" r="2.35"/><circle cx="357.6" cy="609.5" r="2.35"/><circle cx="359.8" cy="601.5" r="2.35"/><circle cx="361.9" cy="611.7" r="2.35"/><circle cx="364.1" cy="619.7" r="2.35"/><circle cx="364.9" cy="602.2" r="2.35"/><circle cx="370.0" cy="602.9" r="2.35"/><circle cx="372.9" cy="607.3" r="2.35"/><circle cx="346.6" cy="618.2" r="2.35"/><circle cx="340.8" cy="623.4" r="2.35"/><circle cx="343.0" cy="621.2" r="2.35"/><circle cx="334.9" cy="616.1" r="2.35"/><circle cx="333.5" cy="624.1" r="2.35"/><circle cx="326.9" cy="630.7" r="2.35"/><circle cx="324.0" cy="629.9" r="2.35"/><circle cx="319.6" cy="637.2" r="2.35"/><circle cx="413.1" cy="550.2" r="2.35"/><circle cx="402.6" cy="556.8" r="2.35"/><circle cx="400.8" cy="561.2" r="2.35"/><circle cx="388.7" cy="567.4" r="2.35"/><circle cx="383.6" cy="570.7" r="2.35"/><circle cx="395.3" cy="567.0" r="2.35"/><circle cx="398.2" cy="567.7" r="2.35"/><circle cx="399.6" cy="566.3" r="2.35"/><circle cx="396.0" cy="572.1" r="2.35"/><circle cx="386.5" cy="572.8" r="2.35"/><circle cx="382.8" cy="576.5" r="2.35"/><circle cx="379.9" cy="578.0" r="2.35"/><circle cx="371.2" cy="577.2" r="2.35"/><circle cx="371.9" cy="579.4" r="2.35"/><circle cx="373.4" cy="580.9" r="2.35"/><circle cx="376.3" cy="582.3" r="2.35"/><circle cx="380.7" cy="583.8" r="2.35"/><circle cx="382.8" cy="579.4" r="2.35"/><circle cx="388.7" cy="580.9" r="2.35"/><circle cx="381.4" cy="586.7" r="2.35"/><circle cx="377.0" cy="589.6" r="2.35"/><circle cx="373.4" cy="588.2" r="2.35"/><circle cx="369.0" cy="587.4" r="2.35"/><circle cx="370.4" cy="591.1" r="2.35"/><circle cx="366.1" cy="589.6" r="2.35"/><circle cx="364.6" cy="591.8" r="2.35"/><circle cx="367.5" cy="594.0" r="2.35"/><circle cx="371.9" cy="595.5" r="2.35"/><circle cx="373.4" cy="597.7" r="2.35"/><circle cx="363.1" cy="595.5" r="2.35"/><circle cx="358.8" cy="596.9" r="2.35"/><circle cx="354.4" cy="595.5" r="2.35"/><circle cx="352.9" cy="599.9" r="2.35"/><circle cx="399.2" cy="586.0" r="2.35"/><circle cx="386.9" cy="594.7" r="2.35"/></g>
<path d="M280.2 663 L293.53 652.9 L306.86 642.7 L320.19 632.3 L333.52 621.7 L346.85 610.8 L360.18 599.7 L373.51 588.3 L386.84 576.7 L400.17 565 L413.5 553.2 L413.5 561.2 L400.17 571.4 L386.84 581.7 L373.51 592.1 L360.18 602.7 L346.85 613.6 L333.52 624.7 L320.19 636.1 L306.86 647.7 L293.53 659.5 L280.2 671.4Z" fill="#2ca02c" fill-opacity="0.2"/>
<line x1="280.2" y1="667.2" x2="413.5" y2="557.2" stroke="#2e9a2e" stroke-width="1.75"/>
<line x1="278.9" y1="680.8" x2="452.6" y2="505.3" stroke="#ff0000" stroke-width="1.25" stroke-dasharray="3.9,1.8" clip-path="url(#clipf)"/>
<line x1="278.9" y1="680.8" x2="278.9" y2="684" stroke="#444" stroke-width="0.9"/>
<line x1="275.7" y1="680.8" x2="278.9" y2="680.8" stroke="#444" stroke-width="0.9"/>
<text x="278.9" y="692.1" font-size="8" text-anchor="middle" font-weight="normal" fill="#222">0</text>
<line x1="313.64" y1="680.8" x2="313.64" y2="684" stroke="#444" stroke-width="0.9"/>
<line x1="275.7" y1="645.7" x2="278.9" y2="645.7" stroke="#444" stroke-width="0.9"/>
<text x="313.64" y="692.1" font-size="8" text-anchor="middle" font-weight="normal" fill="#222">20</text>
<line x1="348.38" y1="680.8" x2="348.38" y2="684" stroke="#444" stroke-width="0.9"/>
<line x1="275.7" y1="610.6" x2="278.9" y2="610.6" stroke="#444" stroke-width="0.9"/>
<text x="348.38" y="692.1" font-size="8" text-anchor="middle" font-weight="normal" fill="#222">40</text>
<line x1="383.12" y1="680.8" x2="383.12" y2="684" stroke="#444" stroke-width="0.9"/>
<line x1="275.7" y1="575.5" x2="278.9" y2="575.5" stroke="#444" stroke-width="0.9"/>
<text x="383.12" y="692.1" font-size="8" text-anchor="middle" font-weight="normal" fill="#222">60</text>
<line x1="417.86" y1="680.8" x2="417.86" y2="684" stroke="#444" stroke-width="0.9"/>
<line x1="275.7" y1="540.4" x2="278.9" y2="540.4" stroke="#444" stroke-width="0.9"/>
<text x="417.86" y="692.1" font-size="8" text-anchor="middle" font-weight="normal" fill="#222">80</text>
<line x1="452.6" y1="680.8" x2="452.6" y2="684" stroke="#444" stroke-width="0.9"/>
<line x1="275.7" y1="505.3" x2="278.9" y2="505.3" stroke="#444" stroke-width="0.9"/>
<text x="452.6" y="692.1" font-size="8" text-anchor="middle" font-weight="normal" fill="#222">100</text>
<line x1="278.9" y1="504.9" x2="278.9" y2="681.25" stroke="#444" stroke-width="0.95"/>
<line x1="278.45" y1="680.8" x2="453" y2="680.8" stroke="#444" stroke-width="0.95"/>
<text x="361.4" y="702.7" font-size="8.9" text-anchor="middle" font-weight="normal" fill="#111">Chronological age (years)</text>
<rect x="284.7" y="511.4" width="54.9" height="26" rx="2.3" fill="#fff" fill-opacity="0.8" stroke="#8c8c8c" stroke-width="0.8"/>
<text y="521" font-size="8.9" fill="#111"><tspan x="287.6" font-style="italic">R</tspan><tspan x="295.2" dy="-2.6" font-size="6.5">2</tspan><tspan x="299.5" dy="2.6">: 0.90</tspan></text>
<text x="287.4" y="531.6" font-size="8.9" text-anchor="start" font-weight="normal" fill="#111">MAE: 3.34</text>
<g opacity="0.64" clip-path="url(#cliph)">
<path d="M487.7 672.7L489.8 672.7L491.1 672.6L492.4 672.5L493.7 672.5L495.0 672.4L496.3 672.2L497.6 672.1L498.9 672.0L500.1 671.8L501.4 671.7L502.7 671.5L504.0 671.3L505.3 671.1L506.6 670.9L507.9 670.7L509.2 670.5L510.5 670.2L511.8 669.9L513.0 669.7L514.3 669.4L515.6 669.0L516.9 668.7L518.2 668.3L519.5 668.0L520.8 667.6L522.1 667.2L523.4 666.7L524.7 666.3L526.0 665.8L527.2 665.4L528.5 664.9L529.8 664.4L531.1 663.9L532.2 663.5L533.7 663.0L535.0 662.5L536.3 662.1L537.6 661.7L538.9 661.3L540.1 660.9L541.4 660.5L542.7 660.2L544.0 659.9L545.3 659.6L546.6 659.3L547.9 659.1L549.2 658.8L550.5 658.6L551.8 658.3L553.0 658.1L554.3 657.8L555.6 657.5L556.9 657.2L558.2 656.8L559.5 656.5L560.8 656.1L562.1 655.7L563.4 655.2L564.7 654.8L566.0 654.3L567.2 653.9L568.5 653.4L569.8 652.9L571.1 652.4L572.4 651.9L573.7 651.4L575.0 650.8L576.3 650.3L577.6 649.8L578.9 649.3L580.1 648.8L581.4 648.3L582.6 647.8L584.0 647.3L585.3 646.8L586.6 646.3L587.9 645.8L589.1 645.3L590.5 644.8L591.8 644.3L593.0 643.8L594.3 643.2L595.6 642.6L596.8 642.0L598.2 641.3L599.5 640.6L600.8 639.8L602.1 638.9L603.4 638.0L604.7 637.1L605.7 636.2L606.7 635.4L607.6 634.6L608.5 633.7L609.8 632.4L610.8 631.3L612.1 629.6L613.1 627.9L613.7 626.9L614.3 625.5L614.8 623.8L615.2 622.2L615.7 620.5L616.3 618.8L617.0 617.2L618.0 615.5L618.9 614.3L619.8 613.1L621.3 611.4L622.7 610.1L624.0 608.9L625.0 608.1L626.0 607.3L627.1 606.4L628.2 605.6L629.4 604.8L630.5 604.0L631.8 603.1L633.0 602.3L634.2 601.5L635.5 600.6L636.8 599.8L638.0 599.0L639.3 598.2L640.6 597.3L641.9 596.5L643.1 595.7L644.4 594.9L645.6 594.0L646.8 593.2L648.1 592.4L649.3 591.5L650.4 590.7L651.6 589.9L652.7 589.1L653.8 588.2L654.9 587.4L656.0 586.6L657.1 585.8L658.1 584.9L659.1 584.1L660.1 583.3L661.1 582.4L662.0 581.6L662.9 580.8L663.8 580.0L665.3 578.5L666.3 577.5L667.8 575.8L669.2 574.2L670.4 572.5L671.5 570.9L672.4 569.2L673.0 567.6L673.6 565.9L673.8 564.2L673.8 562.6L673.4 560.9L672.8 559.3L671.9 557.6L670.8 556.0L669.3 554.3L668.3 553.5L667.2 552.7L665.6 551.8L664.0 551.3L662.7 551.0L661.4 550.8L660.1 550.8L658.9 550.7L657.6 550.8L656.3 550.9L655.0 551.1L653.7 551.3L652.4 551.6L651.1 551.9L649.8 552.2L648.5 552.5L647.2 552.9L645.9 553.3L644.7 553.7L643.4 554.1L642.1 554.6L640.8 555.0L639.5 555.5L638.2 556.0L636.9 556.4L635.6 556.9L634.3 557.3L633.0 557.8L631.8 558.2L630.5 558.6L629.2 558.9L627.9 559.3L626.6 559.5L625.3 559.8L624.0 559.9L622.7 560.0L621.4 559.9L620.1 559.8L618.9 559.5L617.6 559.1L616.3 558.6L615.0 558.0L613.7 557.4L612.4 556.9L611.1 556.4L609.8 556.0L608.5 555.6L607.2 555.4L606.0 555.1L604.7 554.9L603.4 554.8L602.1 554.8L600.8 554.7L599.5 554.7L598.2 554.8L596.9 554.9L595.6 555.0L594.3 555.2L593.0 555.4L591.8 555.6L590.5 555.8L589.2 556.1L587.9 556.4L586.6 556.7L585.3 557.0L584.0 557.4L582.7 557.8L581.4 558.2L580.1 558.6L578.9 559.0L577.6 559.4L576.3 559.9L575.0 560.4L573.7 560.9L572.4 561.4L571.1 561.9L569.8 562.4L568.5 563.0L567.2 563.5L566.0 564.1L564.7 564.7L563.4 565.4L562.3 565.9L560.8 566.7L559.5 567.3L558.2 568.0L556.9 568.7L555.6 569.5L554.3 570.3L553.0 571.0L552.0 571.7L550.7 572.5L549.5 573.3L548.2 574.2L547.1 575.0L545.9 575.8L544.8 576.6L543.6 577.5L542.6 578.3L541.5 579.1L540.4 580.0L539.4 580.8L538.4 581.6L537.4 582.4L536.4 583.3L535.5 584.1L534.5 584.9L533.6 585.8L532.7 586.6L531.8 587.4L530.9 588.2L530.0 589.1L529.1 589.9L527.4 591.5L526.0 593.0L525.0 594.0L523.4 595.7L522.1 597.2L521.2 598.2L519.8 599.8L518.5 601.5L517.2 603.1L515.9 604.8L514.6 606.4L513.3 608.1L512.0 609.7L510.5 611.4L509.2 612.7L507.9 613.9L507.0 614.7L505.9 615.5L504.9 616.4L503.7 617.2L502.7 617.9L501.4 618.8L500.2 619.7L498.9 620.5L497.7 621.3L496.4 622.2L495.2 623.0L494.0 623.8L492.8 624.6L491.7 625.5L490.6 626.3L489.5 627.1L488.5 627.9L487.7 629.0L487.7 630.4L487.7 632.1L487.7 633.7L487.7 635.4L487.7 637.0L487.7 638.7L487.7 640.4L487.7 641.7L487.7 643.7L487.7 645.3L487.7 647.0L487.7 648.6L487.7 650.3L487.7 651.9L487.7 653.6L487.7 655.2L487.7 656.9L487.7 658.6L487.7 660.2L487.7 661.9L487.7 663.5L487.7 665.2L487.7 666.5L487.7 668.5L487.7 669.9L487.7 671.3L487.7 672.6Z" fill="#e8f1fa" fill-rule="evenodd"/>
<path d="M491.1 666.1L492.4 666.2L493.7 666.2L495.0 666.2L496.3 666.2L497.6 666.1L498.9 666.0L500.1 665.9L501.4 665.8L502.7 665.6L504.0 665.5L505.3 665.3L506.6 665.1L507.9 664.8L509.2 664.6L510.4 664.4L511.8 664.1L513.0 663.8L514.3 663.4L515.6 663.1L516.9 662.8L518.2 662.4L519.5 662.0L520.8 661.6L522.1 661.1L523.4 660.7L524.6 660.2L526.0 659.7L527.2 659.2L528.5 658.7L529.8 658.1L531.1 657.6L532.4 657.0L533.7 656.4L535.0 655.9L536.3 655.3L537.6 654.7L538.9 654.1L540.0 653.6L541.4 653.0L542.7 652.4L543.9 651.9L545.3 651.4L546.6 650.9L547.9 650.5L549.2 650.1L550.5 649.8L551.8 649.5L553.0 649.2L554.3 649.0L555.6 648.8L556.9 648.6L558.2 648.4L559.5 648.2L560.8 647.9L562.1 647.6L563.4 647.3L564.7 647.0L566.0 646.6L567.2 646.2L568.5 645.8L569.8 645.3L571.1 644.8L572.4 644.3L573.7 643.7L575.0 643.1L576.3 642.5L577.6 641.8L578.8 641.2L580.1 640.5L581.4 639.7L582.7 639.0L584.0 638.2L585.3 637.4L586.6 636.5L587.9 635.6L589.2 634.7L590.4 633.7L591.4 632.9L592.4 632.1L593.4 631.3L594.3 630.4L595.6 629.1L596.7 627.9L598.2 626.3L599.5 624.7L600.8 623.1L602.1 621.3L603.3 619.7L604.5 618.0L605.7 616.4L607.0 614.7L608.5 613.1L609.8 611.7L611.0 610.6L612.0 609.7L613.0 608.9L614.1 608.1L615.2 607.3L616.3 606.5L617.6 605.7L618.9 604.9L620.1 604.1L621.4 603.3L622.7 602.5L624.0 601.8L625.3 601.1L626.6 600.3L627.9 599.6L629.2 598.8L630.3 598.2L631.7 597.3L633.0 596.6L634.3 595.8L635.6 595.0L636.9 594.2L638.2 593.4L639.5 592.6L640.8 591.8L642.1 590.9L643.4 590.1L644.7 589.2L645.9 588.3L647.1 587.4L648.2 586.6L649.3 585.8L650.3 584.9L651.4 584.1L652.3 583.3L653.3 582.4L654.2 581.6L655.9 580.0L657.4 578.3L658.8 576.6L659.9 575.0L660.9 573.3L661.4 572.1L661.9 570.9L662.1 569.2L662.1 567.5L661.7 565.9L660.9 564.2L660.1 563.1L658.9 561.8L657.9 560.9L656.5 560.1L655.0 559.5L653.7 559.2L652.4 559.0L651.1 559.0L649.8 559.0L648.5 559.1L647.2 559.3L645.9 559.5L644.7 559.8L643.4 560.1L642.1 560.4L640.8 560.8L639.5 561.1L638.2 561.6L636.9 562.0L635.6 562.4L634.3 562.9L633.0 563.3L631.8 563.7L630.5 564.2L629.2 564.6L627.9 565.1L626.6 565.5L625.3 565.9L624.0 566.2L622.7 566.6L621.4 566.9L620.1 567.1L618.9 567.3L617.6 567.5L616.3 567.5L615.0 567.5L613.7 567.4L612.4 567.2L611.1 566.9L609.8 566.5L608.5 566.0L607.2 565.5L605.9 564.9L604.7 564.4L603.4 564.0L602.1 563.6L600.8 563.3L599.5 563.0L598.2 562.9L596.9 562.7L595.6 562.7L594.3 562.7L593.0 562.7L591.8 562.8L590.5 562.9L589.2 563.0L587.9 563.2L586.7 563.4L585.3 563.7L584.0 563.9L582.8 564.2L581.4 564.6L580.1 564.9L578.9 565.3L577.6 565.7L576.3 566.1L575.0 566.6L573.7 567.0L572.4 567.5L571.1 568.0L569.8 568.6L568.5 569.1L567.2 569.7L566.0 570.3L564.8 570.9L563.4 571.5L562.1 572.2L560.8 572.9L559.5 573.6L558.2 574.3L557.0 575.0L555.7 575.8L554.3 576.6L553.1 577.5L551.8 578.3L550.6 579.1L549.4 580.0L548.3 580.8L547.1 581.6L546.0 582.4L545.0 583.3L544.0 584.0L542.9 584.9L541.9 585.8L540.9 586.6L540.0 587.4L539.0 588.2L538.1 589.1L537.2 589.9L536.3 590.7L535.0 592.0L533.8 593.2L532.4 594.7L531.5 595.7L530.1 597.3L528.7 599.0L527.5 600.6L526.3 602.3L525.3 604.0L524.7 605.0L523.9 606.4L523.0 608.1L522.2 609.7L521.3 611.4L520.4 613.1L519.5 614.5L518.7 615.5L517.2 617.2L516.3 618.0L515.3 618.8L514.1 619.7L513.0 620.4L511.8 621.2L510.5 622.0L509.2 622.7L507.9 623.4L506.6 624.2L505.3 624.9L504.0 625.7L502.7 626.5L501.4 627.3L500.1 628.2L498.9 629.1L497.6 630.1L496.3 631.1L495.2 632.1L494.3 632.9L492.6 634.6L491.1 636.2L489.8 637.8L488.6 639.5L487.7 641.2L487.7 642.8L487.7 644.5L487.7 646.1L487.7 647.8L487.7 649.5L487.7 651.1L487.7 652.8L487.7 654.4L487.7 656.1L487.7 657.7L487.7 659.4L487.7 661.0L487.7 662.7L487.7 664.2L488.5 665.7L489.8 665.9ZM552.2 622.2L550.5 621.9L549.2 621.6L547.9 620.6L549.2 619.1L550.5 618.5L551.8 618.0L553.0 617.7L554.3 617.5L555.6 617.3L556.9 617.2L558.2 617.3L559.5 617.5L560.8 617.8L562.1 618.3L563.4 619.3L563.4 620.7L562.1 621.6L560.8 621.9L559.6 622.2L558.2 622.3L556.9 622.3L555.6 622.3L554.3 622.3L553.0 622.2Z" fill="#d1e2f3" fill-rule="evenodd"/>
<path d="M495.0 663.5L496.3 663.6L497.6 663.6L498.9 663.6L500.1 663.5L501.4 663.5L502.7 663.3L504.0 663.2L505.3 663.0L506.6 662.8L507.9 662.6L509.2 662.4L510.5 662.1L511.7 661.9L513.0 661.6L514.3 661.2L515.6 660.9L516.9 660.6L518.2 660.2L519.5 659.8L520.7 659.4L522.1 658.9L523.4 658.4L524.7 658.0L526.0 657.4L527.2 656.9L528.5 656.4L529.8 655.8L531.0 655.2L532.4 654.6L533.7 654.0L535.0 653.4L536.2 652.8L537.6 652.1L538.9 651.4L540.1 650.7L541.4 650.1L542.6 649.5L544.0 648.7L545.3 648.1L546.6 647.4L547.9 646.8L549.2 646.2L550.5 645.7L551.8 645.2L553.0 644.8L554.3 644.4L555.6 644.2L556.9 644.0L558.2 643.8L559.5 643.7L560.8 643.6L562.1 643.5L563.4 643.3L564.7 643.1L566.0 642.9L567.2 642.6L568.5 642.2L569.8 641.8L571.1 641.4L572.4 640.9L573.7 640.4L575.0 639.8L576.3 639.2L577.6 638.5L578.7 637.9L580.1 637.1L581.4 636.3L582.7 635.4L584.0 634.6L585.1 633.7L586.2 632.9L587.3 632.1L588.2 631.3L589.2 630.4L590.0 629.6L591.7 627.9L593.0 626.4L593.8 625.5L595.1 623.8L596.2 622.2L596.9 621.1L597.8 619.7L598.7 618.0L599.5 616.5L600.5 614.7L601.6 613.1L603.0 611.4L603.9 610.6L604.9 609.7L605.9 609.0L607.2 608.1L608.5 607.3L609.8 606.5L611.1 605.7L612.4 605.0L613.7 604.3L615.0 603.7L616.3 603.0L617.6 602.3L618.9 601.7L620.1 601.1L621.4 600.4L622.6 599.8L624.0 599.1L625.3 598.4L626.6 597.8L627.9 597.1L628.9 596.5L630.5 595.7L631.8 595.0L633.0 594.2L634.3 593.5L635.6 592.7L636.9 591.9L638.2 591.1L639.5 590.3L640.8 589.5L642.1 588.6L643.4 587.7L644.7 586.7L645.9 585.8L647.0 584.9L648.0 584.1L649.0 583.3L649.9 582.4L650.8 581.6L652.4 580.0L653.7 578.5L654.5 577.5L655.6 575.8L656.3 574.5L656.8 573.3L657.2 571.7L657.2 570.0L656.9 568.4L656.3 567.0L655.5 565.9L653.8 564.2L652.4 563.4L651.1 562.9L649.8 562.6L648.5 562.5L647.2 562.4L645.9 562.5L644.7 562.6L643.4 562.8L642.1 563.0L640.8 563.3L639.5 563.6L638.2 564.0L636.9 564.4L635.6 564.8L634.3 565.2L633.0 565.6L631.8 566.0L630.5 566.5L629.2 566.9L627.9 567.3L626.6 567.8L625.3 568.2L624.0 568.6L622.7 568.9L621.4 569.3L620.1 569.6L618.9 569.9L617.6 570.1L616.3 570.3L615.0 570.5L613.7 570.5L612.4 570.5L611.1 570.4L609.8 570.2L608.5 569.9L607.2 569.5L605.9 569.0L604.7 568.5L603.4 567.9L602.1 567.4L600.8 567.0L599.5 566.6L598.2 566.3L596.9 566.1L595.6 565.9L594.3 565.8L593.0 565.7L591.8 565.7L590.5 565.7L589.2 565.8L587.9 566.0L586.6 566.1L585.3 566.3L584.0 566.6L582.7 566.9L581.4 567.1L580.1 567.5L578.9 567.8L577.6 568.2L576.3 568.6L575.0 569.1L573.7 569.5L572.4 570.0L571.1 570.5L569.8 571.0L568.5 571.6L567.2 572.1L566.0 572.7L564.7 573.3L563.4 574.0L562.1 574.7L560.8 575.4L559.5 576.1L558.2 576.8L557.1 577.5L555.8 578.3L554.5 579.1L553.2 580.0L552.0 580.8L550.8 581.6L549.7 582.4L548.5 583.3L547.4 584.1L546.4 584.9L545.3 585.8L544.3 586.6L543.3 587.4L542.4 588.2L541.4 589.1L540.5 589.9L539.6 590.7L537.9 592.4L536.3 594.0L535.0 595.4L534.1 596.5L532.7 598.2L531.5 599.8L530.4 601.5L529.4 603.1L528.6 604.8L527.9 606.4L527.3 608.1L526.9 609.7L526.7 611.4L526.6 613.1L526.8 614.7L527.2 616.4L528.5 618.0L529.8 618.4L531.1 618.4L532.4 618.2L533.7 618.0L535.0 617.7L536.3 617.4L537.6 617.1L538.9 616.8L540.1 616.4L541.4 616.1L542.7 615.8L544.0 615.4L545.3 615.1L546.6 614.8L547.9 614.4L549.2 614.1L550.5 613.8L551.8 613.5L553.0 613.3L554.3 613.0L555.6 612.8L556.9 612.6L558.2 612.4L559.4 612.2L560.8 612.1L562.1 612.1L563.4 612.0L564.7 612.1L566.0 612.2L567.2 612.3L568.5 612.5L569.8 612.7L571.1 613.0L572.4 613.2L573.7 613.5L575.0 613.7L576.3 613.9L577.6 614.2L578.9 614.5L580.1 615.0L581.4 616.3L580.8 618.0L579.3 619.7L578.4 620.5L577.4 621.3L576.3 622.2L575.2 623.0L574.1 623.8L572.9 624.6L571.6 625.5L570.3 626.3L568.9 627.1L567.4 627.9L566.0 628.7L564.7 629.2L563.4 629.7L562.1 630.0L560.8 630.2L559.5 630.2L558.2 630.0L556.9 629.8L555.6 629.4L554.3 629.0L553.0 628.6L551.8 628.3L550.5 628.0L549.2 627.7L547.9 627.5L546.6 627.4L545.3 627.2L544.0 627.0L542.7 626.9L541.4 626.7L540.1 626.5L538.9 626.3L537.6 626.1L536.3 625.7L535.0 625.4L533.7 624.9L532.4 624.3L531.3 623.8L529.8 623.0L528.5 622.2L527.2 621.7L526.0 621.6L524.7 621.7L523.4 621.9L522.1 622.2L520.8 622.6L519.5 623.0L518.2 623.4L517.0 623.8L515.6 624.3L514.3 624.8L513.0 625.3L511.8 625.8L510.5 626.4L509.2 627.0L507.9 627.6L506.6 628.3L505.3 629.0L504.0 629.8L503.0 630.4L501.7 631.3L500.6 632.1L499.5 632.9L498.5 633.7L497.6 634.6L496.7 635.4L495.1 637.0L493.7 638.7L492.4 640.3L491.2 642.0L490.2 643.7L489.2 645.3L488.5 646.7L488.0 647.8L487.7 649.5L487.7 651.1L487.7 652.8L487.7 654.4L487.7 656.1L487.7 657.7L487.7 659.4L487.7 660.7L488.5 661.7L489.8 662.4L491.1 662.9L492.4 663.2L493.7 663.4L495.0 663.5Z" fill="#bfd8ed" fill-rule="evenodd"/>
<path d="M493.7 661.2L495.0 661.5L496.3 661.7L497.6 661.8L498.9 661.9L500.1 661.9L501.4 661.8L502.7 661.7L504.0 661.6L505.3 661.5L506.6 661.3L507.9 661.1L509.2 660.9L510.5 660.7L511.8 660.4L513.0 660.1L514.3 659.8L515.6 659.5L516.9 659.1L518.2 658.7L519.5 658.3L520.8 657.9L522.1 657.4L523.4 657.0L524.7 656.5L526.0 655.9L527.2 655.4L528.5 654.8L529.8 654.2L531.1 653.6L532.4 653.0L533.7 652.3L535.0 651.7L536.3 651.0L537.5 650.3L538.9 649.5L540.1 648.8L541.4 648.0L542.7 647.2L544.0 646.4L545.3 645.6L546.6 644.8L547.9 643.9L549.2 643.0L550.5 642.1L551.7 641.2L552.8 640.4L553.7 639.5L554.9 637.9L554.9 636.2L554.3 635.1L553.2 633.7L552.3 632.9L551.1 632.1L549.4 631.3L547.9 630.7L546.6 630.3L545.3 630.0L544.0 629.8L542.7 629.6L541.4 629.4L540.1 629.3L538.9 629.1L537.6 629.0L536.3 628.8L535.0 628.6L533.7 628.4L532.4 628.2L531.1 628.0L529.8 627.8L528.5 627.6L527.2 627.3L526.0 627.2L524.7 627.0L523.4 626.9L522.1 626.9L520.8 626.9L519.5 627.0L518.2 627.2L516.9 627.4L515.6 627.7L514.3 628.0L513.0 628.4L511.8 628.8L510.5 629.3L509.2 629.9L508.0 630.4L506.6 631.1L505.3 631.9L504.0 632.6L502.7 633.5L501.4 634.5L500.3 635.4L499.3 636.2L498.4 637.0L496.8 638.7L495.4 640.4L494.1 642.0L492.9 643.7L491.9 645.3L491.1 646.8L490.2 648.6L489.5 650.3L489.0 651.9L488.7 653.6L488.5 655.2L488.8 656.9L489.5 658.6L491.1 660.1L492.4 660.8ZM566.0 638.8L567.2 638.9L568.5 638.8L569.8 638.6L571.1 638.3L572.4 637.9L573.7 637.4L575.0 636.9L576.3 636.3L577.6 635.7L578.9 634.9L580.1 634.1L581.4 633.3L582.7 632.3L584.0 631.3L585.1 630.4L585.9 629.6L587.5 627.9L588.9 626.3L589.9 624.6L590.5 623.5L590.8 622.2L590.5 620.5L589.2 620.1L587.9 620.2L586.6 620.6L585.3 621.1L584.0 621.7L582.7 622.4L581.6 623.0L580.2 623.8L578.9 624.6L577.6 625.4L576.3 626.3L575.0 627.1L573.8 627.9L572.5 628.8L571.4 629.6L570.2 630.4L569.0 631.3L567.9 632.1L566.9 632.9L565.8 633.7L564.9 634.6L563.6 636.2L563.8 637.9L565.5 638.7ZM533.7 613.3L535.0 613.6L536.3 613.8L537.6 613.8L538.9 613.8L540.1 613.7L541.4 613.5L542.7 613.4L544.0 613.1L545.3 612.9L546.6 612.7L547.9 612.4L549.2 612.1L550.5 611.9L551.8 611.6L553.0 611.3L554.3 611.1L555.6 610.8L556.9 610.6L558.2 610.4L559.5 610.2L560.8 610.0L562.1 609.8L563.4 609.7L564.7 609.7L566.0 609.6L567.2 609.6L568.5 609.7L569.8 609.8L571.1 609.9L572.4 610.1L573.7 610.2L575.0 610.4L576.3 610.5L577.6 610.6L578.9 610.7L580.1 610.8L581.4 610.8L582.7 610.8L584.0 610.8L585.3 610.7L586.6 610.6L587.9 610.5L589.2 610.3L590.5 610.1L591.8 609.9L593.0 609.6L594.3 609.3L595.5 608.9L596.9 608.5L598.2 608.0L599.5 607.6L600.8 607.1L602.1 606.6L603.4 606.0L604.7 605.5L605.9 605.0L607.2 604.4L608.4 604.0L609.8 603.4L611.1 602.8L612.4 602.3L613.7 601.8L615.0 601.2L616.3 600.7L617.6 600.1L618.9 599.6L620.1 599.0L621.4 598.4L622.7 597.8L624.0 597.2L625.3 596.6L626.6 596.0L627.9 595.3L629.2 594.7L630.4 594.0L631.8 593.3L633.0 592.6L634.3 591.8L635.6 591.1L636.9 590.3L638.2 589.5L639.5 588.6L640.8 587.7L642.1 586.8L643.4 585.9L644.6 584.9L645.6 584.1L646.5 583.3L647.5 582.4L648.5 581.4L649.8 580.1L650.6 579.1L651.8 577.5L652.8 575.8L653.5 574.2L653.8 572.5L653.7 570.9L653.2 569.2L652.4 568.0L651.1 566.7L649.8 565.9L648.5 565.4L647.3 565.1L645.9 564.9L644.7 564.9L643.4 564.9L642.1 565.0L640.8 565.2L639.5 565.5L638.2 565.8L636.9 566.1L635.6 566.5L634.3 566.8L633.0 567.2L631.8 567.6L630.5 568.1L629.2 568.5L627.9 568.9L626.6 569.3L625.3 569.8L624.0 570.2L622.7 570.5L621.4 570.9L620.1 571.3L618.9 571.6L617.6 571.9L616.3 572.1L615.0 572.3L613.7 572.5L612.4 572.5L611.1 572.5L609.8 572.4L608.5 572.3L607.2 572.0L605.9 571.6L604.7 571.1L603.4 570.6L602.1 570.1L600.8 569.5L599.5 569.1L598.2 568.7L596.9 568.3L595.6 568.1L594.3 567.9L593.0 567.8L591.8 567.7L590.5 567.7L589.2 567.7L587.9 567.8L586.6 567.9L585.3 568.1L584.0 568.3L582.7 568.6L581.4 568.8L580.1 569.2L578.9 569.5L577.6 569.9L576.3 570.3L575.0 570.7L573.7 571.1L572.4 571.6L571.1 572.1L569.8 572.6L568.5 573.2L567.2 573.8L566.0 574.4L564.7 575.0L563.4 575.6L562.1 576.3L560.8 577.0L559.5 577.7L558.2 578.5L557.2 579.1L555.8 580.0L554.6 580.8L553.3 581.6L552.1 582.4L550.9 583.3L549.8 584.1L548.7 584.9L547.6 585.8L546.6 586.6L545.6 587.4L544.6 588.2L543.7 589.1L542.7 589.9L541.8 590.7L540.9 591.5L539.3 593.2L537.7 594.9L536.3 596.5L535.0 598.2L533.8 599.8L532.8 601.5L531.9 603.1L531.3 604.8L530.8 606.4L530.6 608.1L530.7 609.7L531.1 611.1L532.0 612.2L533.2 613.1Z" fill="#a8cee4" fill-rule="evenodd"/>
<path d="M497.6 659.4L498.9 659.7L500.1 659.8L501.4 659.8L502.7 659.8L504.0 659.8L505.3 659.7L506.6 659.5L507.9 659.4L509.2 659.2L510.5 658.9L511.8 658.7L513.0 658.4L514.3 658.1L515.6 657.8L516.9 657.4L518.2 657.0L519.5 656.6L520.8 656.2L522.1 655.7L523.4 655.2L524.7 654.7L526.0 654.2L527.2 653.6L528.5 653.0L529.8 652.4L531.1 651.8L532.4 651.1L533.7 650.4L535.0 649.6L536.3 648.9L537.6 648.1L538.9 647.2L540.1 646.3L541.4 645.4L542.5 644.5L543.5 643.7L544.4 642.8L545.3 641.9L546.5 640.4L547.3 638.7L547.5 637.0L546.9 635.4L545.3 634.0L544.0 633.3L542.7 632.8L541.4 632.5L540.1 632.2L538.9 632.0L537.6 631.8L536.3 631.7L535.0 631.5L533.7 631.4L532.4 631.3L531.1 631.1L529.8 631.0L528.5 630.9L527.2 630.7L526.0 630.6L524.7 630.6L523.4 630.5L522.1 630.5L520.8 630.5L519.5 630.6L518.2 630.7L516.9 630.9L515.6 631.1L514.3 631.4L513.0 631.7L511.8 632.1L510.5 632.6L509.2 633.1L507.9 633.7L506.6 634.4L505.3 635.2L504.0 636.0L502.7 637.0L501.6 637.9L500.7 638.7L499.8 639.5L498.9 640.5L497.6 641.9L496.3 643.6L495.1 645.3L494.1 647.0L493.2 648.6L492.6 650.3L492.1 651.9L491.9 653.6L492.1 655.2L492.9 656.9L494.9 658.6L496.3 659.1ZM540.1 610.7L541.4 610.8L542.7 610.8L544.0 610.7L545.3 610.6L546.6 610.5L547.9 610.3L549.2 610.1L550.5 609.9L551.8 609.6L553.0 609.4L554.3 609.1L555.6 608.9L556.9 608.6L558.2 608.4L559.5 608.2L560.8 607.9L562.1 607.7L563.4 607.5L564.7 607.4L566.0 607.2L567.2 607.1L568.5 607.1L569.8 607.0L571.1 607.0L572.4 607.0L573.7 607.1L575.0 607.2L576.3 607.3L577.6 607.4L578.9 607.5L580.1 607.5L581.4 607.6L582.7 607.5L584.0 607.5L585.3 607.3L586.6 607.2L587.9 607.0L589.2 606.8L590.5 606.5L591.8 606.2L593.0 605.9L594.3 605.5L595.6 605.2L596.9 604.8L598.2 604.4L599.4 604.0L600.8 603.5L602.1 603.0L603.4 602.6L604.7 602.1L605.9 601.7L607.2 601.2L608.5 600.7L609.8 600.3L611.1 599.8L612.4 599.4L613.7 598.9L615.0 598.5L616.3 598.0L617.6 597.5L618.9 597.1L620.1 596.6L621.4 596.1L622.7 595.5L624.0 595.0L625.3 594.4L626.6 593.8L627.9 593.2L629.2 592.6L630.5 591.9L631.8 591.2L633.0 590.5L634.1 589.9L635.5 589.1L636.8 588.2L638.1 587.4L639.3 586.6L640.4 585.8L641.5 584.9L642.5 584.1L643.5 583.3L644.4 582.4L645.9 580.9L647.2 579.3L647.9 578.3L648.8 576.6L649.4 575.0L649.5 573.3L649.1 571.7L648.5 570.6L647.2 569.3L645.9 568.6L644.7 568.1L643.4 567.9L642.1 567.8L640.8 567.8L639.5 567.9L638.2 568.1L636.9 568.3L635.6 568.6L634.3 568.9L633.0 569.3L631.8 569.7L630.5 570.0L629.2 570.4L627.9 570.8L626.6 571.3L625.3 571.7L624.0 572.1L622.7 572.5L621.4 572.8L620.1 573.2L618.9 573.6L617.6 573.9L616.3 574.2L615.0 574.4L613.7 574.6L612.4 574.8L611.1 574.9L609.8 574.9L608.5 574.9L607.2 574.7L605.9 574.5L604.7 574.1L603.4 573.7L602.1 573.2L600.8 572.6L599.5 572.0L598.2 571.5L596.9 571.1L595.6 570.7L594.3 570.4L593.0 570.2L591.8 570.0L590.5 569.9L589.2 569.9L587.9 569.9L586.6 570.0L585.3 570.1L584.0 570.3L582.7 570.5L581.4 570.8L580.1 571.1L578.9 571.4L577.6 571.7L576.3 572.1L575.0 572.5L573.7 573.0L572.4 573.4L571.1 573.9L569.8 574.5L568.6 575.0L567.2 575.6L566.0 576.2L564.7 576.8L563.4 577.5L562.1 578.2L560.8 578.9L559.5 579.6L558.2 580.4L556.9 581.2L555.6 582.0L554.3 582.9L553.0 583.8L551.8 584.7L550.5 585.7L549.3 586.6L548.2 587.4L547.2 588.2L546.2 589.1L545.3 589.9L544.4 590.7L543.5 591.5L541.8 593.2L540.3 594.9L538.9 596.5L537.6 598.2L536.6 599.8L535.7 601.5L535.0 603.1L534.6 604.8L534.5 606.4L535.0 608.1L536.3 609.5L537.6 610.2L538.9 610.6Z" fill="#85bcdc" fill-rule="evenodd"/>
<path d="M501.4 657.1L502.7 657.3L504.0 657.4L505.3 657.4L506.6 657.3L507.9 657.2L509.2 657.0L510.5 656.9L511.8 656.6L513.0 656.4L514.3 656.1L515.6 655.8L516.9 655.4L518.2 655.0L519.5 654.6L520.8 654.2L522.1 653.7L523.4 653.2L524.7 652.7L526.0 652.1L527.2 651.5L528.5 650.8L529.8 650.2L531.1 649.5L532.4 648.7L533.7 647.8L535.0 647.0L536.1 646.1L537.1 645.3L538.1 644.5L539.7 642.8L540.8 641.2L541.4 639.5L541.1 637.9L540.1 636.7L538.9 635.9L537.6 635.4L536.3 635.1L535.0 634.8L533.7 634.6L532.4 634.4L531.1 634.3L529.8 634.2L528.5 634.1L527.2 634.0L526.0 633.9L524.7 633.9L523.4 633.8L522.1 633.9L520.8 633.9L519.5 634.0L518.2 634.1L516.9 634.3L515.6 634.6L514.3 634.9L513.0 635.2L511.8 635.7L510.5 636.2L509.2 636.7L507.9 637.4L506.6 638.2L505.3 639.0L504.0 640.0L502.7 641.0L501.7 642.0L500.1 643.7L498.9 645.3L497.8 647.0L496.9 648.6L496.3 650.3L496.1 651.9L496.2 653.6L497.2 655.2L498.3 656.1L500.1 656.9ZM541.4 607.3L542.7 607.7L544.0 607.9L545.3 608.0L546.6 608.0L547.9 607.9L549.2 607.8L550.5 607.7L551.8 607.5L553.0 607.3L554.3 607.1L555.6 606.8L556.9 606.6L558.2 606.3L559.5 606.1L560.8 605.8L562.0 605.6L563.4 605.4L564.7 605.1L566.0 604.9L567.2 604.7L568.5 604.5L569.8 604.4L571.1 604.2L572.4 604.1L573.7 604.1L575.0 604.0L576.3 604.0L577.6 604.0L578.9 604.0L580.1 604.1L581.4 604.1L582.7 604.1L584.0 604.1L585.3 604.0L586.6 603.9L587.9 603.7L589.2 603.5L590.5 603.3L591.8 603.0L593.0 602.7L594.3 602.4L595.6 602.0L596.9 601.6L598.2 601.2L599.5 600.8L600.8 600.3L602.1 599.9L603.4 599.4L604.6 599.0L605.9 598.5L607.2 598.1L608.5 597.6L609.8 597.1L611.1 596.7L612.4 596.3L613.7 595.8L615.0 595.4L616.3 594.9L617.6 594.5L618.9 594.0L620.1 593.6L621.4 593.1L622.7 592.6L624.0 592.1L625.3 591.6L626.6 591.0L627.9 590.4L629.1 589.9L630.5 589.2L631.8 588.5L633.0 587.7L634.3 586.9L635.6 586.1L636.9 585.2L638.2 584.2L639.3 583.3L640.2 582.4L641.7 580.8L642.9 579.1L643.6 577.5L643.9 575.8L643.5 574.2L642.1 572.6L640.8 572.0L639.5 571.7L638.2 571.6L636.9 571.6L635.6 571.6L634.3 571.8L633.0 572.1L631.8 572.3L630.5 572.6L629.2 573.0L627.9 573.3L626.6 573.7L625.3 574.1L624.0 574.5L622.7 574.9L621.4 575.2L620.1 575.6L618.9 576.0L617.6 576.3L616.3 576.6L615.0 576.9L613.7 577.2L612.4 577.4L611.1 577.6L609.8 577.7L608.5 577.8L607.2 577.8L605.9 577.7L604.7 577.5L603.4 577.2L602.1 576.8L600.8 576.3L599.5 575.7L598.2 575.0L596.9 574.4L595.6 573.9L594.3 573.4L593.0 573.0L591.8 572.8L590.5 572.6L589.2 572.4L587.9 572.4L586.6 572.4L585.3 572.5L584.0 572.6L582.7 572.7L581.4 572.9L580.1 573.2L578.9 573.5L577.6 573.8L576.3 574.2L575.0 574.6L573.7 575.0L572.4 575.5L571.1 576.0L569.8 576.5L568.5 577.0L567.2 577.6L566.0 578.2L564.7 578.9L563.4 579.5L562.1 580.2L560.8 581.0L559.7 581.6L558.3 582.4L557.0 583.3L555.8 584.1L554.6 584.9L553.4 585.8L552.3 586.6L551.2 587.4L550.2 588.2L549.2 589.1L548.2 589.9L547.3 590.7L546.4 591.5L545.3 592.6L544.0 594.0L542.7 595.5L541.9 596.5L540.7 598.2L539.8 599.8L539.1 601.5L538.9 602.8L538.9 604.2L539.3 605.6L540.1 606.5L541.4 607.3Z" fill="#60a7d2" fill-rule="evenodd"/>
<path d="M504.0 654.5L505.3 654.8L506.6 654.9L507.9 654.9L509.2 654.8L510.5 654.7L511.8 654.5L513.0 654.3L514.3 654.0L515.6 653.7L516.9 653.4L518.2 653.0L519.5 652.6L520.8 652.1L522.1 651.6L523.3 651.1L524.7 650.5L526.0 649.9L527.2 649.2L528.5 648.5L529.6 647.8L530.8 647.0L531.9 646.1L532.9 645.3L534.5 643.7L535.5 642.0L535.6 640.4L535.0 639.2L533.7 638.3L532.4 637.8L531.1 637.5L529.8 637.2L528.5 637.1L527.2 636.9L526.0 636.8L524.7 636.8L523.4 636.8L522.1 636.8L520.8 636.9L519.5 637.0L518.2 637.1L516.9 637.3L515.6 637.6L514.3 637.9L513.0 638.3L511.8 638.8L510.5 639.4L509.2 640.0L507.9 640.8L506.6 641.7L505.3 642.7L504.2 643.7L502.7 645.3L501.6 647.0L500.8 648.6L500.3 650.3L500.5 651.9L501.4 653.3L502.7 654.1ZM545.3 605.0L546.6 605.3L547.9 605.5L549.2 605.5L550.5 605.5L551.8 605.4L553.0 605.3L554.3 605.1L555.6 604.9L556.9 604.7L558.2 604.5L559.5 604.3L560.8 604.0L562.1 603.7L563.4 603.5L564.7 603.2L566.0 603.0L567.2 602.7L568.5 602.5L569.8 602.2L571.1 602.0L572.4 601.8L573.7 601.6L575.0 601.4L576.3 601.3L577.6 601.2L578.9 601.1L580.1 601.0L581.4 600.9L582.7 600.8L584.0 600.8L585.3 600.7L586.6 600.6L587.9 600.5L589.2 600.4L590.5 600.2L591.8 600.0L593.0 599.7L594.3 599.4L595.6 599.1L596.9 598.7L598.2 598.3L599.5 597.9L600.8 597.5L602.1 597.0L603.4 596.6L604.7 596.1L605.8 595.7L607.2 595.1L608.5 594.7L609.8 594.2L611.1 593.7L612.4 593.2L613.7 592.8L615.0 592.3L616.3 591.8L617.6 591.4L618.9 590.9L620.1 590.4L621.4 589.9L622.7 589.4L624.0 588.9L625.3 588.4L626.6 587.8L627.9 587.2L629.0 586.6L630.4 585.8L631.7 584.9L632.9 584.1L633.9 583.3L634.8 582.4L635.6 581.5L636.6 580.0L636.9 578.3L635.9 576.6L634.3 576.0L633.0 575.8L631.8 575.8L630.5 575.9L629.2 576.1L627.9 576.3L626.6 576.6L625.3 576.9L624.0 577.2L622.7 577.6L621.4 577.9L620.1 578.3L618.9 578.6L617.6 578.9L616.3 579.3L615.0 579.6L613.7 579.9L612.4 580.1L611.1 580.3L609.8 580.5L608.5 580.7L607.2 580.8L605.9 580.8L604.7 580.7L603.4 580.6L602.1 580.3L600.8 579.9L599.5 579.4L598.2 578.7L596.9 578.0L595.6 577.2L594.5 576.6L593.0 576.0L591.8 575.5L590.5 575.2L589.2 574.9L587.9 574.7L586.6 574.6L585.3 574.6L584.0 574.7L582.7 574.8L581.4 574.9L580.1 575.2L578.9 575.4L577.6 575.7L576.3 576.1L575.0 576.4L573.7 576.9L572.4 577.3L571.1 577.8L569.8 578.3L568.5 578.9L567.2 579.4L566.0 580.1L564.7 580.7L563.4 581.4L562.1 582.1L560.8 582.9L559.5 583.6L558.2 584.5L556.9 585.3L555.6 586.2L554.3 587.2L553.0 588.2L551.9 589.1L551.0 589.9L550.0 590.7L549.1 591.5L547.9 592.8L546.7 594.0L545.4 595.7L544.2 597.3L543.4 599.0L542.8 600.6L542.8 602.3L543.7 604.0L544.9 604.8Z" fill="#4493c7" fill-rule="evenodd"/>
<path d="M507.9 652.0L509.2 652.2L510.5 652.2L511.8 652.2L513.0 652.0L514.3 651.8L515.6 651.6L516.9 651.2L518.2 650.8L519.5 650.4L520.8 649.9L522.1 649.4L523.4 648.7L524.7 648.0L526.0 647.2L527.2 646.3L528.4 645.3L529.6 643.7L529.7 642.0L528.5 640.8L527.2 640.3L526.0 640.0L524.7 639.8L523.4 639.7L522.1 639.7L520.8 639.7L519.5 639.8L518.2 640.0L516.9 640.2L515.6 640.5L514.3 640.9L513.0 641.3L511.8 641.9L510.5 642.6L509.2 643.4L507.9 644.4L506.9 645.3L505.7 647.0L505.0 648.6L505.2 650.3L506.6 651.6ZM550.5 603.3L551.8 603.4L553.0 603.4L554.3 603.3L555.6 603.2L556.9 603.1L558.2 602.9L559.5 602.6L560.8 602.4L562.1 602.1L563.4 601.9L564.7 601.6L566.0 601.3L567.2 601.0L568.5 600.7L569.8 600.5L571.1 600.2L572.4 599.9L573.7 599.6L575.0 599.4L576.3 599.1L577.6 598.8L578.9 598.6L580.1 598.4L581.4 598.2L582.7 598.0L584.0 597.8L585.3 597.6L586.6 597.4L587.9 597.3L589.2 597.1L590.5 596.9L591.8 596.7L593.0 596.4L594.3 596.2L595.6 595.8L596.9 595.5L598.2 595.1L599.5 594.7L600.8 594.3L602.1 593.8L603.4 593.4L604.7 592.9L605.9 592.4L607.2 591.8L608.5 591.3L609.8 590.7L611.1 590.2L612.4 589.6L613.7 589.1L615.0 588.5L616.3 587.9L617.6 587.3L618.9 586.6L620.1 585.9L621.4 585.2L622.7 584.2L623.0 582.4L621.4 582.3L620.1 582.3L618.9 582.5L617.6 582.7L616.3 582.9L615.0 583.1L613.7 583.3L612.4 583.5L611.1 583.8L609.8 583.9L608.5 584.1L607.2 584.2L605.9 584.3L604.7 584.3L603.4 584.3L602.1 584.1L600.8 583.8L599.5 583.4L598.2 582.8L596.9 582.0L595.6 581.1L594.3 580.1L593.0 579.2L591.8 578.4L590.5 577.8L589.2 577.3L587.9 577.0L586.6 576.8L585.3 576.6L584.0 576.6L582.7 576.6L581.4 576.8L580.1 576.9L578.9 577.1L577.6 577.4L576.3 577.7L575.0 578.1L573.7 578.5L572.4 578.9L571.1 579.4L569.8 579.9L568.5 580.5L567.2 581.1L566.1 581.6L564.7 582.3L563.4 583.0L562.1 583.8L560.8 584.6L559.5 585.4L558.2 586.2L556.9 587.1L555.6 588.1L554.4 589.1L553.4 589.9L552.5 590.7L551.6 591.5L550.5 592.7L549.2 594.0L548.0 595.7L547.0 597.3L546.4 599.0L546.3 600.6L547.4 602.3L549.2 603.1Z" fill="#2c7cba" fill-rule="evenodd"/>
<path d="M553.0 600.8L554.3 601.0L555.6 601.1L556.9 601.0L558.2 600.9L559.5 600.8L560.8 600.6L562.1 600.3L563.4 600.1L564.7 599.8L566.0 599.5L567.2 599.2L568.5 598.9L569.8 598.6L571.1 598.2L572.4 597.9L573.7 597.5L575.0 597.2L576.3 596.8L577.6 596.5L578.9 596.1L580.1 595.7L581.4 595.3L582.7 594.9L584.0 594.4L585.3 594.0L586.6 593.5L587.9 592.9L589.1 592.4L590.5 591.6L591.7 590.7L593.0 589.1L593.3 587.4L593.0 586.2L592.6 584.9L591.8 583.4L591.0 582.4L589.2 580.8L587.9 580.0L586.6 579.5L585.3 579.1L584.0 578.9L582.7 578.9L581.4 578.9L580.1 578.9L578.9 579.1L577.6 579.3L576.3 579.6L575.0 579.9L573.7 580.3L572.4 580.7L571.1 581.2L569.8 581.7L568.5 582.2L567.2 582.8L566.0 583.5L564.8 584.1L563.4 584.9L562.1 585.7L560.8 586.5L559.5 587.4L558.3 588.2L557.2 589.1L556.2 589.9L555.3 590.7L554.4 591.5L553.0 592.9L552.2 594.0L551.1 595.7L550.5 597.1L550.4 599.0L551.8 600.4Z" fill="#08509b" fill-rule="evenodd"/>
</g>
<g class="ph"><circle cx="583.0" cy="564.2" r="2.35"/><circle cx="577.6" cy="572.8" r="2.35"/><circle cx="558.6" cy="572.8" r="2.35"/><circle cx="558.6" cy="579.1" r="2.35"/><circle cx="551.0" cy="583.6" r="2.35"/><circle cx="558.6" cy="587.1" r="2.35"/><circle cx="568.1" cy="576.9" r="2.35"/><circle cx="565.9" cy="581.3" r="2.35"/><circle cx="568.8" cy="582.0" r="2.35"/><circle cx="570.3" cy="584.2" r="2.35"/><circle cx="565.9" cy="586.4" r="2.35"/><circle cx="567.4" cy="588.6" r="2.35"/><circle cx="564.5" cy="589.3" r="2.35"/><circle cx="571.0" cy="590.0" r="2.35"/><circle cx="573.2" cy="586.4" r="2.35"/><circle cx="577.6" cy="584.2" r="2.35"/><circle cx="576.1" cy="587.8" r="2.35"/><circle cx="579.1" cy="590.8" r="2.35"/><circle cx="577.6" cy="593.0" r="2.35"/><circle cx="580.5" cy="586.4" r="2.35"/><circle cx="583.4" cy="584.9" r="2.35"/><circle cx="584.9" cy="579.8" r="2.35"/><circle cx="582.7" cy="576.2" r="2.35"/><circle cx="587.1" cy="582.7" r="2.35"/><circle cx="588.5" cy="589.3" r="2.35"/><circle cx="586.4" cy="593.0" r="2.35"/><circle cx="565.9" cy="593.7" r="2.35"/><circle cx="570.3" cy="594.4" r="2.35"/><circle cx="573.9" cy="595.1" r="2.35"/><circle cx="577.6" cy="597.3" r="2.35"/><circle cx="579.1" cy="601.0" r="2.35"/><circle cx="583.4" cy="601.7" r="2.35"/><circle cx="583.4" cy="606.8" r="2.35"/><circle cx="579.1" cy="605.4" r="2.35"/><circle cx="588.5" cy="603.2" r="2.35"/><circle cx="553.5" cy="593.2" r="2.35"/><circle cx="557.9" cy="593.0" r="2.35"/><circle cx="559.3" cy="597.3" r="2.35"/><circle cx="556.4" cy="598.5" r="2.35"/><circle cx="539.9" cy="592.7" r="2.35"/><circle cx="539.9" cy="595.9" r="2.35"/><circle cx="538.2" cy="598.5" r="2.35"/><circle cx="539.9" cy="601.7" r="2.35"/><circle cx="545.5" cy="598.5" r="2.35"/><circle cx="545.5" cy="601.7" r="2.35"/><circle cx="551.0" cy="601.7" r="2.35"/><circle cx="553.1" cy="602.9" r="2.35"/><circle cx="549.1" cy="606.1" r="2.35"/><circle cx="551.3" cy="609.0" r="2.35"/><circle cx="537.9" cy="607.1" r="2.35"/><circle cx="562.6" cy="604.3" r="2.35"/><circle cx="581.2" cy="620.0" r="2.35"/><circle cx="589.3" cy="621.9" r="2.35"/><circle cx="575.8" cy="627.3" r="2.35"/><circle cx="579.3" cy="631.2" r="2.35"/><circle cx="577.6" cy="636.0" r="2.35"/><circle cx="573.2" cy="636.8" r="2.35"/><circle cx="571.8" cy="636.0" r="2.35"/><circle cx="573.9" cy="636.0" r="2.35"/><circle cx="564.5" cy="641.1" r="2.35"/><circle cx="562.6" cy="652.1" r="2.35"/><circle cx="551.0" cy="641.9" r="2.35"/><circle cx="547.2" cy="638.9" r="2.35"/><circle cx="541.8" cy="641.9" r="2.35"/><circle cx="545.5" cy="630.9" r="2.35"/><circle cx="538.2" cy="635.0" r="2.35"/><circle cx="536.7" cy="638.9" r="2.35"/><circle cx="535.3" cy="642.6" r="2.35"/><circle cx="534.5" cy="646.2" r="2.35"/><circle cx="532.3" cy="646.7" r="2.35"/><circle cx="526.5" cy="636.8" r="2.35"/><circle cx="526.5" cy="644.1" r="2.35"/><circle cx="528.7" cy="651.4" r="2.35"/><circle cx="528.2" cy="660.4" r="2.35"/><circle cx="522.8" cy="654.3" r="2.35"/><circle cx="520.7" cy="643.3" r="2.35"/><circle cx="520.7" cy="647.0" r="2.35"/><circle cx="520.7" cy="649.9" r="2.35"/><circle cx="519.2" cy="634.6" r="2.35"/><circle cx="520.7" cy="630.9" r="2.35"/><circle cx="517.0" cy="644.8" r="2.35"/><circle cx="513.4" cy="624.8" r="2.35"/><circle cx="513.4" cy="642.6" r="2.35"/><circle cx="513.4" cy="649.9" r="2.35"/><circle cx="509.7" cy="641.1" r="2.35"/><circle cx="509.7" cy="643.3" r="2.35"/><circle cx="509.7" cy="647.0" r="2.35"/><circle cx="508.2" cy="651.4" r="2.35"/><circle cx="507.8" cy="654.3" r="2.35"/><circle cx="506.1" cy="646.2" r="2.35"/><circle cx="503.9" cy="633.8" r="2.35"/><circle cx="507.8" cy="632.4" r="2.35"/><circle cx="499.9" cy="628.0" r="2.35"/><circle cx="494.7" cy="629.2" r="2.35"/><circle cx="499.9" cy="636.8" r="2.35"/><circle cx="499.9" cy="639.4" r="2.35"/><circle cx="498.8" cy="648.4" r="2.35"/><circle cx="495.8" cy="652.5" r="2.35"/><circle cx="498.0" cy="657.2" r="2.35"/><circle cx="499.5" cy="652.8" r="2.35"/><circle cx="496.6" cy="644.8" r="2.35"/><circle cx="511.9" cy="636.8" r="2.35"/><circle cx="515.5" cy="652.1" r="2.35"/><circle cx="517.0" cy="652.5" r="2.35"/><circle cx="590.8" cy="569.6" r="2.35"/><circle cx="590.8" cy="571.8" r="2.35"/><circle cx="594.6" cy="579.8" r="2.35"/><circle cx="596.7" cy="578.4" r="2.35"/><circle cx="590.8" cy="585.7" r="2.35"/><circle cx="593.0" cy="590.0" r="2.35"/><circle cx="594.6" cy="590.0" r="2.35"/><circle cx="596.7" cy="588.6" r="2.35"/><circle cx="600.3" cy="593.7" r="2.35"/><circle cx="600.3" cy="597.3" r="2.35"/><circle cx="596.4" cy="601.7" r="2.35"/><circle cx="590.8" cy="604.6" r="2.35"/><circle cx="604.0" cy="586.4" r="2.35"/><circle cx="604.0" cy="593.2" r="2.35"/><circle cx="611.3" cy="582.0" r="2.35"/><circle cx="613.5" cy="579.1" r="2.35"/><circle cx="615.4" cy="578.4" r="2.35"/><circle cx="615.4" cy="585.7" r="2.35"/><circle cx="615.4" cy="590.0" r="2.35"/><circle cx="619.3" cy="582.7" r="2.35"/><circle cx="619.3" cy="590.0" r="2.35"/><circle cx="611.3" cy="587.8" r="2.35"/><circle cx="615.4" cy="601.7" r="2.35"/><circle cx="615.4" cy="603.2" r="2.35"/><circle cx="628.5" cy="580.5" r="2.35"/><circle cx="628.5" cy="587.1" r="2.35"/><circle cx="628.5" cy="593.0" r="2.35"/><circle cx="632.4" cy="569.6" r="2.35"/><circle cx="632.4" cy="574.7" r="2.35"/><circle cx="632.4" cy="579.8" r="2.35"/><circle cx="636.1" cy="570.3" r="2.35"/><circle cx="636.1" cy="580.5" r="2.35"/><circle cx="634.3" cy="585.7" r="2.35"/><circle cx="636.1" cy="586.4" r="2.35"/><circle cx="634.3" cy="589.3" r="2.35"/><circle cx="641.9" cy="582.0" r="2.35"/><circle cx="643.8" cy="561.6" r="2.35"/><circle cx="643.8" cy="565.9" r="2.35"/><circle cx="643.8" cy="569.6" r="2.35"/><circle cx="643.8" cy="572.5" r="2.35"/><circle cx="651.4" cy="574.0" r="2.35"/><circle cx="651.4" cy="576.9" r="2.35"/><circle cx="651.4" cy="579.8" r="2.35"/><circle cx="594.6" cy="614.9" r="2.35"/><circle cx="594.6" cy="620.0" r="2.35"/><circle cx="590.8" cy="622.2" r="2.35"/><circle cx="594.6" cy="632.7" r="2.35"/><circle cx="611.6" cy="628.0" r="2.35"/><circle cx="596.4" cy="645.1" r="2.35"/></g>
<path d="M494.1 641.2 L509.88 633.83 L525.66 626.36 L541.44 618.69 L557.22 610.92 L573 602.95 L588.78 594.78 L604.56 586.41 L620.34 577.94 L636.12 569.27 L651.9 560.5 L651.9 567.7 L636.12 575.07 L620.34 582.54 L604.56 590.21 L588.78 597.98 L573 605.95 L557.22 614.12 L541.44 622.49 L525.66 630.96 L509.88 639.63 L494.1 648.4Z" fill="#2ca02c" fill-opacity="0.2"/>
<line x1="494.1" y1="644.8" x2="651.9" y2="564.1" stroke="#2e9a2e" stroke-width="1.75"/>
<line x1="490.7" y1="680.8" x2="679.4" y2="505.3" stroke="#ff0000" stroke-width="1.25" stroke-dasharray="3.9,1.8" clip-path="url(#cliph)"/>
<line x1="490.7" y1="680.8" x2="490.7" y2="684" stroke="#444" stroke-width="0.9"/>
<line x1="487.5" y1="680.8" x2="490.7" y2="680.8" stroke="#444" stroke-width="0.9"/>
<text x="490.7" y="692.1" font-size="8" text-anchor="middle" font-weight="normal" fill="#222">0</text>
<line x1="528.44" y1="680.8" x2="528.44" y2="684" stroke="#444" stroke-width="0.9"/>
<line x1="487.5" y1="645.7" x2="490.7" y2="645.7" stroke="#444" stroke-width="0.9"/>
<text x="528.44" y="692.1" font-size="8" text-anchor="middle" font-weight="normal" fill="#222">20</text>
<line x1="566.18" y1="680.8" x2="566.18" y2="684" stroke="#444" stroke-width="0.9"/>
<line x1="487.5" y1="610.6" x2="490.7" y2="610.6" stroke="#444" stroke-width="0.9"/>
<text x="566.18" y="692.1" font-size="8" text-anchor="middle" font-weight="normal" fill="#222">40</text>
<line x1="603.92" y1="680.8" x2="603.92" y2="684" stroke="#444" stroke-width="0.9"/>
<line x1="487.5" y1="575.5" x2="490.7" y2="575.5" stroke="#444" stroke-width="0.9"/>
<text x="603.92" y="692.1" font-size="8" text-anchor="middle" font-weight="normal" fill="#222">60</text>
<line x1="641.66" y1="680.8" x2="641.66" y2="684" stroke="#444" stroke-width="0.9"/>
<line x1="487.5" y1="540.4" x2="490.7" y2="540.4" stroke="#444" stroke-width="0.9"/>
<text x="641.66" y="692.1" font-size="8" text-anchor="middle" font-weight="normal" fill="#222">80</text>
<line x1="679.4" y1="680.8" x2="679.4" y2="684" stroke="#444" stroke-width="0.9"/>
<line x1="487.5" y1="505.3" x2="490.7" y2="505.3" stroke="#444" stroke-width="0.9"/>
<text x="679.4" y="692.1" font-size="8" text-anchor="middle" font-weight="normal" fill="#222">100</text>
<line x1="490.7" y1="504.9" x2="490.7" y2="681.25" stroke="#444" stroke-width="0.95"/>
<line x1="490.25" y1="680.8" x2="679.8" y2="680.8" stroke="#444" stroke-width="0.95"/>
<text x="577.4" y="702.7" font-size="8.9" text-anchor="middle" font-weight="normal" fill="#111">Chronological age (years)</text>
<rect x="497.7" y="511.1" width="60.1" height="26" rx="2.3" fill="#fff" fill-opacity="0.8" stroke="#8c8c8c" stroke-width="0.8"/>
<text y="521" font-size="9.3" fill="#111"><tspan x="500.2" font-style="italic">R</tspan><tspan x="507.6" dy="-3.0" font-size="6.5">2</tspan><tspan x="513.2" dy="3.0" textLength="26.5" lengthAdjust="spacingAndGlyphs">: 0.61</tspan></text>
<text x="500" y="531.6" font-size="9.3" text-anchor="start" font-weight="normal" fill="#111" textLength="53.0" lengthAdjust="spacingAndGlyphs">MAE: 10.86</text>
<text x="146" y="286.8" font-size="13.8" text-anchor="start" font-weight="bold" fill="#000">Lung</text>
<text x="350.9" y="286.6" font-size="13.8" text-anchor="start" font-weight="bold" fill="#000">Blood</text>
<text x="562" y="287.8" font-size="13.8" text-anchor="start" font-weight="bold" fill="#000">Brain</text>
<text x="13" y="384.05" font-size="17.4" text-anchor="middle" font-weight="normal" fill="#48b5ad" transform="rotate(-90 13 384.05)" textLength="101.2" lengthAdjust="spacingAndGlyphs">MitraCluster</text>
<text x="13.1" y="591.95" font-size="17.4" text-anchor="middle" font-weight="normal" fill="#d670d6" transform="rotate(-90 13.1 591.95)" textLength="72.6" lengthAdjust="spacingAndGlyphs">BS-clock</text>
<text x="44.8" y="391.5" font-size="9" text-anchor="middle" font-weight="normal" fill="#111" transform="rotate(-90 44.8 391.5)">Predicted age (years)</text>
<text x="45" y="591.5" font-size="9" text-anchor="middle" font-weight="normal" fill="#111" transform="rotate(-90 45 591.5)">Predicted age (years)</text>
<text x="20.1" y="303.7" font-size="19.6" text-anchor="start" font-weight="normal" fill="#111">c</text>
<text x="19.9" y="509.4" font-size="19.6" text-anchor="start" font-weight="normal" fill="#111">d</text>
<text x="256.2" y="303.8" font-size="19.6" text-anchor="start" font-weight="normal" fill="#111">e</text>
<text x="256.7" y="509.2" font-size="19.6" text-anchor="start" font-weight="normal" fill="#111">f</text>
<text x="468.7" y="303.8" font-size="19.6" text-anchor="start" font-weight="normal" fill="#111">g</text>
<text x="468.1" y="509.2" font-size="19.6" text-anchor="start" font-weight="normal" fill="#111">h</text>
<line x1="275.9" y1="763.4" x2="275.9" y2="742.6" stroke="#7a7a7a" stroke-width="1.3"/>
<line x1="275.9" y1="785.4" x2="275.9" y2="786" stroke="#7a7a7a" stroke-width="1.3"/>
<line x1="256.2" y1="742.6" x2="295.9" y2="742.6" stroke="#7a7a7a" stroke-width="1.3"/>
<line x1="256.2" y1="786" x2="295.9" y2="786" stroke="#7a7a7a" stroke-width="1.3"/>
<rect x="236.2" y="763.4" width="79.4" height="22" fill="#3274a1" stroke="#444" stroke-width="0.85"/>
<line x1="236.2" y1="783.5" x2="315.6" y2="783.5" stroke="#444" stroke-width="0.9"/>
<line x1="375.3" y1="899" x2="375.3" y2="896.5" stroke="#7a7a7a" stroke-width="1.3"/>
<line x1="375.3" y1="902.2" x2="375.3" y2="902.4" stroke="#7a7a7a" stroke-width="1.3"/>
<line x1="355.2" y1="896.5" x2="395.5" y2="896.5" stroke="#7a7a7a" stroke-width="1.3"/>
<line x1="355.2" y1="902.4" x2="395.5" y2="902.4" stroke="#7a7a7a" stroke-width="1.3"/>
<rect x="335.4" y="899" width="79.7" height="3.2" fill="#e1812c" stroke="#444" stroke-width="0.85"/>
<line x1="335.4" y1="902" x2="415.1" y2="902" stroke="#444" stroke-width="0.9"/>
<line x1="474.5" y1="899" x2="474.5" y2="896.1" stroke="#7a7a7a" stroke-width="1.3"/>
<line x1="474.5" y1="905.5" x2="474.5" y2="909.3" stroke="#7a7a7a" stroke-width="1.3"/>
<line x1="454.4" y1="896.1" x2="494.5" y2="896.1" stroke="#7a7a7a" stroke-width="1.3"/>
<line x1="454.4" y1="909.3" x2="494.5" y2="909.3" stroke="#7a7a7a" stroke-width="1.3"/>
<rect x="434.7" y="899" width="79.5" height="6.5" fill="#3a923a" stroke="#444" stroke-width="0.85"/>
<line x1="434.7" y1="901.6" x2="514.2" y2="901.6" stroke="#444" stroke-width="0.9"/>
<circle cx="277.5" cy="742.9" r="2.15" fill="#4a90c8"/>
<circle cx="266" cy="786.5" r="2.15" fill="#4a90c8"/>
<circle cx="270.2" cy="783.7" r="2.15" fill="#4a90c8"/>
<circle cx="369.4" cy="896.6" r="2.15" fill="#4a90c8"/>
<circle cx="369.7" cy="902.2" r="2.15" fill="#4a90c8"/>
<circle cx="477.4" cy="895.7" r="2.15" fill="#4a90c8"/>
<circle cx="479.6" cy="901.6" r="2.15" fill="#4a90c8"/>
<circle cx="475.9" cy="909.5" r="2.15" fill="#4a90c8"/>
<rect x="226.8" y="734.6" width="297.7" height="183" fill="none" stroke="#333" stroke-width="1"/>
<line x1="224" y1="890.4" x2="226.8" y2="890.4" stroke="#333" stroke-width="0.9"/>
<text x="221.2" y="895.2" font-size="8.2" text-anchor="end" font-weight="normal" fill="#222">10</text>
<line x1="224" y1="859.6" x2="226.8" y2="859.6" stroke="#333" stroke-width="0.9"/>
<text x="221.2" y="864.4" font-size="8.2" text-anchor="end" font-weight="normal" fill="#222">20</text>
<line x1="224" y1="828.8" x2="226.8" y2="828.8" stroke="#333" stroke-width="0.9"/>
<text x="221.2" y="833.6" font-size="8.2" text-anchor="end" font-weight="normal" fill="#222">30</text>
<line x1="224" y1="798" x2="226.8" y2="798" stroke="#333" stroke-width="0.9"/>
<text x="221.2" y="802.8" font-size="8.2" text-anchor="end" font-weight="normal" fill="#222">40</text>
<line x1="224" y1="767.2" x2="226.8" y2="767.2" stroke="#333" stroke-width="0.9"/>
<text x="221.2" y="772" font-size="8.2" text-anchor="end" font-weight="normal" fill="#222">50</text>
<line x1="224" y1="736.4" x2="226.8" y2="736.4" stroke="#333" stroke-width="0.9"/>
<text x="221.2" y="741.2" font-size="8.2" text-anchor="end" font-weight="normal" fill="#222">60</text>
<line x1="276.2" y1="917.6" x2="276.2" y2="920.4" stroke="#333" stroke-width="0.9"/>
<line x1="375.3" y1="917.6" x2="375.3" y2="920.4" stroke="#333" stroke-width="0.9"/>
<line x1="474.6" y1="917.6" x2="474.6" y2="920.4" stroke="#333" stroke-width="0.9"/>
<text x="276.2" y="931.9" font-size="8.2" text-anchor="middle" font-weight="normal" fill="#222">NHEK</text>
<text x="276.2" y="942.2" font-size="8.2" text-anchor="middle" font-weight="normal" fill="#222">(control)</text>
<text x="375.3" y="931.4" font-size="8.2" text-anchor="middle" font-weight="normal" fill="#222">Yamanaka treatment 1</text>
<text x="474.6" y="931.4" font-size="8.2" text-anchor="middle" font-weight="normal" fill="#222">Yamanaka treatment 2</text>
<text x="376.2" y="953" font-size="9.4" text-anchor="middle" font-weight="normal" fill="#111">Treatment Group</text>
<text x="201.3" y="826.7" font-size="9.3" text-anchor="middle" font-weight="normal" fill="#111" transform="rotate(-90 201.3 826.7)">Predicted age (Years)</text>
<text x="194.3" y="746.2" font-size="19" text-anchor="start" font-weight="normal" fill="#111">i</text>
</svg>
</body></html>
